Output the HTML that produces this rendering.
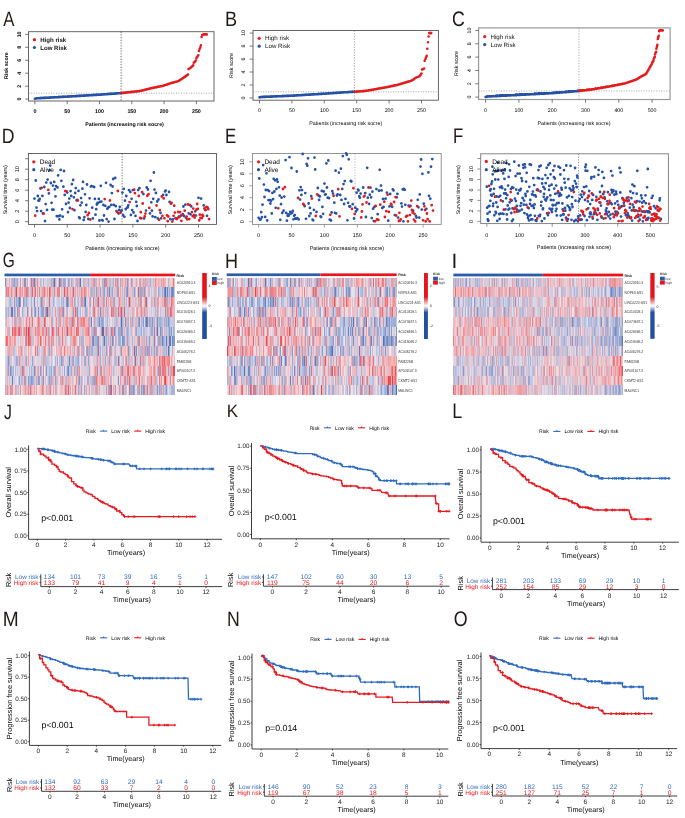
<!DOCTYPE html>
<html><head><meta charset="utf-8"><style>
html,body{margin:0;padding:0;background:#fff;}
svg{display:block;font-family:"Liberation Sans", sans-serif;position:absolute;left:0;top:0;}
#c{position:relative;width:685px;height:818px;overflow:hidden;filter:blur(0.3px);}
#c div{position:absolute;}
</style></head><body>
<div id="c"><svg width="685" height="818" viewBox="0 0 685 818" text-rendering="geometricPrecision">
<rect width="685" height="818" fill="#fff"/>
<g opacity="0.995">
<text transform="translate(3.17 25.50) scale(0.802 1)" font-size="20.88" fill="#201816">A</text>
<rect x="28.5" y="31.7" width="185.5" height="69.3" fill="none" stroke="#555" stroke-width="0.9"/>
<line x1="25.2" y1="99.1" x2="28.5" y2="99.1" stroke="#555" stroke-width="0.8"/>
<text x="21" y="99.1" font-size="5.3" text-anchor="middle" font-weight="bold" fill="#000" transform="rotate(-90 21 99.1)">0</text>
<line x1="25.2" y1="86.2" x2="28.5" y2="86.2" stroke="#555" stroke-width="0.8"/>
<text x="21" y="86.2" font-size="5.3" text-anchor="middle" font-weight="bold" fill="#000" transform="rotate(-90 21 86.2)">2</text>
<line x1="25.2" y1="73.2" x2="28.5" y2="73.2" stroke="#555" stroke-width="0.8"/>
<text x="21" y="73.2" font-size="5.3" text-anchor="middle" font-weight="bold" fill="#000" transform="rotate(-90 21 73.2)">4</text>
<line x1="25.2" y1="60.3" x2="28.5" y2="60.3" stroke="#555" stroke-width="0.8"/>
<text x="21" y="60.3" font-size="5.3" text-anchor="middle" font-weight="bold" fill="#000" transform="rotate(-90 21 60.3)">6</text>
<line x1="25.2" y1="47.3" x2="28.5" y2="47.3" stroke="#555" stroke-width="0.8"/>
<text x="21" y="47.3" font-size="5.3" text-anchor="middle" font-weight="bold" fill="#000" transform="rotate(-90 21 47.3)">8</text>
<line x1="25.2" y1="34.4" x2="28.5" y2="34.4" stroke="#555" stroke-width="0.8"/>
<text x="21" y="34.4" font-size="5.3" text-anchor="middle" font-weight="bold" fill="#000" transform="rotate(-90 21 34.4)">10</text>
<line x1="34.9" y1="101" x2="34.9" y2="104.2" stroke="#555" stroke-width="0.8"/>
<text x="34.9" y="113" font-size="5.3" text-anchor="middle" font-weight="bold" fill="#000">0</text>
<line x1="67.2" y1="101" x2="67.2" y2="104.2" stroke="#555" stroke-width="0.8"/>
<text x="67.2" y="113" font-size="5.3" text-anchor="middle" font-weight="bold" fill="#000">50</text>
<line x1="99.5" y1="101" x2="99.5" y2="104.2" stroke="#555" stroke-width="0.8"/>
<text x="99.5" y="113" font-size="5.3" text-anchor="middle" font-weight="bold" fill="#000">100</text>
<line x1="131.8" y1="101" x2="131.8" y2="104.2" stroke="#555" stroke-width="0.8"/>
<text x="131.8" y="113" font-size="5.3" text-anchor="middle" font-weight="bold" fill="#000">150</text>
<line x1="164.1" y1="101" x2="164.1" y2="104.2" stroke="#555" stroke-width="0.8"/>
<text x="164.1" y="113" font-size="5.3" text-anchor="middle" font-weight="bold" fill="#000">200</text>
<line x1="196.4" y1="101" x2="196.4" y2="104.2" stroke="#555" stroke-width="0.8"/>
<text x="196.4" y="113" font-size="5.3" text-anchor="middle" font-weight="bold" fill="#000">250</text>
<text x="124.6" y="125.5" font-size="5.3" text-anchor="middle" font-weight="bold" fill="#000">Patients (increasing risk socre)</text>
<text x="8.3" y="65.6" font-size="5.3" text-anchor="middle" font-weight="bold" fill="#000" transform="rotate(-90 8.3 65.6)">Risk score</text>
<line x1="28.5" y1="93.2" x2="214" y2="93.2" stroke="#888" stroke-width="0.7" stroke-dasharray="1.1 1.4"/>
<line x1="121.1" y1="31.7" x2="121.1" y2="101" stroke="#222" stroke-width="0.7" stroke-dasharray="1.2 1.5"/>
<path d="M34.9 98.8h0M35.5 98.6h0M36.2 98.5h0M36.8 98.3h0M37.5 98.3h0M38.1 98.3h0M38.8 98.2h0M39.4 98.2h0M40.1 98.1h0M40.7 98.1h0M41.4 98.1h0M42 98h0M42.7 98h0M43.3 98h0M43.9 97.9h0M44.6 97.9h0M45.2 97.9h0M45.9 97.8h0M46.5 97.8h0M47.2 97.8h0M47.8 97.7h0M48.5 97.7h0M49.1 97.6h0M49.8 97.6h0M50.4 97.6h0M51 97.5h0M51.7 97.5h0M52.3 97.5h0M53 97.4h0M53.6 97.4h0M54.3 97.4h0M54.9 97.3h0M55.6 97.3h0M56.2 97.2h0M56.9 97.2h0M57.5 97.2h0M58.2 97.1h0M58.8 97.1h0M59.4 97.1h0M60.1 97h0M60.7 97h0M61.4 97h0M62 96.9h0M62.7 96.9h0M63.3 96.9h0M64 96.8h0M64.6 96.8h0M65.3 96.7h0M65.9 96.7h0M66.6 96.7h0M67.2 96.6h0M67.8 96.6h0M68.5 96.6h0M69.1 96.5h0M69.8 96.5h0M70.4 96.4h0M71.1 96.4h0M71.7 96.4h0M72.4 96.3h0M73 96.3h0M73.7 96.3h0M74.3 96.2h0M75 96.2h0M75.6 96.1h0M76.2 96.1h0M76.9 96.1h0M77.5 96h0M78.2 96h0M78.8 95.9h0M79.5 95.9h0M80.1 95.9h0M80.8 95.8h0M81.4 95.8h0M82.1 95.7h0M82.7 95.7h0M83.3 95.7h0M84 95.6h0M84.6 95.6h0M85.3 95.6h0M85.9 95.5h0M86.6 95.5h0M87.2 95.4h0M87.9 95.4h0M88.5 95.4h0M89.2 95.3h0M89.8 95.3h0M90.5 95.2h0M91.1 95.2h0M91.7 95.2h0M92.4 95.1h0M93 95.1h0M93.7 95h0M94.3 95h0M95 95h0M95.6 94.9h0M96.3 94.9h0M96.9 94.9h0M97.6 94.8h0M98.2 94.8h0M98.9 94.7h0M99.5 94.7h0M100.1 94.7h0M100.8 94.6h0M101.4 94.6h0M102.1 94.5h0M102.7 94.5h0M103.4 94.4h0M104 94.4h0M104.7 94.3h0M105.3 94.3h0M106 94.2h0M106.6 94.2h0M107.3 94.1h0M107.9 94.1h0M108.5 94h0M109.2 94h0M109.8 93.9h0M110.5 93.9h0M111.1 93.9h0M111.8 93.8h0M112.4 93.8h0M113.1 93.7h0M113.7 93.7h0M114.4 93.6h0M115 93.6h0M115.7 93.5h0M116.3 93.5h0M116.9 93.4h0M117.6 93.4h0M118.2 93.3h0M118.9 93.3h0M119.5 93.2h0M120.2 93.2h0M120.8 93.1h0" stroke="#2451A6" stroke-width="2.64" stroke-linecap="round"/>
<path d="M121.5 93.1h0M122.1 93h0M122.8 92.9h0M123.4 92.9h0M124 92.8h0M124.7 92.7h0M125.3 92.6h0M126 92.6h0M126.6 92.5h0M127.3 92.4h0M127.9 92.4h0M128.6 92.3h0M129.2 92.2h0M129.9 92.2h0M130.5 92.1h0M131.2 92h0M131.8 91.9h0M132.4 91.9h0M133.1 91.8h0M133.7 91.7h0M134.4 91.7h0M135 91.6h0M135.7 91.5h0M136.3 91.4h0M137 91.4h0M137.6 91.3h0M138.3 91.2h0M138.9 91.2h0M139.6 91.1h0M140.2 91h0M140.8 90.8h0M141.5 90.7h0M142.1 90.5h0M142.8 90.4h0M143.4 90.2h0M144.1 90h0M144.7 89.9h0M145.4 89.7h0M146 89.5h0M146.7 89.4h0M147.3 89.2h0M147.9 89h0M148.6 88.9h0M149.2 88.7h0M149.9 88.6h0M150.5 88.4h0M151.2 88.2h0M151.8 88.1h0M152.5 88h0M153.1 87.8h0M153.8 87.7h0M154.4 87.6h0M155.1 87.5h0M155.7 87.3h0M156.3 87.2h0M157 87.1h0M157.6 86.9h0M158.3 86.8h0M158.9 86.7h0M159.6 86.5h0M160.2 86.4h0M160.9 86.3h0M161.5 86.2h0M162.2 86h0M162.8 85.8h0M163.5 85.6h0M164.1 85.4h0M164.7 85.2h0M165.4 85h0M166 84.8h0M166.7 84.6h0M167.3 84.4h0M168 84.1h0M168.6 83.9h0M169.3 83.7h0M169.9 83.5h0M170.6 83.3h0M171.2 83.1h0M171.9 82.9h0M172.5 82.8h0M173.1 82.6h0M173.8 82.4h0M174.4 82.2h0M175.1 82h0M175.7 81.8h0M176.4 81.7h0M177 81.5h0M177.7 81.3h0M178.3 81.1h0M179 80.7h0M179.6 80.3h0M180.2 79.9h0M180.9 79.5h0M181.5 79.1h0M182.2 78.6h0M182.8 78.2h0M183.5 77.8h0M184.1 77.3h0M184.8 76.9h0M185.4 76.4h0M186.1 75.9h0M186.7 75.5h0M187.4 75h0M188 74.5h0M188.6 69.1h0M189.3 68.6h0M189.9 68.2h0M190.6 67.7h0M191.2 67.2h0M191.9 66.6h0M192.5 66h0M193.2 65.4h0M193.8 62.7h0M194.5 62.1h0M195.1 61.5h0M195.8 60.8h0M196.4 58.2h0M197 57.2h0M197.7 56.2h0M198.3 55.2h0M199 51h0M199.6 49.1h0M200.3 47.2h0M200.9 45.2h0M201.6 37h0M202.2 35.1h0M202.9 34.8h0M203.5 34.4h0M204.2 34.4h0M204.8 34.4h0M205.4 34.4h0M206.1 34.4h0M206.7 34.4h0" stroke="#E41A1C" stroke-width="2.64" stroke-linecap="round"/>
<circle cx="34.4" cy="39.7" r="1.6" fill="#E41A1C"/>
<circle cx="34.4" cy="47.5" r="1.6" fill="#2451A6"/>
<text x="40.2" y="41.8" font-size="6.1" font-weight="bold" fill="#111">High risk</text>
<text x="40.2" y="49.6" font-size="6.1" font-weight="bold" fill="#111">Low Risk</text>
<text transform="translate(224.95 25.70) scale(0.875 1)" font-size="20.72" fill="#201816">B</text>
<rect x="253" y="30.5" width="185.4" height="69.7" fill="none" stroke="#555" stroke-width="0.9"/>
<line x1="249.7" y1="98" x2="253" y2="98" stroke="#555" stroke-width="0.8"/>
<text x="245.3" y="98" font-size="5.3" text-anchor="middle" fill="#000" transform="rotate(-90 245.3 98)">0</text>
<line x1="249.7" y1="85" x2="253" y2="85" stroke="#555" stroke-width="0.8"/>
<text x="245.3" y="85" font-size="5.3" text-anchor="middle" fill="#000" transform="rotate(-90 245.3 85)">2</text>
<line x1="249.7" y1="72" x2="253" y2="72" stroke="#555" stroke-width="0.8"/>
<text x="245.3" y="72" font-size="5.3" text-anchor="middle" fill="#000" transform="rotate(-90 245.3 72)">4</text>
<line x1="249.7" y1="59.1" x2="253" y2="59.1" stroke="#555" stroke-width="0.8"/>
<text x="245.3" y="59.1" font-size="5.3" text-anchor="middle" fill="#000" transform="rotate(-90 245.3 59.1)">6</text>
<line x1="249.7" y1="46.1" x2="253" y2="46.1" stroke="#555" stroke-width="0.8"/>
<text x="245.3" y="46.1" font-size="5.3" text-anchor="middle" fill="#000" transform="rotate(-90 245.3 46.1)">8</text>
<line x1="249.7" y1="33.1" x2="253" y2="33.1" stroke="#555" stroke-width="0.8"/>
<text x="245.3" y="33.1" font-size="5.3" text-anchor="middle" fill="#000" transform="rotate(-90 245.3 33.1)">10</text>
<line x1="259.5" y1="100.2" x2="259.5" y2="103.4" stroke="#555" stroke-width="0.8"/>
<text x="259.5" y="111.9" font-size="5.3" text-anchor="middle" fill="#000">0</text>
<line x1="291.9" y1="100.2" x2="291.9" y2="103.4" stroke="#555" stroke-width="0.8"/>
<text x="291.9" y="111.9" font-size="5.3" text-anchor="middle" fill="#000">50</text>
<line x1="324.3" y1="100.2" x2="324.3" y2="103.4" stroke="#555" stroke-width="0.8"/>
<text x="324.3" y="111.9" font-size="5.3" text-anchor="middle" fill="#000">100</text>
<line x1="356.7" y1="100.2" x2="356.7" y2="103.4" stroke="#555" stroke-width="0.8"/>
<text x="356.7" y="111.9" font-size="5.3" text-anchor="middle" fill="#000">150</text>
<line x1="389.1" y1="100.2" x2="389.1" y2="103.4" stroke="#555" stroke-width="0.8"/>
<text x="389.1" y="111.9" font-size="5.3" text-anchor="middle" fill="#000">200</text>
<line x1="421.5" y1="100.2" x2="421.5" y2="103.4" stroke="#555" stroke-width="0.8"/>
<text x="421.5" y="111.9" font-size="5.3" text-anchor="middle" fill="#000">250</text>
<text x="345.8" y="124.7" font-size="5.35" text-anchor="middle" fill="#000">Patients (increasing risk socre)</text>
<text x="232.7" y="65.5" font-size="5.35" text-anchor="middle" fill="#000" transform="rotate(-90 232.7 65.5)">Risk score</text>
<line x1="253" y1="91.8" x2="438.4" y2="91.8" stroke="#888" stroke-width="0.7" stroke-dasharray="1.1 1.4"/>
<line x1="354.4" y1="30.5" x2="354.4" y2="100.2" stroke="#777" stroke-width="0.7" stroke-dasharray="1.2 1.5"/>
<path d="M259.5 97.4h0M260.1 97.2h0M260.8 97.1h0M261.4 97h0M262.1 97h0M262.7 97h0M263.4 96.9h0M264 96.9h0M264.7 96.9h0M265.3 96.9h0M266 96.8h0M266.6 96.8h0M267.3 96.8h0M267.9 96.8h0M268.6 96.7h0M269.2 96.7h0M269.9 96.7h0M270.5 96.6h0M271.2 96.6h0M271.8 96.6h0M272.5 96.6h0M273.1 96.5h0M273.8 96.5h0M274.4 96.5h0M275.1 96.4h0M275.7 96.4h0M276.3 96.4h0M277 96.4h0M277.6 96.3h0M278.3 96.3h0M278.9 96.3h0M279.6 96.3h0M280.2 96.2h0M280.9 96.2h0M281.5 96.2h0M282.2 96.1h0M282.8 96.1h0M283.5 96.1h0M284.1 96.1h0M284.8 96h0M285.4 96h0M286.1 96h0M286.7 95.9h0M287.4 95.9h0M288 95.9h0M288.7 95.9h0M289.3 95.8h0M290 95.8h0M290.6 95.8h0M291.3 95.8h0M291.9 95.7h0M292.5 95.7h0M293.2 95.6h0M293.8 95.6h0M294.5 95.6h0M295.1 95.5h0M295.8 95.5h0M296.4 95.4h0M297.1 95.4h0M297.7 95.4h0M298.4 95.3h0M299 95.3h0M299.7 95.2h0M300.3 95.2h0M301 95.2h0M301.6 95.1h0M302.3 95.1h0M302.9 95h0M303.6 95h0M304.2 95h0M304.9 94.9h0M305.5 94.9h0M306.2 94.8h0M306.8 94.8h0M307.5 94.8h0M308.1 94.7h0M308.7 94.7h0M309.4 94.6h0M310 94.6h0M310.7 94.6h0M311.3 94.5h0M312 94.5h0M312.6 94.4h0M313.3 94.4h0M313.9 94.4h0M314.6 94.3h0M315.2 94.3h0M315.9 94.2h0M316.5 94.2h0M317.2 94.2h0M317.8 94.1h0M318.5 94.1h0M319.1 94h0M319.8 94h0M320.4 94h0M321.1 93.9h0M321.7 93.9h0M322.4 93.8h0M323 93.8h0M323.7 93.8h0M324.3 93.7h0M324.9 93.7h0M325.6 93.6h0M326.2 93.6h0M326.9 93.5h0M327.5 93.5h0M328.2 93.4h0M328.8 93.4h0M329.5 93.4h0M330.1 93.3h0M330.8 93.3h0M331.4 93.2h0M332.1 93.2h0M332.7 93.1h0M333.4 93.1h0M334 93h0M334.7 93h0M335.3 93h0M336 92.9h0M336.6 92.9h0M337.3 92.8h0M337.9 92.8h0M338.6 92.7h0M339.2 92.7h0M339.9 92.6h0M340.5 92.6h0M341.1 92.6h0M341.8 92.5h0M342.4 92.5h0M343.1 92.4h0M343.7 92.4h0M344.4 92.3h0M345 92.3h0M345.7 92.3h0M346.3 92.2h0M347 92.2h0M347.6 92.2h0M348.3 92.1h0M348.9 92.1h0M349.6 92h0M350.2 92h0M350.9 92h0M351.5 91.9h0M352.2 91.9h0M352.8 91.9h0M353.5 91.8h0M354.1 91.8h0" stroke="#2451A6" stroke-width="2.64" stroke-linecap="round"/>
<path d="M354.8 91.8h0M355.4 91.7h0M356.1 91.7h0M356.7 91.6h0M357.3 91.6h0M358 91.5h0M358.6 91.5h0M359.3 91.4h0M359.9 91.4h0M360.6 91.3h0M361.2 91.3h0M361.9 91.2h0M362.5 91.2h0M363.2 91.1h0M363.8 91.1h0M364.5 91h0M365.1 91h0M365.8 90.9h0M366.4 90.8h0M367.1 90.7h0M367.7 90.5h0M368.4 90.4h0M369 90.3h0M369.7 90.2h0M370.3 90.1h0M371 90h0M371.6 89.9h0M372.3 89.8h0M372.9 89.7h0M373.5 89.6h0M374.2 89.4h0M374.8 89.3h0M375.5 89.2h0M376.1 89.1h0M376.8 89h0M377.4 88.9h0M378.1 88.8h0M378.7 88.6h0M379.4 88.5h0M380 88.4h0M380.7 88.3h0M381.3 88.2h0M382 88h0M382.6 87.9h0M383.3 87.8h0M383.9 87.7h0M384.6 87.6h0M385.2 87.5h0M385.9 87.3h0M386.5 87.2h0M387.2 87.1h0M387.8 87h0M388.5 86.8h0M389.1 86.7h0M389.7 86.5h0M390.4 86.4h0M391 86.3h0M391.7 86.1h0M392.3 86h0M393 85.9h0M393.6 85.7h0M394.3 85.6h0M394.9 85.4h0M395.6 85.3h0M396.2 85.2h0M396.9 85h0M397.5 84.9h0M398.2 84.7h0M398.8 84.5h0M399.5 84.3h0M400.1 84.1h0M400.8 83.9h0M401.4 83.7h0M402.1 83.5h0M402.7 83.3h0M403.4 83.1h0M404 82.9h0M404.7 82.7h0M405.3 82.5h0M405.9 82.3h0M406.6 82.1h0M407.2 81.9h0M407.9 81.7h0M408.5 81.6h0M409.2 81.4h0M409.8 81.2h0M410.5 81h0M411.1 80.8h0M411.8 80.6h0M412.4 80.1h0M413.1 79.7h0M413.7 79.2h0M414.4 78.7h0M415 78.3h0M415.7 77.8h0M416.3 77.5h0M417 77.3h0M417.6 77h0M418.3 76.7h0M418.9 76.5h0M419.6 76.2h0M420.2 75.3h0M420.9 74.4h0M421.5 73.5h0M422.1 69.6h0M422.8 69.2h0M423.4 68.8h0M424.1 68.5h0M424.7 60.8h0M425.4 59.2h0M426 57.5h0M426.7 55.9h0M427.3 48.8h0M428 42.2h0M428.6 36.5h0M429.3 33.1h0M429.9 33.1h0M430.6 33.1h0M431.2 33.1h0" stroke="#E41A1C" stroke-width="2.64" stroke-linecap="round"/>
<circle cx="259.2" cy="38.3" r="1.6" fill="#E41A1C"/>
<circle cx="259.2" cy="46.2" r="1.6" fill="#2451A6"/>
<text x="265" y="40.4" font-size="6.2" fill="#111">High risk</text>
<text x="265" y="48.3" font-size="6.2" fill="#111">Low Risk</text>
<text transform="translate(452.11 25.99) scale(0.847 1)" font-size="20.99" fill="#201816">C</text>
<rect x="478.6" y="27.9" width="191.5" height="71.6" fill="none" stroke="#999" stroke-width="1.2"/>
<line x1="475.3" y1="97.1" x2="478.6" y2="97.1" stroke="#555" stroke-width="0.8"/>
<text x="470.9" y="97.1" font-size="5.3" text-anchor="middle" fill="#000" transform="rotate(-90 470.9 97.1)">0</text>
<line x1="475.3" y1="83.8" x2="478.6" y2="83.8" stroke="#555" stroke-width="0.8"/>
<text x="470.9" y="83.8" font-size="5.3" text-anchor="middle" fill="#000" transform="rotate(-90 470.9 83.8)">2</text>
<line x1="475.3" y1="70.5" x2="478.6" y2="70.5" stroke="#555" stroke-width="0.8"/>
<text x="470.9" y="70.5" font-size="5.3" text-anchor="middle" fill="#000" transform="rotate(-90 470.9 70.5)">4</text>
<line x1="475.3" y1="57.1" x2="478.6" y2="57.1" stroke="#555" stroke-width="0.8"/>
<text x="470.9" y="57.1" font-size="5.3" text-anchor="middle" fill="#000" transform="rotate(-90 470.9 57.1)">6</text>
<line x1="475.3" y1="43.8" x2="478.6" y2="43.8" stroke="#555" stroke-width="0.8"/>
<text x="470.9" y="43.8" font-size="5.3" text-anchor="middle" fill="#000" transform="rotate(-90 470.9 43.8)">8</text>
<line x1="475.3" y1="30.5" x2="478.6" y2="30.5" stroke="#555" stroke-width="0.8"/>
<text x="470.9" y="30.5" font-size="5.3" text-anchor="middle" fill="#000" transform="rotate(-90 470.9 30.5)">10</text>
<line x1="485.6" y1="99.5" x2="485.6" y2="102.7" stroke="#555" stroke-width="0.8"/>
<text x="485.6" y="111.9" font-size="5.3" text-anchor="middle" fill="#000">0</text>
<line x1="518.9" y1="99.5" x2="518.9" y2="102.7" stroke="#555" stroke-width="0.8"/>
<text x="518.9" y="111.9" font-size="5.3" text-anchor="middle" fill="#000">100</text>
<line x1="552.2" y1="99.5" x2="552.2" y2="102.7" stroke="#555" stroke-width="0.8"/>
<text x="552.2" y="111.9" font-size="5.3" text-anchor="middle" fill="#000">200</text>
<line x1="585.5" y1="99.5" x2="585.5" y2="102.7" stroke="#555" stroke-width="0.8"/>
<text x="585.5" y="111.9" font-size="5.3" text-anchor="middle" fill="#000">300</text>
<line x1="618.8" y1="99.5" x2="618.8" y2="102.7" stroke="#555" stroke-width="0.8"/>
<text x="618.8" y="111.9" font-size="5.3" text-anchor="middle" fill="#000">400</text>
<line x1="652.1" y1="99.5" x2="652.1" y2="102.7" stroke="#555" stroke-width="0.8"/>
<text x="652.1" y="111.9" font-size="5.3" text-anchor="middle" fill="#000">500</text>
<text x="574" y="124.7" font-size="5.35" text-anchor="middle" fill="#000">Patients (increasing risk socre)</text>
<text x="457.9" y="63.5" font-size="5.35" text-anchor="middle" fill="#000" transform="rotate(-90 457.9 63.5)">Risk score</text>
<line x1="478.6" y1="91" x2="670.1" y2="91" stroke="#888" stroke-width="0.7" stroke-dasharray="1.1 1.4"/>
<line x1="579" y1="27.9" x2="579" y2="99.5" stroke="#888" stroke-width="0.7" stroke-dasharray="1.2 1.5"/>
<path d="M485.6 97h0M485.9 96.9h0M486.3 96.8h0M486.6 96.7h0M486.9 96.6h0M487.3 96.6h0M487.6 96.6h0M487.9 96.5h0M488.3 96.5h0M488.6 96.5h0M488.9 96.5h0M489.3 96.5h0M489.6 96.4h0M489.9 96.4h0M490.3 96.4h0M490.6 96.4h0M490.9 96.4h0M491.3 96.4h0M491.6 96.3h0M491.9 96.3h0M492.3 96.3h0M492.6 96.3h0M492.9 96.3h0M493.3 96.3h0M493.6 96.2h0M493.9 96.2h0M494.3 96.2h0M494.6 96.2h0M494.9 96.2h0M495.3 96.2h0M495.6 96.1h0M495.9 96.1h0M496.3 96.1h0M496.6 96.1h0M496.9 96.1h0M497.3 96.1h0M497.6 96h0M497.9 96h0M498.3 96h0M498.6 96h0M498.9 96h0M499.3 95.9h0M499.6 95.9h0M499.9 95.9h0M500.3 95.9h0M500.6 95.9h0M500.9 95.9h0M501.3 95.8h0M501.6 95.8h0M501.9 95.8h0M502.2 95.8h0M502.6 95.8h0M502.9 95.8h0M503.2 95.7h0M503.6 95.7h0M503.9 95.7h0M504.2 95.7h0M504.6 95.7h0M504.9 95.7h0M505.2 95.6h0M505.6 95.6h0M505.9 95.6h0M506.2 95.6h0M506.6 95.6h0M506.9 95.6h0M507.2 95.5h0M507.6 95.5h0M507.9 95.5h0M508.2 95.5h0M508.6 95.5h0M508.9 95.5h0M509.2 95.4h0M509.6 95.4h0M509.9 95.4h0M510.2 95.4h0M510.6 95.4h0M510.9 95.3h0M511.2 95.3h0M511.6 95.3h0M511.9 95.3h0M512.2 95.3h0M512.6 95.3h0M512.9 95.2h0M513.2 95.2h0M513.6 95.2h0M513.9 95.2h0M514.2 95.2h0M514.6 95.2h0M514.9 95.1h0M515.2 95.1h0M515.6 95.1h0M515.9 95.1h0M516.2 95.1h0M516.6 95.1h0M516.9 95h0M517.2 95h0M517.6 95h0M517.9 95h0M518.2 95h0M518.6 95h0M518.9 94.9h0M519.2 94.9h0M519.6 94.9h0M519.9 94.9h0M520.2 94.9h0M520.6 94.8h0M520.9 94.8h0M521.2 94.8h0M521.6 94.8h0M521.9 94.8h0M522.2 94.8h0M522.6 94.7h0M522.9 94.7h0M523.2 94.7h0M523.6 94.7h0M523.9 94.7h0M524.2 94.7h0M524.6 94.6h0M524.9 94.6h0M525.2 94.6h0M525.6 94.6h0M525.9 94.6h0M526.2 94.5h0M526.6 94.5h0M526.9 94.5h0M527.2 94.5h0M527.6 94.5h0M527.9 94.5h0M528.2 94.4h0M528.6 94.4h0M528.9 94.4h0M529.2 94.4h0M529.6 94.4h0M529.9 94.4h0M530.2 94.3h0M530.6 94.3h0M530.9 94.3h0M531.2 94.3h0M531.6 94.3h0M531.9 94.2h0M532.2 94.2h0M532.6 94.2h0M532.9 94.2h0M533.2 94.2h0M533.6 94.2h0M533.9 94.1h0M534.2 94.1h0M534.6 94.1h0M534.9 94.1h0M535.2 94.1h0M535.6 94.1h0M535.9 94h0M536.2 94h0M536.5 94h0M536.9 94h0M537.2 94h0M537.5 93.9h0M537.9 93.9h0M538.2 93.9h0M538.5 93.9h0M538.9 93.9h0M539.2 93.9h0M539.5 93.8h0M539.9 93.8h0M540.2 93.8h0M540.5 93.8h0M540.9 93.8h0M541.2 93.8h0M541.5 93.7h0M541.9 93.7h0M542.2 93.7h0M542.5 93.7h0M542.9 93.7h0M543.2 93.6h0M543.5 93.6h0M543.9 93.6h0M544.2 93.6h0M544.5 93.6h0M544.9 93.6h0M545.2 93.5h0M545.5 93.5h0M545.9 93.5h0M546.2 93.5h0M546.5 93.5h0M546.9 93.5h0M547.2 93.4h0M547.5 93.4h0M547.9 93.4h0M548.2 93.4h0M548.5 93.4h0M548.9 93.3h0M549.2 93.3h0M549.5 93.3h0M549.9 93.3h0M550.2 93.3h0M550.5 93.3h0M550.9 93.2h0M551.2 93.2h0M551.5 93.2h0M551.9 93.2h0M552.2 93.2h0M552.5 93.1h0M552.9 93.1h0M553.2 93.1h0M553.5 93.1h0M553.9 93h0M554.2 93h0M554.5 93h0M554.9 93h0M555.2 92.9h0M555.5 92.9h0M555.9 92.9h0M556.2 92.9h0M556.5 92.8h0M556.9 92.8h0M557.2 92.8h0M557.5 92.7h0M557.9 92.7h0M558.2 92.7h0M558.5 92.7h0M558.9 92.6h0M559.2 92.6h0M559.5 92.6h0M559.9 92.6h0M560.2 92.5h0M560.5 92.5h0M560.9 92.5h0M561.2 92.5h0M561.5 92.4h0M561.9 92.4h0M562.2 92.4h0M562.5 92.4h0M562.9 92.3h0M563.2 92.3h0M563.5 92.3h0M563.9 92.2h0M564.2 92.2h0M564.5 92.2h0M564.9 92.2h0M565.2 92.1h0M565.5 92.1h0M565.9 92.1h0M566.2 92.1h0M566.5 92h0M566.9 92h0M567.2 92h0M567.5 92h0M567.9 91.9h0M568.2 91.9h0M568.5 91.9h0M568.9 91.9h0M569.2 91.8h0M569.5 91.8h0M569.8 91.8h0M570.2 91.7h0M570.5 91.7h0M570.8 91.7h0M571.2 91.7h0M571.5 91.6h0M571.8 91.6h0M572.2 91.6h0M572.5 91.5h0M572.8 91.5h0M573.2 91.5h0M573.5 91.4h0M573.8 91.4h0M574.2 91.4h0M574.5 91.4h0M574.8 91.3h0M575.2 91.3h0M575.5 91.3h0M575.8 91.2h0M576.2 91.2h0M576.5 91.2h0M576.8 91.2h0M577.2 91.1h0M577.5 91.1h0M577.8 91.1h0M578.2 91h0M578.5 91h0M578.8 91h0" stroke="#2451A6" stroke-width="2.64" stroke-linecap="round"/>
<path d="M579.2 90.9h0M579.5 90.9h0M579.8 90.9h0M580.2 90.8h0M580.5 90.8h0M580.8 90.8h0M581.2 90.7h0M581.5 90.7h0M581.8 90.6h0M582.2 90.6h0M582.5 90.6h0M582.8 90.5h0M583.2 90.5h0M583.5 90.5h0M583.8 90.4h0M584.2 90.4h0M584.5 90.4h0M584.8 90.3h0M585.2 90.3h0M585.5 90.2h0M585.8 90.2h0M586.2 90.2h0M586.5 90.1h0M586.8 90.1h0M587.2 90.1h0M587.5 90h0M587.8 90h0M588.2 90h0M588.5 89.9h0M588.8 89.9h0M589.2 89.8h0M589.5 89.8h0M589.8 89.8h0M590.2 89.7h0M590.5 89.7h0M590.8 89.6h0M591.2 89.6h0M591.5 89.5h0M591.8 89.4h0M592.2 89.4h0M592.5 89.3h0M592.8 89.3h0M593.2 89.2h0M593.5 89.2h0M593.8 89.1h0M594.2 89.1h0M594.5 89h0M594.8 88.9h0M595.2 88.9h0M595.5 88.8h0M595.8 88.8h0M596.2 88.7h0M596.5 88.7h0M596.8 88.6h0M597.2 88.6h0M597.5 88.5h0M597.8 88.4h0M598.2 88.4h0M598.5 88.3h0M598.8 88.3h0M599.2 88.2h0M599.5 88.2h0M599.8 88.1h0M600.2 88.1h0M600.5 88h0M600.8 87.9h0M601.2 87.9h0M601.5 87.8h0M601.8 87.8h0M602.2 87.7h0M602.5 87.7h0M602.8 87.6h0M603.1 87.5h0M603.5 87.5h0M603.8 87.4h0M604.1 87.4h0M604.5 87.3h0M604.8 87.2h0M605.1 87.2h0M605.5 87.1h0M605.8 87.1h0M606.1 87h0M606.5 87h0M606.8 86.9h0M607.1 86.8h0M607.5 86.8h0M607.8 86.7h0M608.1 86.7h0M608.5 86.6h0M608.8 86.5h0M609.1 86.5h0M609.5 86.4h0M609.8 86.4h0M610.1 86.3h0M610.5 86.2h0M610.8 86.2h0M611.1 86.1h0M611.5 86.1h0M611.8 86h0M612.1 85.9h0M612.5 85.9h0M612.8 85.8h0M613.1 85.8h0M613.5 85.7h0M613.8 85.6h0M614.1 85.6h0M614.5 85.5h0M614.8 85.4h0M615.1 85.4h0M615.5 85.3h0M615.8 85.2h0M616.1 85.2h0M616.5 85.1h0M616.8 85h0M617.1 85h0M617.5 84.9h0M617.8 84.8h0M618.1 84.8h0M618.5 84.7h0M618.8 84.6h0M619.1 84.6h0M619.5 84.5h0M619.8 84.4h0M620.1 84.4h0M620.5 84.3h0M620.8 84.2h0M621.1 84.2h0M621.5 84.1h0M621.8 84h0M622.1 84h0M622.5 83.9h0M622.8 83.8h0M623.1 83.8h0M623.5 83.7h0M623.8 83.6h0M624.1 83.6h0M624.5 83.5h0M624.8 83.4h0M625.1 83.4h0M625.5 83.3h0M625.8 83.1h0M626.1 83h0M626.5 82.9h0M626.8 82.8h0M627.1 82.7h0M627.5 82.6h0M627.8 82.4h0M628.1 82.3h0M628.5 82.2h0M628.8 82.1h0M629.1 82h0M629.5 81.9h0M629.8 81.7h0M630.1 81.6h0M630.5 81.5h0M630.8 81.4h0M631.1 81.3h0M631.5 81.2h0M631.8 81h0M632.1 80.9h0M632.5 80.8h0M632.8 80.7h0M633.1 80.6h0M633.5 80.5h0M633.8 80.4h0M634.1 80.2h0M634.5 80.1h0M634.8 80h0M635.1 79.9h0M635.5 79.8h0M635.8 79.7h0M636.1 79.5h0M636.4 79.4h0M636.8 79.3h0M637.1 79.1h0M637.4 78.9h0M637.8 78.7h0M638.1 78.5h0M638.4 78.3h0M638.8 78.1h0M639.1 77.9h0M639.4 77.6h0M639.8 77.4h0M640.1 77.2h0M640.4 77h0M640.8 76.8h0M641.1 76.6h0M641.4 76.4h0M641.8 76.2h0M642.1 76h0M642.4 75.9h0M642.8 75.7h0M643.1 75.5h0M643.4 75.4h0M643.8 75.2h0M644.1 75h0M644.4 74.8h0M644.8 74.7h0M645.1 74.5h0M645.4 74.3h0M645.8 74.2h0M646.1 74h0M646.4 73.4h0M646.8 72.8h0M647.1 72.3h0M647.4 71.7h0M647.8 71.1h0M648.1 70.5h0M648.4 70h0M648.8 69.4h0M649.1 68.8h0M649.4 68.2h0M649.8 67.6h0M650.1 67h0M650.4 66.5h0M650.8 65.9h0M651.1 65.3h0M651.4 64.7h0M651.8 64.1h0M652.1 63.3h0M652.4 62.4h0M652.8 61.9h0M653.1 61.4h0M653.4 60.9h0M653.8 58.9h0M654.1 58.2h0M654.4 57.6h0M654.8 56.9h0M655.1 54.2h0M655.4 53.4h0M655.8 52.7h0M656.1 51.9h0M656.4 48.7h0M656.8 47.3h0M657.1 46h0M657.4 44.7h0M657.8 39h0M658.1 38h0M658.4 36.9h0M658.8 35.8h0M659.1 31.3h0M659.4 30.5h0M659.8 30.5h0M660.1 30.5h0M660.4 30.5h0M660.8 30.5h0M661.1 30.5h0M661.4 30.5h0M661.8 30.5h0M662.1 30.5h0M662.4 30.5h0M662.8 30.5h0" stroke="#E41A1C" stroke-width="2.64" stroke-linecap="round"/>
<circle cx="484.7" cy="36.6" r="1.6" fill="#E41A1C"/>
<circle cx="484.7" cy="44.6" r="1.6" fill="#2451A6"/>
<text x="490.5" y="38.7" font-size="6.2" fill="#111">High risk</text>
<text x="490.5" y="46.7" font-size="6.2" fill="#111">Low Risk</text>
<text transform="translate(1.69 142.80) scale(0.852 1)" font-size="20.72" fill="#201816">D</text>
<rect x="28.4" y="153.5" width="188.1" height="70.9" fill="none" stroke="#555" stroke-width="0.9"/>
<line x1="25.1" y1="221.7" x2="28.4" y2="221.7" stroke="#555" stroke-width="0.8"/>
<text x="19.5" y="221.7" font-size="5.6" text-anchor="middle" fill="#000" transform="rotate(-90 19.5 221.7)">0</text>
<line x1="25.1" y1="211.2" x2="28.4" y2="211.2" stroke="#555" stroke-width="0.8"/>
<text x="19.5" y="211.2" font-size="5.6" text-anchor="middle" fill="#000" transform="rotate(-90 19.5 211.2)">2</text>
<line x1="25.1" y1="200.7" x2="28.4" y2="200.7" stroke="#555" stroke-width="0.8"/>
<text x="19.5" y="200.7" font-size="5.6" text-anchor="middle" fill="#000" transform="rotate(-90 19.5 200.7)">4</text>
<line x1="25.1" y1="190.2" x2="28.4" y2="190.2" stroke="#555" stroke-width="0.8"/>
<text x="19.5" y="190.2" font-size="5.6" text-anchor="middle" fill="#000" transform="rotate(-90 19.5 190.2)">6</text>
<line x1="25.1" y1="179.7" x2="28.4" y2="179.7" stroke="#555" stroke-width="0.8"/>
<text x="19.5" y="179.7" font-size="5.6" text-anchor="middle" fill="#000" transform="rotate(-90 19.5 179.7)">8</text>
<line x1="25.1" y1="169.2" x2="28.4" y2="169.2" stroke="#555" stroke-width="0.8"/>
<text x="19.5" y="169.2" font-size="5.6" text-anchor="middle" fill="#000" transform="rotate(-90 19.5 169.2)">10</text>
<line x1="25.1" y1="158.7" x2="28.4" y2="158.7" stroke="#555" stroke-width="0.8"/>
<line x1="34.5" y1="224.4" x2="34.5" y2="227.6" stroke="#555" stroke-width="0.8"/>
<text x="34.5" y="236.8" font-size="5.5" text-anchor="middle" fill="#000">0</text>
<line x1="67.3" y1="224.4" x2="67.3" y2="227.6" stroke="#555" stroke-width="0.8"/>
<text x="67.3" y="236.8" font-size="5.5" text-anchor="middle" fill="#000">50</text>
<line x1="100.1" y1="224.4" x2="100.1" y2="227.6" stroke="#555" stroke-width="0.8"/>
<text x="100.1" y="236.8" font-size="5.5" text-anchor="middle" fill="#000">100</text>
<line x1="132.9" y1="224.4" x2="132.9" y2="227.6" stroke="#555" stroke-width="0.8"/>
<text x="132.9" y="236.8" font-size="5.5" text-anchor="middle" fill="#000">150</text>
<line x1="165.7" y1="224.4" x2="165.7" y2="227.6" stroke="#555" stroke-width="0.8"/>
<text x="165.7" y="236.8" font-size="5.5" text-anchor="middle" fill="#000">200</text>
<line x1="198.5" y1="224.4" x2="198.5" y2="227.6" stroke="#555" stroke-width="0.8"/>
<text x="198.5" y="236.8" font-size="5.5" text-anchor="middle" fill="#000">250</text>
<text x="122.3" y="249.9" font-size="5.45" text-anchor="middle" fill="#000">Patients (increasing risk socre)</text>
<text x="7.2" y="189.8" font-size="5.4" text-anchor="middle" fill="#000" transform="rotate(-90 7.2 189.8)">Survival time (years)</text>
<line x1="122.1" y1="153.5" x2="122.1" y2="224.4" stroke="#333" stroke-width="0.7" stroke-dasharray="1.2 1.5"/>
<path d="M34.5 198.6h0M35.8 180.5h0M36.5 207.6h0M37.1 211.1h0M37.8 196h0M38.4 200.7h0M39.1 200.5h0M39.7 199h0M40.4 188.5h0M41.1 211.1h0M42.4 195.9h0M43 213.4h0M44.3 187h0M45 221.1h0M45.7 204.1h0M46.3 182.6h0M47 209.9h0M47.6 179.6h0M48.9 193.4h0M49.6 170.2h0M50.2 165.6h0M50.9 183h0M51.6 202.8h0M52.2 209.6h0M52.9 185.6h0M53.5 209.7h0M54.2 181.9h0M54.8 189.3h0M55.5 196.3h0M56.1 186.2h0M56.8 216.2h0M57.5 187.4h0M58.1 175.4h0M58.8 216.2h0M59.4 219.4h0M60.1 215.6h0M60.7 169.9h0M61.4 180.8h0M62.1 209.3h0M62.7 216.7h0M63.4 186.7h0M64 171h0M64.7 194.9h0M66 203.9h0M67.3 192.6h0M68 212.2h0M68.6 202.6h0M69.3 198.6h0M69.9 208h0M70.6 191.1h0M71.2 195.9h0M71.9 184.2h0M73.2 180h0M73.9 197.3h0M74.5 210.2h0M75.2 193h0M75.8 188.1h0M76.5 200.3h0M77.1 200h0M78.5 190.9h0M79.1 217.5h0M79.8 218.2h0M80.4 205.3h0M81.1 198.1h0M81.7 202.6h0M82.4 188.7h0M83 181.9h0M83.7 220h0M84.4 217.1h0M85 194.3h0M85.7 211.9h0M86.3 205h0M87 184.5h0M88.3 219h0M89.6 198.3h0M90.9 186.6h0M91.6 186.1h0M92.2 207.7h0M92.9 218.4h0M93.5 186.6h0M94.2 187.1h0M94.9 198.9h0M95.5 214.7h0M96.2 209.2h0M96.8 204.5h0M97.5 203h0M98.1 203h0M98.8 198.9h0M99.4 220.5h0M100.1 201.8h0M100.8 185.8h0M101.4 201.6h0M102.1 220.1h0M102.7 220.6h0M103.4 205h0M104 215.5h0M105.3 205.8h0M106 182.8h0M106.7 219.1h0M107.3 208.8h0M108 207.7h0M108.6 221.6h0M109.3 206.9h0M110.6 185h0M111.3 204.8h0M111.9 193.1h0M112.6 186.5h0M113.2 179h0M113.9 204.9h0M114.5 219h0M115.2 177.9h0M115.8 206.2h0M116.5 211.2h0M118.5 213.5h0M119.1 209.9h0M119.8 206.8h0M121.1 211.3h0M121.7 210.4h0M122.4 192.6h0M123.1 215.1h0M123.7 188.9h0M124.4 216.8h0M125 200.7h0M125.7 209.2h0M126.3 196h0M127 207.7h0M127.7 207.4h0M128.3 205.4h0M129 190.1h0M130.3 191.9h0M130.9 215h0M131.6 198.8h0M132.2 210.1h0M132.9 190.1h0M133.6 212.5h0M135.5 215.9h0M136.2 201.8h0M136.8 206h0M137.5 221h0M138.1 190.1h0M139.5 188.2h0M143.4 194.1h0M144.1 218.4h0M146 210.6h0M146.7 187.5h0M148 189.5h0M150 213.4h0M150.6 180.8h0M151.3 202.3h0M151.9 210.7h0M152.6 216.4h0M153.2 198.8h0M153.9 172.5h0M154.5 189.6h0M155.2 217.1h0M155.9 193h0M157.2 201.5h0M157.8 218.4h0M158.5 199.5h0M160.5 212.9h0M161.1 218.3h0M163.1 194.8h0M165 191.4h0M165.7 190.6h0M166.4 195h0M169 191.9h0M169.6 201.9h0M170.3 219.2h0M172.9 219.4h0M175.5 218.2h0M178.8 216.7h0M180.8 215.7h0M182.8 214.2h0M183.4 206.5h0M184.1 216h0M185.4 204.6h0M186 217.8h0M188.7 213.4h0M190.6 214.3h0M191.3 206.4h0M195.2 211.3h0M195.9 215.6h0M198.5 197.8h0M201.1 198.6h0M203.7 205.4h0M205.7 210.1h0M207 215.8h0" stroke="#2451A6" stroke-width="2.76" stroke-linecap="round"/>
<path d="M35.2 215.7h0M41.7 187.8h0M43.7 213.7h0M48.3 189.9h0M65.3 191.1h0M66.6 191.3h0M72.5 209.1h0M77.8 200.5h0M87.6 215.2h0M88.9 213h0M90.3 219.5h0M104.7 199.1h0M109.9 200.5h0M117.2 212h0M117.8 191h0M120.4 212.8h0M129.6 202.1h0M134.2 189.7h0M134.9 193.2h0M138.8 195.9h0M140.1 218h0M140.8 212.2h0M141.4 218.4h0M142.1 192.2h0M142.7 203.5h0M144.7 216.5h0M145.4 213.6h0M147.3 195.8h0M148.6 194.2h0M149.3 207.9h0M156.5 205.5h0M159.1 219.8h0M159.8 210.2h0M161.8 196.5h0M162.4 215.9h0M163.7 198.4h0M164.4 218.3h0M167 215.3h0M167.7 221.2h0M168.3 216.5h0M170.9 203.7h0M171.6 202.9h0M172.3 221.6h0M173.6 215.8h0M174.2 205.7h0M174.9 212.6h0M176.2 218.4h0M176.9 219h0M177.5 218.1h0M178.2 212h0M179.5 217.1h0M180.1 212.2h0M181.4 220.8h0M182.1 215.1h0M184.7 210.7h0M186.7 216.6h0M187.3 219.4h0M188 204.4h0M189.3 219.1h0M190 205.1h0M191.9 212.1h0M192.6 216.1h0M193.3 208.6h0M193.9 215h0M194.6 217.5h0M196.5 209.5h0M197.2 204h0M197.8 209h0M199.2 220.4h0M199.8 214.7h0M200.5 217.9h0M201.8 218.2h0M202.4 215h0M203.1 216h0M204.4 208.5h0M205.1 209.8h0M206.4 206.9h0M207.7 207.7h0M208.3 209.2h0M209 219.1h0" stroke="#E41A1C" stroke-width="2.76" stroke-linecap="round"/>
<circle cx="33.8" cy="161.8" r="1.6" fill="#E41A1C"/>
<circle cx="33.8" cy="169.7" r="1.6" fill="#2451A6"/>
<text x="39.7" y="164" font-size="6.5" fill="#000">Dead</text>
<text x="39.7" y="171.9" font-size="6.5" fill="#000">Alive</text>
<text transform="translate(225.05 142.80) scale(0.809 1)" font-size="20.87" fill="#201816">E</text>
<rect x="252.5" y="153.5" width="188.7" height="70.9" fill="none" stroke="#888" stroke-width="0.9"/>
<line x1="249.2" y1="221.7" x2="252.5" y2="221.7" stroke="#888" stroke-width="0.8"/>
<text x="244.5" y="221.7" font-size="5.6" text-anchor="middle" fill="#000" transform="rotate(-90 244.5 221.7)">0</text>
<line x1="249.2" y1="209.7" x2="252.5" y2="209.7" stroke="#888" stroke-width="0.8"/>
<text x="244.5" y="209.7" font-size="5.6" text-anchor="middle" fill="#000" transform="rotate(-90 244.5 209.7)">2</text>
<line x1="249.2" y1="197.7" x2="252.5" y2="197.7" stroke="#888" stroke-width="0.8"/>
<text x="244.5" y="197.7" font-size="5.6" text-anchor="middle" fill="#000" transform="rotate(-90 244.5 197.7)">4</text>
<line x1="249.2" y1="185.8" x2="252.5" y2="185.8" stroke="#888" stroke-width="0.8"/>
<text x="244.5" y="185.8" font-size="5.6" text-anchor="middle" fill="#000" transform="rotate(-90 244.5 185.8)">6</text>
<line x1="249.2" y1="173.8" x2="252.5" y2="173.8" stroke="#888" stroke-width="0.8"/>
<text x="244.5" y="173.8" font-size="5.6" text-anchor="middle" fill="#000" transform="rotate(-90 244.5 173.8)">8</text>
<line x1="249.2" y1="161.8" x2="252.5" y2="161.8" stroke="#888" stroke-width="0.8"/>
<text x="244.5" y="161.8" font-size="5.6" text-anchor="middle" fill="#000" transform="rotate(-90 244.5 161.8)">10</text>
<line x1="258.6" y1="224.4" x2="258.6" y2="227.6" stroke="#888" stroke-width="0.8"/>
<text x="258.6" y="236.8" font-size="5.5" text-anchor="middle" fill="#000">0</text>
<line x1="291.5" y1="224.4" x2="291.5" y2="227.6" stroke="#888" stroke-width="0.8"/>
<text x="291.5" y="236.8" font-size="5.5" text-anchor="middle" fill="#000">50</text>
<line x1="324.4" y1="224.4" x2="324.4" y2="227.6" stroke="#888" stroke-width="0.8"/>
<text x="324.4" y="236.8" font-size="5.5" text-anchor="middle" fill="#000">100</text>
<line x1="357.3" y1="224.4" x2="357.3" y2="227.6" stroke="#888" stroke-width="0.8"/>
<text x="357.3" y="236.8" font-size="5.5" text-anchor="middle" fill="#000">150</text>
<line x1="390.2" y1="224.4" x2="390.2" y2="227.6" stroke="#888" stroke-width="0.8"/>
<text x="390.2" y="236.8" font-size="5.5" text-anchor="middle" fill="#000">200</text>
<line x1="423.1" y1="224.4" x2="423.1" y2="227.6" stroke="#888" stroke-width="0.8"/>
<text x="423.1" y="236.8" font-size="5.5" text-anchor="middle" fill="#000">250</text>
<text x="346.9" y="249.8" font-size="5.45" text-anchor="middle" fill="#000">Patients (increasing risk socre)</text>
<text x="232.2" y="189.8" font-size="5.4" text-anchor="middle" fill="#000" transform="rotate(-90 232.2 189.8)">Survival time (years)</text>
<line x1="355" y1="153.5" x2="355" y2="224.4" stroke="#999" stroke-width="0.7" stroke-dasharray="1.2 1.5"/>
<path d="M258.6 217.8h0M259.3 178.5h0M259.9 219.5h0M260.6 219.5h0M261.2 212.2h0M261.9 217.2h0M262.5 204.7h0M263.2 165.1h0M263.9 184.6h0M264.5 197h0M265.2 216.9h0M265.8 190h0M266.5 173.3h0M267.2 220.5h0M267.8 190.1h0M268.5 200.2h0M269.1 191.1h0M269.8 200.2h0M270.4 203.5h0M271.1 200.7h0M271.8 213.5h0M272.4 192.9h0M273.1 199.1h0M273.7 178.8h0M274.4 191.5h0M275.1 180.3h0M275.7 207.8h0M276.4 188.9h0M277 179.4h0M277.7 181.8h0M279 187.3h0M279.7 195.6h0M280.3 219.8h0M281 204.2h0M281.6 197.7h0M282.3 213h0M283.6 210.7h0M284.3 196.6h0M285.6 160.1h0M286.2 212.9h0M286.9 220.7h0M287.6 215.8h0M288.2 214.3h0M288.9 215.6h0M289.5 157.2h0M290.2 211.9h0M290.8 213.5h0M291.5 168h0M292.2 212.8h0M292.8 210.8h0M293.5 219.3h0M294.1 215.8h0M294.8 215.1h0M295.4 218.5h0M296.1 218.8h0M296.8 171.5h0M297.4 218.2h0M298.7 219.4h0M299.4 190.3h0M300.1 199.6h0M300.7 187.1h0M301.4 194.9h0M302 190.1h0M302.7 154h0M304.7 206.2h0M305.3 193.1h0M306 218.8h0M306.6 163.9h0M307.3 165.7h0M308 158.3h0M308.6 203.5h0M309.3 216.1h0M309.9 207.9h0M310.6 213.4h0M311.2 196.2h0M312.6 219.7h0M313.2 220.3h0M313.9 209.8h0M314.5 157.6h0M315.2 169.5h0M316.5 211.9h0M317.8 188h0M318.5 195.5h0M319.1 199.9h0M319.8 196.4h0M320.5 216.4h0M321.1 217h0M321.8 190.9h0M322.4 206.9h0M323.1 213.8h0M323.7 191.5h0M324.4 183.6h0M325.1 194.7h0M325.7 194.3h0M326.4 163.4h0M327 187.5h0M327.7 197.7h0M328.3 160.5h0M329 198.2h0M329.7 219.6h0M331 220.5h0M331.6 212.5h0M332.3 191.2h0M333 193.6h0M334.3 202.7h0M334.9 212.8h0M335.6 170.7h0M336.2 213.4h0M336.9 195.5h0M337.6 194.5h0M338.9 172.6h0M340.2 195h0M340.9 168.7h0M341.5 199.9h0M342.2 188.9h0M342.8 156.1h0M343.5 184.1h0M344.1 204h0M344.8 181.1h0M345.5 198.9h0M346.1 153.3h0M346.8 154.8h0M347.4 220.3h0M348.1 202.8h0M348.7 159.3h0M349.4 206.5h0M350.1 206.5h0M350.7 181h0M351.4 181.5h0M352.7 204.2h0M354 218.5h0M355.3 207.7h0M356 211.4h0M356.6 192.7h0M357.3 209.5h0M358 189.6h0M358.6 190.4h0M359.3 196.4h0M359.9 197.8h0M360.6 193.6h0M363.2 187.5h0M365.2 193.1h0M365.9 217h0M367.2 167.8h0M367.8 197.7h0M369.1 203.9h0M369.8 194.7h0M370.5 187.7h0M371.1 197.3h0M371.8 218.1h0M372.4 191.7h0M373.1 208.7h0M373.8 221.1h0M374.4 206.8h0M376.4 189.1h0M377.7 214.2h0M379 190.7h0M379.7 169.8h0M381 185.6h0M381.6 190.4h0M382.3 208h0M383 198.9h0M383.6 206.9h0M385.6 198.7h0M386.9 192.7h0M388.2 220.7h0M389.5 206.4h0M390.2 194h0M392.2 206.8h0M392.8 189.3h0M393.5 190.4h0M394.8 215.1h0M396.8 197.3h0M397.4 193.9h0M398.1 217.6h0M401.4 203.4h0M402 206.6h0M402.7 189.4h0M403.4 221.3h0M404 188.8h0M404.7 189.8h0M405.3 204.8h0M407.3 215.8h0M408.6 205.7h0M410.6 206h0M413.2 210.7h0M415.9 216h0M416.5 217.5h0M417.8 199.8h0M418.5 207.3h0M419.2 217.6h0M419.8 194.4h0M420.5 166.6h0M421.1 159.5h0M421.8 209.6h0M422.4 173.8h0M423.8 203.7h0M426.4 208.8h0M428.4 172.4h0M429 195.9h0M430.3 198.7h0M431 166.7h0M432.3 159.1h0" stroke="#2451A6" stroke-width="2.76" stroke-linecap="round"/>
<path d="M278.3 208.3h0M282.9 189h0M284.9 187.2h0M298.1 198h0M303.3 203.9h0M304 204.9h0M311.9 198.6h0M315.8 216h0M317.2 194.4h0M330.3 214.8h0M333.6 195.8h0M338.2 189.2h0M339.5 216.4h0M352 208.9h0M353.4 188.2h0M354.7 213.9h0M361.2 217.4h0M361.9 211.5h0M362.6 204.3h0M363.9 196.6h0M364.5 195.8h0M366.5 202.5h0M368.5 187.5h0M375.1 221.3h0M375.7 206h0M377 219.5h0M378.4 219.9h0M380.3 204.7h0M384.3 201.7h0M384.9 217h0M386.3 211.2h0M387.6 194.7h0M388.9 211.9h0M390.9 203.8h0M391.5 204.7h0M394.1 202h0M395.5 197.1h0M396.1 215.5h0M398.8 221h0M399.4 212.8h0M400.1 220.6h0M400.7 219.5h0M406 216.7h0M406.7 216.1h0M408 221.3h0M409.3 206.5h0M409.9 215.1h0M411.3 200.6h0M411.9 209.9h0M412.6 212.5h0M413.9 219.6h0M414.5 213.8h0M415.2 221.4h0M417.2 206.2h0M423.1 220.3h0M424.4 206.3h0M425.1 210h0M425.7 221.4h0M427 213.5h0M427.7 219.2h0M429.7 221.4h0M431.7 205.2h0M433 210.6h0" stroke="#E41A1C" stroke-width="2.76" stroke-linecap="round"/>
<circle cx="258.5" cy="161.8" r="1.6" fill="#E41A1C"/>
<circle cx="258.5" cy="169.7" r="1.6" fill="#2451A6"/>
<text x="264.4" y="164" font-size="6.5" fill="#000">Dead</text>
<text x="264.4" y="171.9" font-size="6.5" fill="#000">Alive</text>
<text transform="translate(452.96 143.00) scale(0.791 1)" font-size="21.16" fill="#201816">F</text>
<rect x="480.7" y="153.8" width="187.7" height="69.8" fill="none" stroke="#777" stroke-width="0.9"/>
<line x1="477.4" y1="221.4" x2="480.7" y2="221.4" stroke="#777" stroke-width="0.8"/>
<text x="473" y="221.4" font-size="5.6" text-anchor="middle" fill="#000" transform="rotate(-90 473 221.4)">0</text>
<line x1="477.4" y1="210.9" x2="480.7" y2="210.9" stroke="#777" stroke-width="0.8"/>
<text x="473" y="210.9" font-size="5.6" text-anchor="middle" fill="#000" transform="rotate(-90 473 210.9)">2</text>
<line x1="477.4" y1="200.4" x2="480.7" y2="200.4" stroke="#777" stroke-width="0.8"/>
<text x="473" y="200.4" font-size="5.6" text-anchor="middle" fill="#000" transform="rotate(-90 473 200.4)">4</text>
<line x1="477.4" y1="190" x2="480.7" y2="190" stroke="#777" stroke-width="0.8"/>
<text x="473" y="190" font-size="5.6" text-anchor="middle" fill="#000" transform="rotate(-90 473 190)">6</text>
<line x1="477.4" y1="179.5" x2="480.7" y2="179.5" stroke="#777" stroke-width="0.8"/>
<text x="473" y="179.5" font-size="5.6" text-anchor="middle" fill="#000" transform="rotate(-90 473 179.5)">8</text>
<line x1="477.4" y1="169" x2="480.7" y2="169" stroke="#777" stroke-width="0.8"/>
<text x="473" y="169" font-size="5.6" text-anchor="middle" fill="#000" transform="rotate(-90 473 169)">10</text>
<line x1="477.4" y1="158.5" x2="480.7" y2="158.5" stroke="#777" stroke-width="0.8"/>
<line x1="486.8" y1="223.6" x2="486.8" y2="226.8" stroke="#777" stroke-width="0.8"/>
<text x="486.8" y="236.8" font-size="5.5" text-anchor="middle" fill="#000">0</text>
<line x1="519.5" y1="223.6" x2="519.5" y2="226.8" stroke="#777" stroke-width="0.8"/>
<text x="519.5" y="236.8" font-size="5.5" text-anchor="middle" fill="#000">100</text>
<line x1="552.2" y1="223.6" x2="552.2" y2="226.8" stroke="#777" stroke-width="0.8"/>
<text x="552.2" y="236.8" font-size="5.5" text-anchor="middle" fill="#000">200</text>
<line x1="585" y1="223.6" x2="585" y2="226.8" stroke="#777" stroke-width="0.8"/>
<text x="585" y="236.8" font-size="5.5" text-anchor="middle" fill="#000">300</text>
<line x1="617.7" y1="223.6" x2="617.7" y2="226.8" stroke="#777" stroke-width="0.8"/>
<text x="617.7" y="236.8" font-size="5.5" text-anchor="middle" fill="#000">400</text>
<line x1="650.4" y1="223.6" x2="650.4" y2="226.8" stroke="#777" stroke-width="0.8"/>
<text x="650.4" y="236.8" font-size="5.5" text-anchor="middle" fill="#000">500</text>
<text x="574" y="248.9" font-size="5.45" text-anchor="middle" fill="#000">Patients (increasing risk socre)</text>
<text x="459.8" y="189.8" font-size="5.4" text-anchor="middle" fill="#000" transform="rotate(-90 459.8 189.8)">Survival time (years)</text>
<line x1="578.6" y1="153.8" x2="578.6" y2="223.6" stroke="#555" stroke-width="0.7" stroke-dasharray="1.2 1.5"/>
<path d="M486.8 186.7h0M487.1 207.7h0M487.5 213.7h0M487.8 219.5h0M488.1 220.8h0M488.4 220.6h0M488.8 206.1h0M489.4 206h0M489.7 211.9h0M490.1 190.5h0M490.4 200.8h0M490.7 189.2h0M491.1 194.9h0M491.4 184h0M491.7 195.7h0M492 181.5h0M492.4 166.7h0M492.7 174.3h0M493 206.1h0M493.3 203.6h0M493.7 193.9h0M494 188.8h0M494.3 215.3h0M494.7 171.4h0M495.3 179.5h0M495.6 211.8h0M496 213.2h0M496.3 202.5h0M496.6 196.5h0M496.9 171h0M497.3 220.8h0M497.6 206.9h0M497.9 162.7h0M498.3 179.6h0M498.6 170.6h0M498.9 196.8h0M499.2 214.2h0M499.6 218.9h0M499.9 187.3h0M500.2 195.8h0M500.5 213.7h0M501.2 187.3h0M501.5 186.5h0M501.9 170.5h0M502.2 188h0M502.5 213.6h0M502.8 201.3h0M503.2 173.4h0M503.5 213.9h0M504.1 193.4h0M504.5 178.9h0M504.8 169.5h0M505.1 189.6h0M505.5 209.3h0M505.8 193.5h0M506.1 198.3h0M506.4 163.1h0M506.8 214.4h0M507.1 219.5h0M507.4 195.1h0M507.7 205.5h0M508.1 185.6h0M508.4 209.6h0M508.7 176.9h0M509 164.3h0M509.4 208.7h0M509.7 202.3h0M510 170.5h0M511 188.9h0M511.3 213h0M511.7 200.5h0M512 221.1h0M512.3 187.2h0M512.6 208.4h0M513 219.6h0M513.3 187.8h0M514.3 161.7h0M514.9 198.6h0M515.6 176.1h0M515.9 200.9h0M516.2 189.6h0M516.6 209.5h0M516.9 206h0M517.6 173.7h0M517.9 193.5h0M518.2 210.6h0M518.5 211h0M518.9 165.5h0M519.2 190.3h0M519.5 211h0M519.8 173.6h0M520.2 190.3h0M520.5 205.8h0M520.8 188.8h0M521.2 203.1h0M521.5 178.2h0M521.8 209.6h0M522.1 181h0M522.5 198.1h0M522.8 198.1h0M523.1 164.8h0M523.4 167.8h0M523.8 204.7h0M524.1 200.6h0M524.4 213.1h0M524.8 164.4h0M525.1 167.3h0M525.4 193.8h0M525.7 196h0M526.1 181.7h0M526.4 204.9h0M526.7 172.8h0M527 214.4h0M527.4 191.4h0M528 218h0M528.4 216.2h0M528.7 208.2h0M529 220.4h0M529.3 186.8h0M529.7 164.4h0M530 203.9h0M530.3 200h0M530.6 215.2h0M531 164.8h0M531.3 219.4h0M531.6 205.9h0M532 194.4h0M532.3 219.4h0M532.6 205.7h0M532.9 191.6h0M533.3 178.2h0M533.6 195.1h0M533.9 208h0M534.2 185.1h0M534.6 204.4h0M534.9 215.8h0M535.2 195.4h0M535.6 220.5h0M535.9 196.6h0M536.2 220.3h0M536.5 220.9h0M536.9 189.9h0M537.5 189.4h0M537.8 177.9h0M538.5 170.1h0M538.8 215.9h0M539.2 178.4h0M539.5 166.5h0M539.8 216.2h0M540.1 214.8h0M540.5 191.5h0M540.8 165.6h0M541.1 205.6h0M541.4 201.8h0M541.8 221.1h0M542.1 183.5h0M542.4 178.9h0M542.8 209.3h0M543.1 208.3h0M543.4 186.9h0M543.7 196.8h0M544.1 193.8h0M544.4 218.5h0M544.7 189h0M545 199.6h0M545.4 175.1h0M545.7 183.2h0M546 200.6h0M546.4 198.9h0M546.7 167.8h0M547 213.3h0M547.3 197.4h0M547.7 178.2h0M548 215.2h0M548.3 165h0M549 189.9h0M549.3 185.9h0M549.6 208.6h0M549.9 163.2h0M550.3 195.4h0M550.6 174.3h0M550.9 200h0M551.3 210.2h0M551.6 184.7h0M551.9 212h0M552.2 208.9h0M552.6 204.9h0M552.9 205.4h0M553.2 170.4h0M553.5 200.2h0M553.9 177.1h0M554.2 188.6h0M554.5 166h0M554.9 178.5h0M555.2 193.8h0M555.5 205h0M555.8 211.1h0M556.2 185.6h0M556.5 208.8h0M556.8 215.4h0M557.1 203.2h0M557.5 193.2h0M557.8 203.1h0M558.5 166.7h0M558.8 202.8h0M559.1 196h0M559.4 195.9h0M559.8 193.5h0M560.1 167.8h0M560.4 174.5h0M560.7 215.6h0M561.1 195h0M561.4 187.9h0M561.7 189.7h0M562.1 219.9h0M562.4 203.4h0M562.7 209.5h0M563 214.4h0M563.7 214.5h0M564 170.2h0M564.3 178.8h0M564.7 182.7h0M565 207.9h0M565.3 210.7h0M565.7 187.7h0M566 217.7h0M566.3 165.5h0M567 197.4h0M567.3 220.8h0M567.6 205.6h0M567.9 219.1h0M568.3 179.2h0M568.9 195.9h0M569.3 207.5h0M569.6 188.3h0M569.9 210.1h0M570.2 209.4h0M570.6 165.8h0M570.9 189.8h0M571.2 190.6h0M571.5 219.8h0M571.9 204.2h0M572.2 197.1h0M572.5 207h0M572.9 186.2h0M573.2 189.9h0M573.5 188.2h0M574.2 221.3h0M574.5 220.8h0M574.8 181.1h0M575.1 168h0M575.5 200.7h0M575.8 219.8h0M576.1 183.6h0M576.5 186.8h0M576.8 187.2h0M577.1 175.6h0M577.4 177.5h0M577.8 221.3h0M578.1 216.3h0M578.4 218.6h0M578.7 201.3h0M579.7 199.1h0M580.1 215.4h0M580.4 219.8h0M580.7 194.7h0M581 219.6h0M581.7 219.6h0M582 197.1h0M582.3 191.3h0M582.7 212.4h0M583.7 194.3h0M584 187.1h0M584.6 216h0M585 199.9h0M585.3 167.2h0M585.6 170.7h0M585.9 164.7h0M586.3 186.4h0M586.9 220.2h0M587.3 170.8h0M587.9 201.4h0M588.2 208.3h0M588.6 195.6h0M589.2 191h0M589.5 216.8h0M589.9 213.5h0M590.2 204.1h0M590.5 212.5h0M590.8 214.2h0M591.2 178.4h0M591.5 177.1h0M592.2 199.9h0M592.8 218.6h0M593.1 194.9h0M593.8 214.2h0M594.1 176.7h0M595.1 211.5h0M595.4 167.4h0M595.8 213.4h0M596.4 197h0M597.4 219.8h0M598 210h0M598.4 174.8h0M598.7 170.1h0M599.4 202.3h0M600 192h0M601 205.6h0M601.6 217.5h0M602 186h0M602.3 171.9h0M603 193.9h0M603.3 194.2h0M603.6 218.6h0M603.9 177.9h0M604.6 197.4h0M605.9 210.4h0M606.2 211.8h0M606.6 208.3h0M606.9 214.2h0M607.2 201.3h0M607.9 192.2h0M608.2 204.2h0M608.5 216.3h0M608.8 211.9h0M610.2 218.6h0M610.5 214.6h0M610.8 203h0M611.1 171.1h0M611.5 190h0M611.8 204.2h0M612.1 192.6h0M612.4 175.6h0M613.1 191.2h0M613.4 190.3h0M614.4 194.7h0M614.7 215.1h0M615.1 203.4h0M615.4 211.7h0M615.7 214.3h0M616 191.7h0M616.4 194h0M617 211.8h0M617.4 201.3h0M618.3 204.9h0M619.6 168h0M620 207.8h0M620.3 192.5h0M620.6 172.4h0M621 216.6h0M621.3 206.6h0M621.9 206.2h0M622.3 198.1h0M623.9 202.7h0M624.2 205.7h0M625.9 215.2h0M626.8 197.9h0M627.8 213.3h0M628.2 215.5h0M628.8 200.5h0M629.1 216.3h0M629.5 217.6h0M629.8 207.7h0M630.4 191.5h0M631.4 198.2h0M631.7 210.4h0M632.1 220.6h0M632.4 184.6h0M632.7 204.7h0M633.1 193.1h0M633.7 207.2h0M634 210.7h0M634.4 186.2h0M635.7 210.3h0M636.7 193.7h0M637 201.1h0M637.3 170.8h0M637.6 211.1h0M638.3 216.9h0M639.6 201.6h0M639.9 219.6h0M640.6 215.3h0M641.2 195.5h0M641.6 211.3h0M641.9 198.3h0M642.2 202.7h0M642.9 221.3h0M643.2 211.8h0M643.9 201.2h0M645.2 212.1h0M645.5 195.3h0M645.8 203.2h0M646.5 211.1h0M646.8 218.7h0M647.1 187.3h0M647.5 219.7h0M647.8 169h0M648.1 212.3h0M648.4 217.9h0M648.8 211.3h0M649.7 212.4h0M651.7 197.9h0M652.7 195.8h0M654 206.2h0M654.7 213.8h0M655.6 208.3h0M659.6 200.3h0M659.9 198.3h0M660.9 218.9h0" stroke="#2451A6" stroke-width="2.76" stroke-linecap="round"/>
<path d="M489.1 185.9h0M495 196.7h0M500.9 200.4h0M503.8 209.7h0M510.4 199.6h0M510.7 192.1h0M513.6 208.8h0M514 209.1h0M514.6 212.2h0M515.3 207.7h0M517.2 211.7h0M527.7 207.4h0M537.2 218.4h0M538.2 190.5h0M548.6 212.9h0M558.1 191.5h0M563.4 211h0M566.6 219.8h0M568.6 215.1h0M573.8 192.1h0M579.1 219.8h0M579.4 219.2h0M581.4 210.8h0M583 211.6h0M583.3 214.4h0M584.3 192.9h0M586.6 209.4h0M587.6 198.1h0M588.9 196.2h0M591.8 193.5h0M592.5 217h0M593.5 208.2h0M594.4 212.4h0M594.8 209.5h0M596.1 200.5h0M596.7 200h0M597.1 214.8h0M597.7 208.7h0M599 198.8h0M599.7 213.4h0M600.3 202.7h0M600.7 196.5h0M601.3 216.3h0M602.6 197.8h0M604.3 192h0M604.9 198.8h0M605.2 214.2h0M605.6 218.1h0M607.5 204.1h0M609.2 203.3h0M609.5 200.8h0M609.8 194.7h0M612.8 213.9h0M613.8 217.2h0M614.1 208.2h0M616.7 215.4h0M617.7 213h0M618 213.4h0M618.7 221.1h0M619 208.6h0M619.3 207.3h0M621.6 221.1h0M622.6 220.8h0M622.9 199.4h0M623.2 199h0M623.6 205.7h0M624.6 200.7h0M624.9 213.1h0M625.2 210.2h0M625.5 210.2h0M626.2 211.3h0M626.5 200.4h0M627.2 217.5h0M627.5 201.2h0M628.5 197.4h0M630.1 203.9h0M630.8 218.3h0M631.1 217.5h0M633.4 209.7h0M634.7 210.9h0M635 201.8h0M635.3 217.9h0M636 202.4h0M636.3 216.4h0M638 214.7h0M638.6 221.1h0M638.9 210.9h0M639.3 208.3h0M640.3 209.3h0M640.9 214.8h0M642.5 206.6h0M643.5 217.7h0M644.2 211.5h0M644.5 217h0M644.8 216.2h0M646.1 220.1h0M649.1 203.8h0M649.4 208.2h0M650.1 208.7h0M650.4 207.1h0M650.7 208.9h0M651.1 218.7h0M651.4 220.6h0M652 214.6h0M652.4 218.4h0M653 221.2h0M653.3 220.7h0M653.7 213.8h0M654.3 219.7h0M655 216h0M655.3 215h0M656 218.8h0M656.3 216.4h0M656.6 214.3h0M656.9 206.4h0M657.3 217.2h0M657.6 210.2h0M657.9 217.9h0M658.3 207.4h0M658.6 210.9h0M658.9 217.8h0M659.2 210.5h0M660.2 220.6h0M660.5 208.9h0" stroke="#E41A1C" stroke-width="2.76" stroke-linecap="round"/>
<circle cx="486.3" cy="161.4" r="1.6" fill="#E41A1C"/>
<circle cx="486.3" cy="169.7" r="1.6" fill="#2451A6"/>
<text x="492.2" y="163.6" font-size="6.5" fill="#000">Dead</text>
<text x="492.2" y="171.9" font-size="6.5" fill="#000">Alive</text>
<text transform="translate(2.73 267.49) scale(0.745 1)" font-size="20.70" fill="#201816">G</text>
<rect x="4.5" y="273.6" width="85.6" height="2.7" fill="#2A5CAA"/>
<rect x="90.1" y="273.6" width="85" height="2.7" fill="#E8141C"/>
<text transform="translate(176.70 284.05) scale(0.78 1)" font-size="4.3" fill="#333">AC020910.3</text>
<text transform="translate(176.70 293.86) scale(0.78 1)" font-size="4.3" fill="#333">NOP53-AS1</text>
<text transform="translate(176.70 303.67) scale(0.78 1)" font-size="4.3" fill="#333">LINC0224-AS1</text>
<text transform="translate(176.70 313.48) scale(0.78 1)" font-size="4.3" fill="#333">AC010326.1</text>
<text transform="translate(176.70 323.29) scale(0.78 1)" font-size="4.3" fill="#333">AC074637.1</text>
<text transform="translate(176.70 333.10) scale(0.78 1)" font-size="4.3" fill="#333">AC026469.1</text>
<text transform="translate(176.70 342.90) scale(0.78 1)" font-size="4.3" fill="#333">AC019069.2</text>
<text transform="translate(176.70 352.71) scale(0.78 1)" font-size="4.3" fill="#333">AC005276.2</text>
<text transform="translate(176.70 362.52) scale(0.78 1)" font-size="4.3" fill="#333">FAM225B</text>
<text transform="translate(176.70 372.33) scale(0.78 1)" font-size="4.3" fill="#333">AP001107.3</text>
<text transform="translate(176.70 382.14) scale(0.78 1)" font-size="4.3" fill="#333">CKMT2-AS1</text>
<text transform="translate(176.70 391.95) scale(0.78 1)" font-size="4.3" fill="#333">MALINC1</text>
<text x="176.6" y="276.6" font-size="3.6" font-weight="bold" fill="#222">Risk</text>
<defs><linearGradient id="gG" x1="0" y1="0" x2="0" y2="1"><stop offset="0" stop-color="#E3141B"/><stop offset="0.36" stop-color="#E3141B"/><stop offset="0.5" stop-color="#ffffff"/><stop offset="0.6" stop-color="#2150A0"/><stop offset="1" stop-color="#1F4E9E"/></linearGradient></defs>
<rect x="202.2" y="273" width="4.6" height="66" fill="url(#gG)"/>
<text x="208.6" y="286.9" font-size="3.6" fill="#222">4</text>
<text x="208.6" y="307.3" font-size="3.6" fill="#222">0</text>
<text x="208.6" y="327.2" font-size="3.6" fill="#222">-4</text>
<text x="212" y="275.3" font-size="3.3" font-weight="bold" fill="#333">Risk</text>
<rect x="212" y="277" width="4.8" height="3.9" fill="#2A5CAA"/>
<rect x="212" y="281" width="4.8" height="3.9" fill="#E8141C"/>
<text x="217.6" y="279.9" font-size="3.4" fill="#333">low</text>
<text x="217.6" y="284.3" font-size="3.4" fill="#333">high</text>
<text transform="translate(224.96 267.70) scale(0.870 1)" font-size="20.72" fill="#201816">H</text>
<rect x="226.7" y="273.4" width="93.9" height="2.7" fill="#2A5CAA"/>
<rect x="320.6" y="273.4" width="76.1" height="2.7" fill="#E8141C"/>
<text transform="translate(398.30 284.05) scale(0.78 1)" font-size="4.3" fill="#333">AC020910.3</text>
<text transform="translate(398.30 293.86) scale(0.78 1)" font-size="4.3" fill="#333">NOP53-AS1</text>
<text transform="translate(398.30 303.67) scale(0.78 1)" font-size="4.3" fill="#333">LINC0224-AS1</text>
<text transform="translate(398.30 313.48) scale(0.78 1)" font-size="4.3" fill="#333">AC010326.1</text>
<text transform="translate(398.30 323.29) scale(0.78 1)" font-size="4.3" fill="#333">AC074637.1</text>
<text transform="translate(398.30 333.10) scale(0.78 1)" font-size="4.3" fill="#333">AC026469.1</text>
<text transform="translate(398.30 342.90) scale(0.78 1)" font-size="4.3" fill="#333">AC019069.2</text>
<text transform="translate(398.30 352.71) scale(0.78 1)" font-size="4.3" fill="#333">AC005276.2</text>
<text transform="translate(398.30 362.52) scale(0.78 1)" font-size="4.3" fill="#333">FAM225B</text>
<text transform="translate(398.30 372.33) scale(0.78 1)" font-size="4.3" fill="#333">AP001107.3</text>
<text transform="translate(398.30 382.14) scale(0.78 1)" font-size="4.3" fill="#333">CKMT2-AS1</text>
<text transform="translate(398.30 391.95) scale(0.78 1)" font-size="4.3" fill="#333">MALINC1</text>
<text x="398.2" y="276.4" font-size="3.6" font-weight="bold" fill="#222">Risk</text>
<defs><linearGradient id="gH" x1="0" y1="0" x2="0" y2="1"><stop offset="0" stop-color="#E3141B"/><stop offset="0.36" stop-color="#E3141B"/><stop offset="0.5" stop-color="#ffffff"/><stop offset="0.6" stop-color="#2150A0"/><stop offset="1" stop-color="#1F4E9E"/></linearGradient></defs>
<rect x="424" y="273" width="3.9" height="66" fill="url(#gH)"/>
<text x="429.7" y="287.1" font-size="3.6" fill="#222">2</text>
<text x="429.7" y="307.2" font-size="3.6" fill="#222">0</text>
<text x="429.7" y="327" font-size="3.6" fill="#222">-2</text>
<text x="433.1" y="275" font-size="3.3" font-weight="bold" fill="#333">Risk</text>
<rect x="433.1" y="276.7" width="4.8" height="3.9" fill="#2A5CAA"/>
<rect x="433.1" y="280.7" width="4.8" height="3.9" fill="#E8141C"/>
<text x="438.7" y="279.6" font-size="3.4" fill="#333">low</text>
<text x="438.7" y="284" font-size="3.4" fill="#333">high</text>
<text transform="translate(451.42 267.80) scale(1.000 1)" font-size="20.87" fill="#201816">I</text>
<rect x="453.4" y="273.6" width="89.4" height="2.8" fill="#2A5CAA"/>
<rect x="542.8" y="273.6" width="80.2" height="2.8" fill="#E8141C"/>
<text transform="translate(624.60 284.05) scale(0.78 1)" font-size="4.3" fill="#333">AC020910.3</text>
<text transform="translate(624.60 293.86) scale(0.78 1)" font-size="4.3" fill="#333">NOP53-AS1</text>
<text transform="translate(624.60 303.67) scale(0.78 1)" font-size="4.3" fill="#333">LINC0224-AS1</text>
<text transform="translate(624.60 313.48) scale(0.78 1)" font-size="4.3" fill="#333">AC010326.1</text>
<text transform="translate(624.60 323.29) scale(0.78 1)" font-size="4.3" fill="#333">AC074637.1</text>
<text transform="translate(624.60 333.10) scale(0.78 1)" font-size="4.3" fill="#333">AC026469.1</text>
<text transform="translate(624.60 342.90) scale(0.78 1)" font-size="4.3" fill="#333">AC019069.2</text>
<text transform="translate(624.60 352.71) scale(0.78 1)" font-size="4.3" fill="#333">AC005276.2</text>
<text transform="translate(624.60 362.52) scale(0.78 1)" font-size="4.3" fill="#333">FAM225B</text>
<text transform="translate(624.60 372.33) scale(0.78 1)" font-size="4.3" fill="#333">AP001107.3</text>
<text transform="translate(624.60 382.14) scale(0.78 1)" font-size="4.3" fill="#333">CKMT2-AS1</text>
<text transform="translate(624.60 391.95) scale(0.78 1)" font-size="4.3" fill="#333">MALINC1</text>
<text x="624.5" y="276.7" font-size="3.6" font-weight="bold" fill="#222">Risk</text>
<defs><linearGradient id="gI" x1="0" y1="0" x2="0" y2="1"><stop offset="0" stop-color="#E3141B"/><stop offset="0.36" stop-color="#E3141B"/><stop offset="0.5" stop-color="#ffffff"/><stop offset="0.6" stop-color="#2150A0"/><stop offset="1" stop-color="#1F4E9E"/></linearGradient></defs>
<rect x="650.3" y="273" width="4.3" height="65.8" fill="url(#gI)"/>
<text x="656.4" y="287.6" font-size="3.6" fill="#222">5</text>
<text x="656.4" y="307.5" font-size="3.6" fill="#222">0</text>
<text x="656.4" y="327.1" font-size="3.6" fill="#222">-5</text>
<text x="660" y="275" font-size="3.3" font-weight="bold" fill="#333">Risk</text>
<rect x="660" y="276.7" width="4.8" height="3.9" fill="#2A5CAA"/>
<rect x="660" y="280.7" width="4.8" height="3.9" fill="#E8141C"/>
<text x="665.6" y="279.6" font-size="3.4" fill="#333">low</text>
<text x="665.6" y="284" font-size="3.4" fill="#333">high</text>
<text transform="translate(4.06 419.09) scale(0.765 1)" font-size="20.71" fill="#201816">J</text>
<path d="M28.6 445.3V539.3H222.1" fill="none" stroke="#333" stroke-width="0.95"/>
<line x1="27.3" y1="449.3" x2="28.6" y2="449.3" stroke="#1a1a1a" stroke-width="0.8"/>
<text x="26.7" y="451.5" font-size="6.3" text-anchor="end" fill="#1a1a1a">1.00</text>
<line x1="27.3" y1="470.9" x2="28.6" y2="470.9" stroke="#1a1a1a" stroke-width="0.8"/>
<text x="26.7" y="473.1" font-size="6.3" text-anchor="end" fill="#1a1a1a">0.75</text>
<line x1="27.3" y1="492.5" x2="28.6" y2="492.5" stroke="#1a1a1a" stroke-width="0.8"/>
<text x="26.7" y="494.7" font-size="6.3" text-anchor="end" fill="#1a1a1a">0.50</text>
<line x1="27.3" y1="514.2" x2="28.6" y2="514.2" stroke="#1a1a1a" stroke-width="0.8"/>
<text x="26.7" y="516.4" font-size="6.3" text-anchor="end" fill="#1a1a1a">0.25</text>
<line x1="27.3" y1="535.8" x2="28.6" y2="535.8" stroke="#1a1a1a" stroke-width="0.8"/>
<text x="26.7" y="538" font-size="6.3" text-anchor="end" fill="#1a1a1a">0.00</text>
<line x1="37.3" y1="539.3" x2="37.3" y2="540.6" stroke="#1a1a1a" stroke-width="0.8"/>
<text x="37.3" y="547.2" font-size="6.4" text-anchor="middle" fill="#1a1a1a">0</text>
<line x1="65.6" y1="539.3" x2="65.6" y2="540.6" stroke="#1a1a1a" stroke-width="0.8"/>
<text x="65.6" y="547.2" font-size="6.4" text-anchor="middle" fill="#1a1a1a">2</text>
<line x1="93.9" y1="539.3" x2="93.9" y2="540.6" stroke="#1a1a1a" stroke-width="0.8"/>
<text x="93.9" y="547.2" font-size="6.4" text-anchor="middle" fill="#1a1a1a">4</text>
<line x1="122.2" y1="539.3" x2="122.2" y2="540.6" stroke="#1a1a1a" stroke-width="0.8"/>
<text x="122.2" y="547.2" font-size="6.4" text-anchor="middle" fill="#1a1a1a">6</text>
<line x1="150.5" y1="539.3" x2="150.5" y2="540.6" stroke="#1a1a1a" stroke-width="0.8"/>
<text x="150.5" y="547.2" font-size="6.4" text-anchor="middle" fill="#1a1a1a">8</text>
<line x1="178.8" y1="539.3" x2="178.8" y2="540.6" stroke="#1a1a1a" stroke-width="0.8"/>
<text x="178.8" y="547.2" font-size="6.4" text-anchor="middle" fill="#1a1a1a">10</text>
<line x1="207.1" y1="539.3" x2="207.1" y2="540.6" stroke="#1a1a1a" stroke-width="0.8"/>
<text x="207.1" y="547.2" font-size="6.4" text-anchor="middle" fill="#1a1a1a">12</text>
<text x="126" y="555.3" font-size="7.2" text-anchor="middle" fill="#000">Time(years)</text>
<text x="11" y="492.3" font-size="7.4" text-anchor="middle" fill="#000" transform="rotate(-90 11 492.3)">Overall survival</text>
<text x="41.2" y="521.4" font-size="8.8" fill="#000">p&lt;0.001</text>
<text x="85.8" y="432.9" font-size="5.1" fill="#000">Risk</text>
<line x1="100.1" y1="431.1" x2="107.2" y2="431.1" stroke="#2F6BBE" stroke-width="1.1"/>
<line x1="103.6" y1="429.7" x2="103.6" y2="431.2" stroke="#2F6BBE" stroke-width="0.9"/>
<text x="111.2" y="432.9" font-size="5.1" fill="#000">Low risk</text>
<line x1="134.2" y1="431.1" x2="141.3" y2="431.1" stroke="#E7191F" stroke-width="1.1"/>
<line x1="137.8" y1="429.7" x2="137.8" y2="431.2" stroke="#E7191F" stroke-width="0.9"/>
<text x="145.3" y="432.9" font-size="5.1" fill="#000">High risk</text>
<path d="M37.3 448.3 38.8 448.3 38.8 448.6 41.2 448.6 41.2 448.7 42 448.7 42 449 44.4 449 44.4 449.2 45.6 449.2 45.6 449.4 46.9 449.4 46.9 449.8 49 449.8 49 450 50.4 450 50.4 450.2 51.3 450.2 51.3 450.6 52.7 450.6 52.7 450.9 53.7 450.9 53.7 451.1 54.8 451.1 54.8 451.8 56.9 451.8 56.9 452.2 58 452.2 58 452.4 59.6 452.4 59.6 452.9 62.1 452.9 62.1 453.5 64.5 453.5 64.5 453.9 66.5 453.9 66.5 454.6 67.2 454.6 67.2 454.8 69 454.8 69 455 70.6 455 70.6 455.3 71.4 455.3 71.4 455.5 73.3 455.5 73.3 455.8 75.7 455.8 75.7 456.1 77.6 456.1 77.6 456.4 78.7 456.4 78.7 456.5 81.1 456.5 81.1 456.8 82.2 456.8 82.2 457.1 83 457.1 83 457.4 85.4 457.4 85.4 457.6 87.8 457.6 87.8 457.7 90.2 457.7 90.2 458 91.8 458 91.8 458.3 93 458.3 93 458.7 93.7 458.7 93.7 458.8 95.7 458.8 95.7 459 97.9 459 97.9 459.3 99.2 459.3 99.2 459.5 100.8 459.5 100.8 459.8 101.4 459.8 101.4 460 103.2 460 103.2 460.3 105.4 460.3 105.4 460.4 107.5 460.4 107.5 460.8 109.6 460.8 109.6 460.9 110.5 460.9 110.5 461.9 111.4 461.9 111.4 462.3 113.2 462.3 113.2 463 114 463 114 464 128.9 464 129.8 465.8 131.1 465.8 131.1 465.9 133.8 465.9 133.8 466 135.9 466 135.9 466.1 136.8 468.9 213 468.9" fill="none" stroke="#2F6BBE" stroke-width="1.3"/>
<path d="M42.2 447.7v2.6M41 449h2.4M43.5 447.7v2.6M42.3 449h2.4M44.2 447.7v2.6M43 449h2.4M47.8 448.5v2.6M46.6 449.8h2.4M48.2 448.5v2.6M47 449.8h2.4M52.4 449.3v2.6M51.2 450.6h2.4M54.1 449.8v2.6M52.9 451.1h2.4M54.4 449.8v2.6M53.2 451.1h2.4M54.9 450.5v2.6M53.7 451.8h2.4M57.8 450.9v2.6M56.6 452.2h2.4M65.2 452.6v2.6M64 453.9h2.4M68 453.5v2.6M66.8 454.8h2.4M75.3 454.5v2.6M74.1 455.8h2.4M76.2 454.8v2.6M75 456.1h2.4M77.2 454.8v2.6M76 456.1h2.4M78.7 455.1v2.6M77.5 456.4h2.4M81.8 455.5v2.6M80.6 456.8h2.4M82.8 455.8v2.6M81.6 457.1h2.4M92 457v2.6M90.8 458.3h2.4M92 457v2.6M90.8 458.3h2.4M92.5 457v2.6M91.3 458.3h2.4M98.3 458v2.6M97.1 459.3h2.4M100.4 458.2v2.6M99.2 459.5h2.4M101.2 458.5v2.6M100 459.8h2.4M103.6 459v2.6M102.4 460.3h2.4M108.7 459.5v2.6M107.5 460.8h2.4M110 459.6v2.6M108.8 460.9h2.4M112 461v2.6M110.8 462.3h2.4M115 462.7v2.6M113.8 464h2.4M123.2 462.7v2.6M122 464h2.4M124.2 462.7v2.6M123 464h2.4M130.4 464.5v2.6M129.2 465.8h2.4M132.4 464.6v2.6M131.2 465.9h2.4M135.4 464.7v2.6M134.2 466h2.4M136.5 464.8v2.6M135.3 466.1h2.4M139.7 467.6v2.6M138.5 468.9h2.4M144 467.6v2.6M142.8 468.9h2.4M150.6 467.6v2.6M149.4 468.9h2.4M161.7 467.6v2.6M160.5 468.9h2.4M166.3 467.6v2.6M165.1 468.9h2.4M166.8 467.6v2.6M165.6 468.9h2.4M169.1 467.6v2.6M167.9 468.9h2.4M169.5 467.6v2.6M168.3 468.9h2.4M175.6 467.6v2.6M174.4 468.9h2.4M176.5 467.6v2.6M175.3 468.9h2.4M179.1 467.6v2.6M177.9 468.9h2.4M181.3 467.6v2.6M180.1 468.9h2.4M187.6 467.6v2.6M186.4 468.9h2.4M194.6 467.6v2.6M193.4 468.9h2.4M197.1 467.6v2.6M195.9 468.9h2.4M202.9 467.6v2.6M201.7 468.9h2.4M203.1 467.6v2.6M201.9 468.9h2.4M209.9 467.6v2.6M208.7 468.9h2.4M211.5 467.6v2.6M210.3 468.9h2.4M212.9 467.6v2.6M211.7 468.9h2.4M213 467.6v2.6M211.8 468.9h2.4" stroke="#2F6BBE" stroke-width="0.9" fill="none"/>
<path d="M37.3 448.8 38.9 448.8 38.9 451.2 40.5 451.2 40.5 454.1 43.5 454.1 43.5 455.3 44.6 455.3 44.6 456.1 46.1 456.1 46.1 457.8 48.5 457.8 48.5 460.2 50.7 460.2 50.7 461.9 51.9 461.9 51.9 464.1 54.6 464.1 54.6 465.3 56.6 465.3 56.6 466.9 58.1 466.9 58.1 469.3 59.2 469.3 59.2 471.4 60.6 471.4 60.6 472 63.4 472 63.4 473.4 65.2 473.4 65.2 474.6 67.5 474.6 67.5 476 68.4 476 68.4 477.2 69.4 477.2 69.4 478 71.5 478 71.5 481.6 73.8 481.6 73.8 483.8 75.9 483.8 75.9 485.6 77.6 485.6 77.6 486.6 79.6 486.6 79.6 487.4 81 487.4 81 488 82.8 488 82.8 490.2 84 490.2 84 491.8 85.9 491.8 85.9 492.9 87.8 492.9 87.8 493.6 88.9 493.6 88.9 494.2 91 494.2 91 494.9 92.5 494.9 92.5 496.3 94.2 496.3 94.2 496.9 95 496.9 95 498.3 97.5 498.3 97.5 499.4 98.5 499.4 98.5 500.4 100.2 500.4 100.2 501.4 102 501.4 102 502.3 104.1 502.3 104.1 503.7 105.9 503.7 105.9 504.2 108.1 504.2 108.1 505.7 109.9 505.7 109.9 506 110.7 506 110.7 506.7 112 506.7 112 507.1 114.7 507.1 114.7 508.6 115.8 508.6 115.8 509.3 116.7 509.3 116.7 511 119.9 511 119.9 512.6 121.8 512.6 121.8 514.6 123.4 514.6 123.4 515.2 124.2 516.6 195 516.6" fill="none" stroke="#E7191F" stroke-width="1.3"/>
<path d="M39.3 449.9v2.6M38.1 451.2h2.4M40.8 452.8v2.6M39.6 454.1h2.4M48.4 456.5v2.6M47.2 457.8h2.4M49.7 458.9v2.6M48.5 460.2h2.4M50.6 458.9v2.6M49.4 460.2h2.4M56.7 465.6v2.6M55.5 466.9h2.4M67.7 474.7v2.6M66.5 476h2.4M76.5 484.3v2.6M75.3 485.6h2.4M77.7 485.3v2.6M76.5 486.6h2.4M82.2 486.7v2.6M81 488h2.4M100.7 500.1v2.6M99.5 501.4h2.4M102.4 501v2.6M101.2 502.3h2.4M102.9 501v2.6M101.7 502.3h2.4M112.5 505.8v2.6M111.3 507.1h2.4M115 507.3v2.6M113.8 508.6h2.4M116.4 508v2.6M115.2 509.3h2.4M119.7 509.7v2.6M118.5 511h2.4M123.7 513.9v2.6M122.5 515.2h2.4M124.5 515.3v2.6M123.3 516.6h2.4M128.3 515.3v2.6M127.1 516.6h2.4M133.2 515.3v2.6M132 516.6h2.4M134.8 515.3v2.6M133.6 516.6h2.4M158.2 515.3v2.6M157 516.6h2.4M159.5 515.3v2.6M158.3 516.6h2.4M160 515.3v2.6M158.8 516.6h2.4M173.5 515.3v2.6M172.3 516.6h2.4M178.7 515.3v2.6M177.5 516.6h2.4M186.6 515.3v2.6M185.4 516.6h2.4M190 515.3v2.6M188.8 516.6h2.4M192.3 515.3v2.6M191.1 516.6h2.4M195 515.3v2.6M193.8 516.6h2.4" stroke="#E7191F" stroke-width="0.9" fill="none"/>
<path d="M40.8 574.3V586.6H222.1" fill="none" stroke="#333" stroke-width="0.95"/>
<line x1="39.5" y1="577" x2="40.8" y2="577" stroke="#1a1a1a" stroke-width="0.8"/>
<line x1="39.5" y1="582.5" x2="40.8" y2="582.5" stroke="#1a1a1a" stroke-width="0.8"/>
<text x="38.5" y="579.2" font-size="6.4" text-anchor="end" fill="#2F6BBE">Low risk</text>
<text x="38.5" y="584.8" font-size="6.4" text-anchor="end" fill="#E7191F">High risk</text>
<text x="10.6" y="579.8" font-size="7.3" text-anchor="middle" fill="#000" transform="rotate(-90 10.6 579.8)">Risk</text>
<text x="49.4" y="579.4" font-size="6.7" text-anchor="middle" fill="#2F6BBE">134</text>
<text x="49.4" y="584.9" font-size="6.7" text-anchor="middle" fill="#E7191F">133</text>
<line x1="49.4" y1="586.6" x2="49.4" y2="587.9" stroke="#1a1a1a" stroke-width="0.8"/>
<text x="49.4" y="594" font-size="6.5" text-anchor="middle" fill="#1a1a1a">0</text>
<text x="75.5" y="579.4" font-size="6.7" text-anchor="middle" fill="#2F6BBE">101</text>
<text x="75.5" y="584.9" font-size="6.7" text-anchor="middle" fill="#E7191F">79</text>
<line x1="75.5" y1="586.6" x2="75.5" y2="587.9" stroke="#1a1a1a" stroke-width="0.8"/>
<text x="75.5" y="594" font-size="6.5" text-anchor="middle" fill="#1a1a1a">2</text>
<text x="101.6" y="579.4" font-size="6.7" text-anchor="middle" fill="#2F6BBE">73</text>
<text x="101.6" y="584.9" font-size="6.7" text-anchor="middle" fill="#E7191F">41</text>
<line x1="101.6" y1="586.6" x2="101.6" y2="587.9" stroke="#1a1a1a" stroke-width="0.8"/>
<text x="101.6" y="594" font-size="6.5" text-anchor="middle" fill="#1a1a1a">4</text>
<text x="127.7" y="579.4" font-size="6.7" text-anchor="middle" fill="#2F6BBE">39</text>
<text x="127.7" y="584.9" font-size="6.7" text-anchor="middle" fill="#E7191F">9</text>
<line x1="127.7" y1="586.6" x2="127.7" y2="587.9" stroke="#1a1a1a" stroke-width="0.8"/>
<text x="127.7" y="594" font-size="6.5" text-anchor="middle" fill="#1a1a1a">6</text>
<text x="153.8" y="579.4" font-size="6.7" text-anchor="middle" fill="#2F6BBE">16</text>
<text x="153.8" y="584.9" font-size="6.7" text-anchor="middle" fill="#E7191F">4</text>
<line x1="153.8" y1="586.6" x2="153.8" y2="587.9" stroke="#1a1a1a" stroke-width="0.8"/>
<text x="153.8" y="594" font-size="6.5" text-anchor="middle" fill="#1a1a1a">8</text>
<text x="179.9" y="579.4" font-size="6.7" text-anchor="middle" fill="#2F6BBE">5</text>
<text x="179.9" y="584.9" font-size="6.7" text-anchor="middle" fill="#E7191F">1</text>
<line x1="179.9" y1="586.6" x2="179.9" y2="587.9" stroke="#1a1a1a" stroke-width="0.8"/>
<text x="179.9" y="594" font-size="6.5" text-anchor="middle" fill="#1a1a1a">10</text>
<text x="206" y="579.4" font-size="6.7" text-anchor="middle" fill="#2F6BBE">1</text>
<text x="206" y="584.9" font-size="6.7" text-anchor="middle" fill="#E7191F">0</text>
<line x1="206" y1="586.6" x2="206" y2="587.9" stroke="#1a1a1a" stroke-width="0.8"/>
<text x="206" y="594" font-size="6.5" text-anchor="middle" fill="#1a1a1a">12</text>
<text x="131.9" y="602.2" font-size="7.2" text-anchor="middle" fill="#000">Time(years)</text>
<text transform="translate(226.65 416.70) scale(0.946 1)" font-size="17.83" fill="#201816">K</text>
<path d="M251.5 443V538.8H449.5" fill="none" stroke="#333" stroke-width="0.95"/>
<line x1="250.2" y1="446.2" x2="251.5" y2="446.2" stroke="#1a1a1a" stroke-width="0.8"/>
<text x="249.6" y="448.4" font-size="6.3" text-anchor="end" fill="#1a1a1a">1.00</text>
<line x1="250.2" y1="468.2" x2="251.5" y2="468.2" stroke="#1a1a1a" stroke-width="0.8"/>
<text x="249.6" y="470.4" font-size="6.3" text-anchor="end" fill="#1a1a1a">0.75</text>
<line x1="250.2" y1="490.3" x2="251.5" y2="490.3" stroke="#1a1a1a" stroke-width="0.8"/>
<text x="249.6" y="492.5" font-size="6.3" text-anchor="end" fill="#1a1a1a">0.50</text>
<line x1="250.2" y1="512.4" x2="251.5" y2="512.4" stroke="#1a1a1a" stroke-width="0.8"/>
<text x="249.6" y="514.6" font-size="6.3" text-anchor="end" fill="#1a1a1a">0.25</text>
<line x1="250.2" y1="534.4" x2="251.5" y2="534.4" stroke="#1a1a1a" stroke-width="0.8"/>
<text x="249.6" y="536.6" font-size="6.3" text-anchor="end" fill="#1a1a1a">0.00</text>
<line x1="260.3" y1="538.8" x2="260.3" y2="540.1" stroke="#1a1a1a" stroke-width="0.8"/>
<text x="260.3" y="546.7" font-size="6.4" text-anchor="middle" fill="#1a1a1a">0</text>
<line x1="296.3" y1="538.8" x2="296.3" y2="540.1" stroke="#1a1a1a" stroke-width="0.8"/>
<text x="296.3" y="546.7" font-size="6.4" text-anchor="middle" fill="#1a1a1a">2</text>
<line x1="332.3" y1="538.8" x2="332.3" y2="540.1" stroke="#1a1a1a" stroke-width="0.8"/>
<text x="332.3" y="546.7" font-size="6.4" text-anchor="middle" fill="#1a1a1a">4</text>
<line x1="368.3" y1="538.8" x2="368.3" y2="540.1" stroke="#1a1a1a" stroke-width="0.8"/>
<text x="368.3" y="546.7" font-size="6.4" text-anchor="middle" fill="#1a1a1a">6</text>
<line x1="404.3" y1="538.8" x2="404.3" y2="540.1" stroke="#1a1a1a" stroke-width="0.8"/>
<text x="404.3" y="546.7" font-size="6.4" text-anchor="middle" fill="#1a1a1a">8</text>
<line x1="440.3" y1="538.8" x2="440.3" y2="540.1" stroke="#1a1a1a" stroke-width="0.8"/>
<text x="440.3" y="546.7" font-size="6.4" text-anchor="middle" fill="#1a1a1a">10</text>
<text x="350.7" y="554.9" font-size="7.2" text-anchor="middle" fill="#000">Time(years)</text>
<text x="234" y="490.9" font-size="7.4" text-anchor="middle" fill="#000" transform="rotate(-90 234 490.9)">Overall survival</text>
<text x="264.7" y="520.2" font-size="8.8" fill="#000">p&lt;0.001</text>
<text x="309.7" y="429.6" font-size="5.1" fill="#000">Risk</text>
<line x1="324" y1="427.8" x2="331.1" y2="427.8" stroke="#2F6BBE" stroke-width="1.1"/>
<line x1="327.6" y1="426.4" x2="327.6" y2="427.9" stroke="#2F6BBE" stroke-width="0.9"/>
<text x="335.1" y="429.6" font-size="5.1" fill="#000">Low risk</text>
<line x1="358.1" y1="427.8" x2="365.2" y2="427.8" stroke="#E7191F" stroke-width="1.1"/>
<line x1="361.6" y1="426.4" x2="361.6" y2="427.9" stroke="#E7191F" stroke-width="0.9"/>
<text x="369.2" y="429.6" font-size="5.1" fill="#000">High risk</text>
<path d="M260.3 445.8 261.3 445.8 261.3 446.1 262.7 446.1 262.7 446.8 265.5 446.8 265.5 447.1 267.7 447.1 267.7 447.6 268.8 447.6 268.8 448.2 270.6 448.2 270.6 448.7 272.6 448.7 272.6 449.3 274.6 449.3 274.6 449.6 277 449.6 277 449.9 278.2 449.9 278.2 450 280.1 450 280.1 450.3 282 450.3 282 450.7 283.2 450.7 283.2 450.9 283.8 450.9 283.8 451.2 286.3 451.2 286.3 451.4 287.5 451.4 287.5 451.8 288.7 451.8 288.7 452.1 291 452.1 291 452.3 292.7 452.3 292.7 452.7 294.2 452.7 294.2 453 296.3 453 296.3 453.3 297 453.3 297 453.7 311.1 453.7 312.6 453.7 312.6 454.5 314.7 454.5 314.7 454.8 317 454.8 317 455.8 317.9 455.8 317.9 456.4 320.2 456.4 320.2 457.6 321.6 457.6 321.6 458.1 323.7 458.1 323.7 458.7 325.4 458.7 325.4 459.4 327.6 459.4 327.6 459.9 328.8 459.9 328.8 460.6 330 460.6 330 460.9 332 460.9 332 461.8 332.9 461.8 332.9 462.7 335.1 462.7 335.1 462.9 336.7 462.9 336.7 463.5 338.3 463.5 338.3 463.7 340.5 463.7 340.5 464.1 341.1 464.1 341.1 465.1 342.3 465.1 342.3 466.7 352.8 466.7 354.2 466.7 354.2 467.7 356.3 467.7 356.3 468.4 357.5 468.4 357.5 468.6 359.5 468.6 359.5 468.9 361.9 468.9 361.9 469.2 362.7 469.2 362.7 469.5 365 469.5 365 469.7 367.3 469.7 367.3 470 368.7 470 368.7 470.4 370.8 470.4 370.8 470.8 372 470.8 372 471.1 372.5 471.1 372.5 471.9 373.8 471.9 373.8 473.7 375.6 473.7 375.6 476 377.3 476 377.3 477.2 378.7 477.2 378.7 479.6 380 479.6 380 480.7 396.2 480.7 396.6 483.9 449.2 483.9" fill="none" stroke="#2F6BBE" stroke-width="1.3"/>
<path d="M263.4 445.5v2.6M262.2 446.8h2.4M265.1 445.5v2.6M263.9 446.8h2.4M269.6 446.9v2.6M268.4 448.2h2.4M274.9 448.3v2.6M273.7 449.6h2.4M276.4 448.3v2.6M275.2 449.6h2.4M276.5 448.3v2.6M275.3 449.6h2.4M278.1 448.6v2.6M276.9 449.9h2.4M281 449v2.6M279.8 450.3h2.4M281.6 449v2.6M280.4 450.3h2.4M295.5 451.7v2.6M294.3 453h2.4M314.3 453.2v2.6M313.1 454.5h2.4M316.1 453.5v2.6M314.9 454.8h2.4M317.9 455.1v2.6M316.7 456.4h2.4M323.5 456.8v2.6M322.3 458.1h2.4M327.4 458.1v2.6M326.2 459.4h2.4M331.6 459.6v2.6M330.4 460.9h2.4M334.2 461.4v2.6M333 462.7h2.4M340.2 462.4v2.6M339 463.7h2.4M342 463.8v2.6M340.8 465.1h2.4M349 465.4v2.6M347.8 466.7h2.4M350.5 465.4v2.6M349.3 466.7h2.4M353 465.4v2.6M351.8 466.7h2.4M355.9 466.4v2.6M354.7 467.7h2.4M357.5 467.1v2.6M356.3 468.4h2.4M357.7 467.3v2.6M356.5 468.6h2.4M360.1 467.6v2.6M358.9 468.9h2.4M374 472.4v2.6M372.8 473.7h2.4M375.5 472.4v2.6M374.3 473.7h2.4M375.9 474.7v2.6M374.7 476h2.4M379.1 478.3v2.6M377.9 479.6h2.4M379.6 478.3v2.6M378.4 479.6h2.4M384.3 479.4v2.6M383.1 480.7h2.4M386.5 479.4v2.6M385.3 480.7h2.4M387.1 479.4v2.6M385.9 480.7h2.4M390.7 479.4v2.6M389.5 480.7h2.4M391.2 479.4v2.6M390 480.7h2.4M393.6 479.4v2.6M392.4 480.7h2.4M393.7 479.4v2.6M392.5 480.7h2.4M396.4 479.4v2.6M395.2 480.7h2.4M399.8 482.6v2.6M398.6 483.9h2.4M400.6 482.6v2.6M399.4 483.9h2.4M405.8 482.6v2.6M404.6 483.9h2.4M408 482.6v2.6M406.8 483.9h2.4M408.3 482.6v2.6M407.1 483.9h2.4M412.3 482.6v2.6M411.1 483.9h2.4M412.7 482.6v2.6M411.5 483.9h2.4M413 482.6v2.6M411.8 483.9h2.4M415.2 482.6v2.6M414 483.9h2.4M416.3 482.6v2.6M415.1 483.9h2.4M428.4 482.6v2.6M427.2 483.9h2.4M428.5 482.6v2.6M427.3 483.9h2.4M429.8 482.6v2.6M428.6 483.9h2.4M430.1 482.6v2.6M428.9 483.9h2.4M432.9 482.6v2.6M431.7 483.9h2.4M436.6 482.6v2.6M435.4 483.9h2.4M445.5 482.6v2.6M444.3 483.9h2.4M446 482.6v2.6M444.8 483.9h2.4M447.6 482.6v2.6M446.4 483.9h2.4M448.7 482.6v2.6M447.5 483.9h2.4M448.9 482.6v2.6M447.7 483.9h2.4M449.2 482.6v2.6M448 483.9h2.4" stroke="#2F6BBE" stroke-width="0.9" fill="none"/>
<path d="M260.3 445.8 262.6 445.8 262.6 447.8 264.2 447.8 264.2 449.3 266.5 449.3 266.5 451.8 267.3 451.8 267.3 452.8 269.3 452.8 269.3 453.5 270.8 453.5 270.8 454.8 272.9 454.8 272.9 456.1 274.2 456.1 274.2 456.5 275.5 456.5 275.5 457.5 277.4 457.5 277.4 458.5 279.6 458.5 279.6 459.8 281.7 459.8 281.7 460.5 282.7 460.5 282.7 461.5 284.5 461.5 284.5 462.2 286.3 462.2 286.3 462.7 288.1 462.7 288.1 463.6 290.8 463.6 290.8 464.3 292.3 464.3 292.3 465 293.5 465 293.5 465.6 295.3 465.6 295.3 466 297.7 466 297.7 467.4 300.3 467.4 300.3 468.7 301.6 468.7 301.6 469.4 303.5 469.4 303.5 470.5 305.1 470.5 305.1 470.8 306.3 470.8 306.3 472.1 307.6 472.1 307.6 473 309.9 473 309.9 473.2 311.1 473.2 311.1 473.6 312.6 473.6 312.6 474 313.9 474 313.9 474.2 316.6 474.2 316.6 474.4 318.1 474.4 318.1 474.7 319.1 474.7 319.1 475.3 320.8 475.3 320.8 475.8 323.5 475.8 323.5 476.1 326.4 476.1 326.4 476.6 327.7 476.6 327.7 476.7 328.6 476.7 328.6 477.3 330.5 477.3 330.5 478 332.7 478 332.7 478.7 333.6 478.7 333.6 479.4 335.7 479.4 335.7 479.6 337.3 479.6 337.3 480 339.1 480 339.1 480.2 340.5 480.2 340.5 480.7 341.7 480.7 341.7 483.7 342.3 483.7 342.3 486 356.3 486 357.1 486 357.1 487 358 487 358 487.7 359 487.7 359 487.8 360.1 487.8 360.1 487.8 362.5 487.8 362.5 487.9 364.1 487.9 364.1 487.9 366.6 487.9 366.6 488 368.6 488 368.6 488.1 370.3 488.1 370.3 488.2 371.2 488.2 371.2 488.8 372 488.8 372 490.3 380.8 490.3 381.7 492.4 383.5 492.4 383.5 492.6 386.3 492.6 386.3 492.9 387.8 492.9 387.8 493 388.7 496 435.1 496 436 503.5 437.4 503.5 437.4 503.9 438.6 503.9 438.6 504.4 438.6 511.3 449.2 511.3" fill="none" stroke="#E7191F" stroke-width="1.3"/>
<path d="M266 448v2.6M264.8 449.3h2.4M267.1 450.5v2.6M265.9 451.8h2.4M268.9 451.5v2.6M267.7 452.8h2.4M271.8 453.5v2.6M270.6 454.8h2.4M276.3 456.2v2.6M275.1 457.5h2.4M277.5 457.2v2.6M276.3 458.5h2.4M278.2 457.2v2.6M277 458.5h2.4M281.3 458.5v2.6M280.1 459.8h2.4M282.2 459.2v2.6M281 460.5h2.4M285.5 460.9v2.6M284.3 462.2h2.4M288.3 462.3v2.6M287.1 463.6h2.4M292.9 463.7v2.6M291.7 465h2.4M293.9 464.3v2.6M292.7 465.6h2.4M300.8 467.4v2.6M299.6 468.7h2.4M303.1 468.1v2.6M301.9 469.4h2.4M303.6 469.2v2.6M302.4 470.5h2.4M312.6 472.7v2.6M311.4 474h2.4M315.7 472.9v2.6M314.5 474.2h2.4M333.8 478.1v2.6M332.6 479.4h2.4M344.3 484.7v2.6M343.1 486h2.4M346.8 484.7v2.6M345.6 486h2.4M350.5 484.7v2.6M349.3 486h2.4M358.7 486.4v2.6M357.5 487.7h2.4M363.7 486.6v2.6M362.5 487.9h2.4M369.8 486.8v2.6M368.6 488.1h2.4M377.8 489v2.6M376.6 490.3h2.4M379.8 489v2.6M378.6 490.3h2.4M385.9 491.3v2.6M384.7 492.6h2.4M386.8 491.6v2.6M385.6 492.9h2.4M389.4 494.7v2.6M388.2 496h2.4M395 494.7v2.6M393.8 496h2.4M405.8 494.7v2.6M404.6 496h2.4M416 494.7v2.6M414.8 496h2.4M416.6 494.7v2.6M415.4 496h2.4M435.4 494.7v2.6M434.2 496h2.4M436.3 502.2v2.6M435.1 503.5h2.4M438.7 510v2.6M437.5 511.3h2.4M440.1 510v2.6M438.9 511.3h2.4M440.5 510v2.6M439.3 511.3h2.4M446.7 510v2.6M445.5 511.3h2.4M449.2 510v2.6M448 511.3h2.4" stroke="#E7191F" stroke-width="0.9" fill="none"/>
<path d="M263.4 574.3V586.2H449.5" fill="none" stroke="#333" stroke-width="0.95"/>
<line x1="262.1" y1="577" x2="263.4" y2="577" stroke="#1a1a1a" stroke-width="0.8"/>
<line x1="262.1" y1="582.5" x2="263.4" y2="582.5" stroke="#1a1a1a" stroke-width="0.8"/>
<text x="261.1" y="579.2" font-size="6.4" text-anchor="end" fill="#2F6BBE">Low risk</text>
<text x="261.1" y="584.8" font-size="6.4" text-anchor="end" fill="#E7191F">High risk</text>
<text x="232.9" y="579.8" font-size="7.3" text-anchor="middle" fill="#000" transform="rotate(-90 232.9 579.8)">Risk</text>
<text x="272.4" y="579.4" font-size="6.7" text-anchor="middle" fill="#2F6BBE">147</text>
<text x="272.4" y="584.9" font-size="6.7" text-anchor="middle" fill="#E7191F">119</text>
<line x1="272.4" y1="586.2" x2="272.4" y2="587.5" stroke="#1a1a1a" stroke-width="0.8"/>
<text x="272.4" y="593.8" font-size="6.5" text-anchor="middle" fill="#1a1a1a">0</text>
<text x="306.1" y="579.4" font-size="6.7" text-anchor="middle" fill="#2F6BBE">102</text>
<text x="306.1" y="584.9" font-size="6.7" text-anchor="middle" fill="#E7191F">75</text>
<line x1="306.1" y1="586.2" x2="306.1" y2="587.5" stroke="#1a1a1a" stroke-width="0.8"/>
<text x="306.1" y="593.8" font-size="6.5" text-anchor="middle" fill="#1a1a1a">2</text>
<text x="339.9" y="579.4" font-size="6.7" text-anchor="middle" fill="#2F6BBE">60</text>
<text x="339.9" y="584.9" font-size="6.7" text-anchor="middle" fill="#E7191F">44</text>
<line x1="339.9" y1="586.2" x2="339.9" y2="587.5" stroke="#1a1a1a" stroke-width="0.8"/>
<text x="339.9" y="593.8" font-size="6.5" text-anchor="middle" fill="#1a1a1a">4</text>
<text x="373.6" y="579.4" font-size="6.7" text-anchor="middle" fill="#2F6BBE">30</text>
<text x="373.6" y="584.9" font-size="6.7" text-anchor="middle" fill="#E7191F">20</text>
<line x1="373.6" y1="586.2" x2="373.6" y2="587.5" stroke="#1a1a1a" stroke-width="0.8"/>
<text x="373.6" y="593.8" font-size="6.5" text-anchor="middle" fill="#1a1a1a">6</text>
<text x="407.4" y="579.4" font-size="6.7" text-anchor="middle" fill="#2F6BBE">13</text>
<text x="407.4" y="584.9" font-size="6.7" text-anchor="middle" fill="#E7191F">6</text>
<line x1="407.4" y1="586.2" x2="407.4" y2="587.5" stroke="#1a1a1a" stroke-width="0.8"/>
<text x="407.4" y="593.8" font-size="6.5" text-anchor="middle" fill="#1a1a1a">8</text>
<text x="441.1" y="579.4" font-size="6.7" text-anchor="middle" fill="#2F6BBE">5</text>
<text x="441.1" y="584.9" font-size="6.7" text-anchor="middle" fill="#E7191F">2</text>
<line x1="441.1" y1="586.2" x2="441.1" y2="587.5" stroke="#1a1a1a" stroke-width="0.8"/>
<text x="441.1" y="593.8" font-size="6.5" text-anchor="middle" fill="#1a1a1a">10</text>
<text x="356.6" y="602.2" font-size="7.2" text-anchor="middle" fill="#000">Time(years)</text>
<text transform="translate(452.16 418.00) scale(0.850 1)" font-size="21.16" fill="#201816">L</text>
<path d="M481 446V542.2H678.9" fill="none" stroke="#333" stroke-width="0.95"/>
<line x1="479.7" y1="450" x2="481" y2="450" stroke="#1a1a1a" stroke-width="0.8"/>
<text x="479.1" y="452.2" font-size="6.3" text-anchor="end" fill="#1a1a1a">1.00</text>
<line x1="479.7" y1="472" x2="481" y2="472" stroke="#1a1a1a" stroke-width="0.8"/>
<text x="479.1" y="474.2" font-size="6.3" text-anchor="end" fill="#1a1a1a">0.75</text>
<line x1="479.7" y1="494" x2="481" y2="494" stroke="#1a1a1a" stroke-width="0.8"/>
<text x="479.1" y="496.2" font-size="6.3" text-anchor="end" fill="#1a1a1a">0.50</text>
<line x1="479.7" y1="516" x2="481" y2="516" stroke="#1a1a1a" stroke-width="0.8"/>
<text x="479.1" y="518.2" font-size="6.3" text-anchor="end" fill="#1a1a1a">0.25</text>
<line x1="479.7" y1="538" x2="481" y2="538" stroke="#1a1a1a" stroke-width="0.8"/>
<text x="479.1" y="540.2" font-size="6.3" text-anchor="end" fill="#1a1a1a">0.00</text>
<line x1="489.8" y1="542.2" x2="489.8" y2="543.5" stroke="#1a1a1a" stroke-width="0.8"/>
<text x="489.8" y="549.9" font-size="6.4" text-anchor="middle" fill="#1a1a1a">0</text>
<line x1="518.6" y1="542.2" x2="518.6" y2="543.5" stroke="#1a1a1a" stroke-width="0.8"/>
<text x="518.6" y="549.9" font-size="6.4" text-anchor="middle" fill="#1a1a1a">2</text>
<line x1="547.4" y1="542.2" x2="547.4" y2="543.5" stroke="#1a1a1a" stroke-width="0.8"/>
<text x="547.4" y="549.9" font-size="6.4" text-anchor="middle" fill="#1a1a1a">4</text>
<line x1="576.2" y1="542.2" x2="576.2" y2="543.5" stroke="#1a1a1a" stroke-width="0.8"/>
<text x="576.2" y="549.9" font-size="6.4" text-anchor="middle" fill="#1a1a1a">6</text>
<line x1="605" y1="542.2" x2="605" y2="543.5" stroke="#1a1a1a" stroke-width="0.8"/>
<text x="605" y="549.9" font-size="6.4" text-anchor="middle" fill="#1a1a1a">8</text>
<line x1="633.8" y1="542.2" x2="633.8" y2="543.5" stroke="#1a1a1a" stroke-width="0.8"/>
<text x="633.8" y="549.9" font-size="6.4" text-anchor="middle" fill="#1a1a1a">10</text>
<line x1="662.6" y1="542.2" x2="662.6" y2="543.5" stroke="#1a1a1a" stroke-width="0.8"/>
<text x="662.6" y="549.9" font-size="6.4" text-anchor="middle" fill="#1a1a1a">12</text>
<text x="580" y="558.3" font-size="7.2" text-anchor="middle" fill="#000">Time(years)</text>
<text x="462.8" y="494.1" font-size="7.4" text-anchor="middle" fill="#000" transform="rotate(-90 462.8 494.1)">Overall survival</text>
<text x="492.9" y="523.9" font-size="8.8" fill="#000">p&lt;0.001</text>
<text x="539" y="433.2" font-size="5.1" fill="#000">Risk</text>
<line x1="553.3" y1="431.4" x2="560.4" y2="431.4" stroke="#2F6BBE" stroke-width="1.1"/>
<line x1="556.8" y1="430" x2="556.8" y2="431.5" stroke="#2F6BBE" stroke-width="0.9"/>
<text x="564.4" y="433.2" font-size="5.1" fill="#000">Low risk</text>
<line x1="587.4" y1="431.4" x2="594.5" y2="431.4" stroke="#E7191F" stroke-width="1.1"/>
<line x1="590.9" y1="430" x2="590.9" y2="431.5" stroke="#E7191F" stroke-width="0.9"/>
<text x="598.5" y="433.2" font-size="5.1" fill="#000">High risk</text>
<path d="M490 449 492.6 449 492.6 449.1 495.1 449.1 495.1 449.3 497 449.3 497 449.9 498.4 449.9 498.4 450.3 499.3 450.3 499.3 450.5 500.9 450.5 500.9 450.8 502.6 450.8 502.6 451.4 505.1 451.4 505.1 452 507.5 452 507.5 452.7 509 452.7 509 453 510.7 453 510.7 453.8 512.8 453.8 512.8 454.5 513.6 454.5 513.6 454.6 515.4 454.6 515.4 455.2 516.7 455.2 516.7 455.4 519.2 455.4 519.2 455.9 520 455.9 520 456.3 530.6 456.3 531.9 456.3 531.9 456.8 533.4 456.8 533.4 457.6 536 457.6 536 458 537.6 458 537.6 458.4 538.7 458.4 538.7 459.2 541.1 459.2 541.1 459.8 542.9 459.8 542.9 460.3 544.1 460.3 544.1 461.3 544.8 461.3 544.8 461.9 547.5 461.9 547.5 462.3 548.4 462.3 548.4 463.1 550.9 463.1 550.9 463.8 552.4 463.8 552.4 464.5 555.1 464.5 555.1 465.1 556.3 465.1 556.3 465.5 558.3 465.5 558.3 465.6 559.3 465.6 559.3 465.8 561.4 465.8 561.4 466.2 563.5 466.2 563.5 466.4 565 466.4 565 466.7 566.6 466.7 566.6 467.2 568.8 467.2 568.8 467.5 571 467.5 571 467.9 572.8 467.9 572.8 468.2 574.7 468.2 574.7 468.8 575.5 468.8 575.5 469 577.3 469 577.3 469.3 578.1 469.3 578.1 470.4 580.1 470.4 580.1 471.5 582.5 471.5 582.5 472 585 472 585 473.9 586 473.9 586 474.6 587.7 474.6 587.7 475.3 588.6 475.3 588.6 475.5 591.3 475.5 591.3 476 592.8 476 592.8 476.1 594.9 476.1 594.9 476.2 597.2 476.2 597.2 476.3 598.3 476.3 598.3 476.3 599.2 478.4 669.2 478.4" fill="none" stroke="#2F6BBE" stroke-width="1.3"/>
<path d="M492.6 447.8v2.6M491.4 449.1h2.4M493.8 447.8v2.6M492.6 449.1h2.4M495.3 448v2.6M494.1 449.3h2.4M498.5 449v2.6M497.3 450.3h2.4M499.5 449.2v2.6M498.3 450.5h2.4M501.2 449.5v2.6M500 450.8h2.4M502 449.5v2.6M500.8 450.8h2.4M503.1 450.1v2.6M501.9 451.4h2.4M505.1 450.1v2.6M503.9 451.4h2.4M505.6 450.7v2.6M504.4 452h2.4M510.6 451.7v2.6M509.4 453h2.4M515.5 453.9v2.6M514.3 455.2h2.4M521.3 455v2.6M520.1 456.3h2.4M522.5 455v2.6M521.3 456.3h2.4M523 455v2.6M521.8 456.3h2.4M524 455v2.6M522.8 456.3h2.4M525.6 455v2.6M524.4 456.3h2.4M529.9 455v2.6M528.7 456.3h2.4M532 455.5v2.6M530.8 456.8h2.4M539.4 457.9v2.6M538.2 459.2h2.4M541.6 458.5v2.6M540.4 459.8h2.4M542.5 458.5v2.6M541.3 459.8h2.4M545.1 460.6v2.6M543.9 461.9h2.4M545.7 460.6v2.6M544.5 461.9h2.4M546.4 460.6v2.6M545.2 461.9h2.4M546.9 460.6v2.6M545.7 461.9h2.4M548.8 461.8v2.6M547.6 463.1h2.4M550.6 461.8v2.6M549.4 463.1h2.4M551.3 462.5v2.6M550.1 463.8h2.4M551.6 462.5v2.6M550.4 463.8h2.4M551.8 462.5v2.6M550.6 463.8h2.4M552.3 462.5v2.6M551.1 463.8h2.4M555 463.2v2.6M553.8 464.5h2.4M556.7 464.2v2.6M555.5 465.5h2.4M557 464.2v2.6M555.8 465.5h2.4M558.6 464.3v2.6M557.4 465.6h2.4M560.7 464.5v2.6M559.5 465.8h2.4M566.1 465.4v2.6M564.9 466.7h2.4M567.9 465.9v2.6M566.7 467.2h2.4M573.6 466.9v2.6M572.4 468.2h2.4M577.3 468v2.6M576.1 469.3h2.4M577.6 468v2.6M576.4 469.3h2.4M578.5 469.1v2.6M577.3 470.4h2.4M578.8 469.1v2.6M577.6 470.4h2.4M578.8 469.1v2.6M577.6 470.4h2.4M579.8 469.1v2.6M578.6 470.4h2.4M581.5 470.2v2.6M580.3 471.5h2.4M583.6 470.7v2.6M582.4 472h2.4M584.2 470.7v2.6M583 472h2.4M585.5 472.6v2.6M584.3 473.9h2.4M590.6 474.2v2.6M589.4 475.5h2.4M590.6 474.2v2.6M589.4 475.5h2.4M591.7 474.7v2.6M590.5 476h2.4M594.8 474.8v2.6M593.6 476.1h2.4M595.8 474.9v2.6M594.6 476.2h2.4M595.9 474.9v2.6M594.7 476.2h2.4M596.9 474.9v2.6M595.7 476.2h2.4M597.4 475v2.6M596.2 476.3h2.4M598 475v2.6M596.8 476.3h2.4M598.3 475v2.6M597.1 476.3h2.4M599.2 477.1v2.6M598 478.4h2.4M600.8 477.1v2.6M599.6 478.4h2.4M601.6 477.1v2.6M600.4 478.4h2.4M601.9 477.1v2.6M600.7 478.4h2.4M602.3 477.1v2.6M601.1 478.4h2.4M602.9 477.1v2.6M601.7 478.4h2.4M608.7 477.1v2.6M607.5 478.4h2.4M612.6 477.1v2.6M611.4 478.4h2.4M614.5 477.1v2.6M613.3 478.4h2.4M615.9 477.1v2.6M614.7 478.4h2.4M616.5 477.1v2.6M615.3 478.4h2.4M618.5 477.1v2.6M617.3 478.4h2.4M620 477.1v2.6M618.8 478.4h2.4M621.7 477.1v2.6M620.5 478.4h2.4M621.8 477.1v2.6M620.6 478.4h2.4M622.4 477.1v2.6M621.2 478.4h2.4M622.9 477.1v2.6M621.7 478.4h2.4M623.1 477.1v2.6M621.9 478.4h2.4M623.5 477.1v2.6M622.3 478.4h2.4M623.6 477.1v2.6M622.4 478.4h2.4M625.2 477.1v2.6M624 478.4h2.4M628.3 477.1v2.6M627.1 478.4h2.4M629.1 477.1v2.6M627.9 478.4h2.4M637 477.1v2.6M635.8 478.4h2.4M637.2 477.1v2.6M636 478.4h2.4M639.3 477.1v2.6M638.1 478.4h2.4M639.9 477.1v2.6M638.7 478.4h2.4M640.7 477.1v2.6M639.5 478.4h2.4M644.2 477.1v2.6M643 478.4h2.4M646.1 477.1v2.6M644.9 478.4h2.4M648 477.1v2.6M646.8 478.4h2.4M648.5 477.1v2.6M647.3 478.4h2.4M650 477.1v2.6M648.8 478.4h2.4M659.8 477.1v2.6M658.6 478.4h2.4M661.7 477.1v2.6M660.5 478.4h2.4M661.9 477.1v2.6M660.7 478.4h2.4M664.1 477.1v2.6M662.9 478.4h2.4M665.3 477.1v2.6M664.1 478.4h2.4M665.8 477.1v2.6M664.6 478.4h2.4M668.6 477.1v2.6M667.4 478.4h2.4M669.2 477.1v2.6M668 478.4h2.4" stroke="#2F6BBE" stroke-width="0.9" fill="none"/>
<path d="M490 449.3 491.8 449.3 491.8 450.7 493.1 450.7 493.1 452.9 494.5 452.9 494.5 453.8 496 453.8 496 454.4 498.6 454.4 498.6 457.1 500.6 457.1 500.6 457.7 502.6 457.7 502.6 460.7 505.2 460.7 505.2 462.5 507.6 462.5 507.6 463.8 508.4 463.8 508.4 464.4 509.6 464.4 509.6 466.4 512.2 466.4 512.2 467 513.9 467 513.9 468.2 516 468.2 516 469.7 517 469.7 517 470.6 518.2 470.6 518.2 471.8 520 471.8 520 473.8 521.4 473.8 521.4 475.2 523 475.2 523 476.5 525.4 476.5 525.4 479.2 526.5 479.2 526.5 479.9 528.8 479.9 528.8 482.6 531.4 482.6 531.4 483.5 534.1 483.5 534.1 484.5 534.9 484.5 534.9 485.7 536.2 485.7 536.2 486.1 538.7 486.1 538.7 486.5 540.4 486.5 540.4 487.6 541.1 487.6 541.1 487.9 542.3 487.9 542.3 488.8 543.9 488.8 543.9 489.6 545.4 489.6 545.4 490 547.2 490 547.2 490.7 549.6 490.7 549.6 492 551.6 492 551.6 493.1 553.5 493.1 553.5 494.4 554.9 494.4 554.9 495.9 557 495.9 557 496.8 558.6 496.8 558.6 498.4 560 498.4 560 498.7 562.5 498.7 562.5 499 565 499 565 499.1 566.8 499.1 566.8 499.9 568.6 499.9 568.6 500.8 570.6 500.8 570.6 501.2 572 501.2 572 502.6 574.2 502.6 574.2 503.3 575.2 503.3 575.2 503.7 577.3 503.7 577.3 505.2 578.5 505.2 578.5 506.4 579 506.4 579 507 580.4 507 580.4 507.2 582.1 507.2 582.1 507.3 583.2 507.3 583.2 507.4 586.2 507.4 586.2 507.6 587.8 507.6 587.8 507.8 589 507.8 589 508.5 592 508.5 592 508.9 593 508.9 593 510 629 510 629.9 514.5 630.6 514.5 630.6 517.2 631.6 517.2 631.6 519.2 650.8 519.2" fill="none" stroke="#E7191F" stroke-width="1.3"/>
<path d="M493.7 451.6v2.6M492.5 452.9h2.4M495.9 452.5v2.6M494.7 453.8h2.4M501.1 456.4v2.6M499.9 457.7h2.4M505.9 461.2v2.6M504.7 462.5h2.4M522 473.9v2.6M520.8 475.2h2.4M522.8 473.9v2.6M521.6 475.2h2.4M523.2 475.2v2.6M522 476.5h2.4M526.8 478.6v2.6M525.6 479.9h2.4M528.7 478.6v2.6M527.5 479.9h2.4M532.7 482.2v2.6M531.5 483.5h2.4M536.7 484.8v2.6M535.5 486.1h2.4M543.5 487.5v2.6M542.3 488.8h2.4M545 488.3v2.6M543.8 489.6h2.4M547 488.7v2.6M545.8 490h2.4M547.2 488.7v2.6M546 490h2.4M548.4 489.4v2.6M547.2 490.7h2.4M552.5 491.8v2.6M551.3 493.1h2.4M554.6 493.1v2.6M553.4 494.4h2.4M555.5 494.6v2.6M554.3 495.9h2.4M555.5 494.6v2.6M554.3 495.9h2.4M556 494.6v2.6M554.8 495.9h2.4M563.9 497.7v2.6M562.7 499h2.4M565.4 497.8v2.6M564.2 499.1h2.4M569 499.5v2.6M567.8 500.8h2.4M572 499.9v2.6M570.8 501.2h2.4M572.3 501.3v2.6M571.1 502.6h2.4M574.6 502v2.6M573.4 503.3h2.4M578 503.9v2.6M576.8 505.2h2.4M578 503.9v2.6M576.8 505.2h2.4M579.4 505.7v2.6M578.2 507h2.4M580.2 505.7v2.6M579 507h2.4M582.8 506v2.6M581.6 507.3h2.4M585.1 506.1v2.6M583.9 507.4h2.4M585.8 506.1v2.6M584.6 507.4h2.4M587.2 506.3v2.6M586 507.6h2.4M587.9 506.5v2.6M586.7 507.8h2.4M588.2 506.5v2.6M587 507.8h2.4M589.4 507.2v2.6M588.2 508.5h2.4M590.7 507.2v2.6M589.5 508.5h2.4M591.2 507.2v2.6M590 508.5h2.4M597.9 508.7v2.6M596.7 510h2.4M605.5 508.7v2.6M604.3 510h2.4M605.7 508.7v2.6M604.5 510h2.4M606.3 508.7v2.6M605.1 510h2.4M606.8 508.7v2.6M605.6 510h2.4M607 508.7v2.6M605.8 510h2.4M612.2 508.7v2.6M611 510h2.4M612.5 508.7v2.6M611.3 510h2.4M614.8 508.7v2.6M613.6 510h2.4M619.8 508.7v2.6M618.6 510h2.4M622.2 508.7v2.6M621 510h2.4M624.1 508.7v2.6M622.9 510h2.4M624.3 508.7v2.6M623.1 510h2.4M626.9 508.7v2.6M625.7 510h2.4M631.2 515.9v2.6M630 517.2h2.4M634 517.9v2.6M632.8 519.2h2.4M635.8 517.9v2.6M634.6 519.2h2.4M646.3 517.9v2.6M645.1 519.2h2.4M647.7 517.9v2.6M646.5 519.2h2.4M648.1 517.9v2.6M646.9 519.2h2.4M650.8 517.9v2.6M649.6 519.2h2.4" stroke="#E7191F" stroke-width="0.9" fill="none"/>
<path d="M492.4 577.5V589.6H678.9" fill="none" stroke="#333" stroke-width="0.95"/>
<line x1="491.1" y1="580.4" x2="492.4" y2="580.4" stroke="#1a1a1a" stroke-width="0.8"/>
<line x1="491.1" y1="586.2" x2="492.4" y2="586.2" stroke="#1a1a1a" stroke-width="0.8"/>
<text x="490.1" y="582.6" font-size="6.4" text-anchor="end" fill="#2F6BBE">Low risk</text>
<text x="490.1" y="588.5" font-size="6.4" text-anchor="end" fill="#E7191F">High risk</text>
<text x="462.7" y="583.3" font-size="7.3" text-anchor="middle" fill="#000" transform="rotate(-90 462.7 583.3)">Risk</text>
<text x="501.3" y="582.8" font-size="6.7" text-anchor="middle" fill="#2F6BBE">281</text>
<text x="501.3" y="588.6" font-size="6.7" text-anchor="middle" fill="#E7191F">252</text>
<line x1="501.3" y1="589.6" x2="501.3" y2="590.9" stroke="#1a1a1a" stroke-width="0.8"/>
<text x="501.3" y="597.5" font-size="6.5" text-anchor="middle" fill="#1a1a1a">0</text>
<text x="528.3" y="582.8" font-size="6.7" text-anchor="middle" fill="#2F6BBE">203</text>
<text x="528.3" y="588.6" font-size="6.7" text-anchor="middle" fill="#E7191F">154</text>
<line x1="528.3" y1="589.6" x2="528.3" y2="590.9" stroke="#1a1a1a" stroke-width="0.8"/>
<text x="528.3" y="597.5" font-size="6.5" text-anchor="middle" fill="#1a1a1a">2</text>
<text x="555.4" y="582.8" font-size="6.7" text-anchor="middle" fill="#2F6BBE">133</text>
<text x="555.4" y="588.6" font-size="6.7" text-anchor="middle" fill="#E7191F">85</text>
<line x1="555.4" y1="589.6" x2="555.4" y2="590.9" stroke="#1a1a1a" stroke-width="0.8"/>
<text x="555.4" y="597.5" font-size="6.5" text-anchor="middle" fill="#1a1a1a">4</text>
<text x="582.4" y="582.8" font-size="6.7" text-anchor="middle" fill="#2F6BBE">69</text>
<text x="582.4" y="588.6" font-size="6.7" text-anchor="middle" fill="#E7191F">29</text>
<line x1="582.4" y1="589.6" x2="582.4" y2="590.9" stroke="#1a1a1a" stroke-width="0.8"/>
<text x="582.4" y="597.5" font-size="6.5" text-anchor="middle" fill="#1a1a1a">6</text>
<text x="609.5" y="582.8" font-size="6.7" text-anchor="middle" fill="#2F6BBE">29</text>
<text x="609.5" y="588.6" font-size="6.7" text-anchor="middle" fill="#E7191F">12</text>
<line x1="609.5" y1="589.6" x2="609.5" y2="590.9" stroke="#1a1a1a" stroke-width="0.8"/>
<text x="609.5" y="597.5" font-size="6.5" text-anchor="middle" fill="#1a1a1a">8</text>
<text x="636.5" y="582.8" font-size="6.7" text-anchor="middle" fill="#2F6BBE">10</text>
<text x="636.5" y="588.6" font-size="6.7" text-anchor="middle" fill="#E7191F">3</text>
<line x1="636.5" y1="589.6" x2="636.5" y2="590.9" stroke="#1a1a1a" stroke-width="0.8"/>
<text x="636.5" y="597.5" font-size="6.5" text-anchor="middle" fill="#1a1a1a">10</text>
<text x="663.5" y="582.8" font-size="6.7" text-anchor="middle" fill="#2F6BBE">1</text>
<text x="663.5" y="588.6" font-size="6.7" text-anchor="middle" fill="#E7191F">0</text>
<line x1="663.5" y1="589.6" x2="663.5" y2="590.9" stroke="#1a1a1a" stroke-width="0.8"/>
<text x="663.5" y="597.5" font-size="6.5" text-anchor="middle" fill="#1a1a1a">12</text>
<text x="586" y="605.7" font-size="7.2" text-anchor="middle" fill="#000">Time(years)</text>
<text transform="translate(2.77 625.70) scale(0.922 1)" font-size="20.72" fill="#201816">M</text>
<path d="M29.4 651.5V745.4H221.2" fill="none" stroke="#333" stroke-width="0.95"/>
<line x1="28.1" y1="655.7" x2="29.4" y2="655.7" stroke="#1a1a1a" stroke-width="0.8"/>
<text x="27.5" y="657.9" font-size="6.3" text-anchor="end" fill="#1a1a1a">1.00</text>
<line x1="28.1" y1="677.2" x2="29.4" y2="677.2" stroke="#1a1a1a" stroke-width="0.8"/>
<text x="27.5" y="679.4" font-size="6.3" text-anchor="end" fill="#1a1a1a">0.75</text>
<line x1="28.1" y1="698.7" x2="29.4" y2="698.7" stroke="#1a1a1a" stroke-width="0.8"/>
<text x="27.5" y="700.9" font-size="6.3" text-anchor="end" fill="#1a1a1a">0.50</text>
<line x1="28.1" y1="720.2" x2="29.4" y2="720.2" stroke="#1a1a1a" stroke-width="0.8"/>
<text x="27.5" y="722.4" font-size="6.3" text-anchor="end" fill="#1a1a1a">0.25</text>
<line x1="28.1" y1="741.7" x2="29.4" y2="741.7" stroke="#1a1a1a" stroke-width="0.8"/>
<text x="27.5" y="743.9" font-size="6.3" text-anchor="end" fill="#1a1a1a">0.00</text>
<line x1="38.2" y1="745.4" x2="38.2" y2="746.7" stroke="#1a1a1a" stroke-width="0.8"/>
<text x="38.2" y="752.9" font-size="6.4" text-anchor="middle" fill="#1a1a1a">0</text>
<line x1="67.3" y1="745.4" x2="67.3" y2="746.7" stroke="#1a1a1a" stroke-width="0.8"/>
<text x="67.3" y="752.9" font-size="6.4" text-anchor="middle" fill="#1a1a1a">2</text>
<line x1="96.4" y1="745.4" x2="96.4" y2="746.7" stroke="#1a1a1a" stroke-width="0.8"/>
<text x="96.4" y="752.9" font-size="6.4" text-anchor="middle" fill="#1a1a1a">4</text>
<line x1="125.5" y1="745.4" x2="125.5" y2="746.7" stroke="#1a1a1a" stroke-width="0.8"/>
<text x="125.5" y="752.9" font-size="6.4" text-anchor="middle" fill="#1a1a1a">6</text>
<line x1="154.6" y1="745.4" x2="154.6" y2="746.7" stroke="#1a1a1a" stroke-width="0.8"/>
<text x="154.6" y="752.9" font-size="6.4" text-anchor="middle" fill="#1a1a1a">8</text>
<line x1="183.7" y1="745.4" x2="183.7" y2="746.7" stroke="#1a1a1a" stroke-width="0.8"/>
<text x="183.7" y="752.9" font-size="6.4" text-anchor="middle" fill="#1a1a1a">10</text>
<line x1="212.8" y1="745.4" x2="212.8" y2="746.7" stroke="#1a1a1a" stroke-width="0.8"/>
<text x="212.8" y="752.9" font-size="6.4" text-anchor="middle" fill="#1a1a1a">12</text>
<text x="125.7" y="760.5" font-size="7.2" text-anchor="middle" fill="#000">Time(years)</text>
<text x="11.7" y="698.5" font-size="7.4" text-anchor="middle" fill="#000" transform="rotate(-90 11.7 698.5)">Progression free survival</text>
<text x="41.5" y="727.5" font-size="8.8" fill="#000">p&lt;0.001</text>
<text x="85.8" y="639.6" font-size="5.1" fill="#000">Risk</text>
<line x1="100.1" y1="637.8" x2="107.2" y2="637.8" stroke="#2F6BBE" stroke-width="1.1"/>
<line x1="103.6" y1="636.4" x2="103.6" y2="637.9" stroke="#2F6BBE" stroke-width="0.9"/>
<text x="111.2" y="639.6" font-size="5.1" fill="#000">Low risk</text>
<line x1="134.2" y1="637.8" x2="141.3" y2="637.8" stroke="#E7191F" stroke-width="1.1"/>
<line x1="137.8" y1="636.4" x2="137.8" y2="637.9" stroke="#E7191F" stroke-width="0.9"/>
<text x="145.3" y="639.6" font-size="5.1" fill="#000">High risk</text>
<path d="M38.2 654.7 40.1 654.7 40.1 655.6 42.6 655.6 42.6 656.3 44.8 656.3 44.8 656.7 45.9 656.7 45.9 657.2 47.2 657.2 47.2 657.6 49.6 657.6 49.6 658.2 50.3 658.2 50.3 658.9 52.6 658.9 52.6 659.6 55.4 659.6 55.4 660.3 57.8 660.3 57.8 661.4 59.8 661.4 59.8 662.3 62.6 662.3 62.6 663 63.7 663 63.7 663.8 64.8 663.8 64.8 664.2 66.7 664.2 66.7 664.4 67.5 664.4 67.5 664.9 68.3 664.9 68.3 665.8 70.1 665.8 70.1 666.2 71.5 666.2 71.5 666.4 72.2 666.4 72.2 666.7 74.6 666.7 74.6 667.1 75.6 667.1 75.6 667.6 76.8 667.6 76.8 667.9 79.3 667.9 79.3 668.3 81 668.3 81 668.5 83.4 668.5 83.4 668.8 85.4 668.8 85.4 669 87.6 669 87.6 669.2 89.9 669.2 89.9 669.4 91.3 669.4 91.3 669.4 93.9 669.4 93.9 669.7 95.7 669.7 95.7 669.8 97.6 669.8 97.6 670 99.5 670 99.5 670.2 101.5 670.2 101.5 670.4 102.4 670.4 102.4 670.7 104 670.7 104 670.7 105.1 670.7 105.1 671 106.9 671 106.9 671.4 108.7 671.4 108.7 671.8 110 671.8 110 673.1 117 673.1 118.1 673.1 118.1 674.6 118.8 674.6 118.8 675.7 132.8 675.7 133.7 678.2 188 678.2 188.5 699.2 201.1 699.2" fill="none" stroke="#2F6BBE" stroke-width="1.3"/>
<path d="M42.6 655v2.6M41.4 656.3h2.4M50.5 657.6v2.6M49.3 658.9h2.4M50.7 657.6v2.6M49.5 658.9h2.4M63.5 661.7v2.6M62.3 663h2.4M64.2 662.5v2.6M63 663.8h2.4M64.5 662.5v2.6M63.3 663.8h2.4M65.8 662.9v2.6M64.6 664.2h2.4M69.6 664.5v2.6M68.4 665.8h2.4M71.2 664.9v2.6M70 666.2h2.4M72.2 665.1v2.6M71 666.4h2.4M72.8 665.4v2.6M71.6 666.7h2.4M77.5 666.6v2.6M76.3 667.9h2.4M79.9 667v2.6M78.7 668.3h2.4M86.3 667.7v2.6M85.1 669h2.4M87.9 667.9v2.6M86.7 669.2h2.4M93.8 668.1v2.6M92.6 669.4h2.4M93.8 668.1v2.6M92.6 669.4h2.4M94.3 668.4v2.6M93.1 669.7h2.4M95.3 668.4v2.6M94.1 669.7h2.4M103 669.4v2.6M101.8 670.7h2.4M108.7 670.1v2.6M107.5 671.4h2.4M115 671.8v2.6M113.8 673.1h2.4M117.3 671.8v2.6M116.1 673.1h2.4M119 674.4v2.6M117.8 675.7h2.4M119.1 674.4v2.6M117.9 675.7h2.4M124.5 674.4v2.6M123.3 675.7h2.4M128.2 674.4v2.6M127 675.7h2.4M128.9 674.4v2.6M127.7 675.7h2.4M134.3 676.9v2.6M133.1 678.2h2.4M134.5 676.9v2.6M133.3 678.2h2.4M135.6 676.9v2.6M134.4 678.2h2.4M137.8 676.9v2.6M136.6 678.2h2.4M139.5 676.9v2.6M138.3 678.2h2.4M139.7 676.9v2.6M138.5 678.2h2.4M143.6 676.9v2.6M142.4 678.2h2.4M143.6 676.9v2.6M142.4 678.2h2.4M145.9 676.9v2.6M144.7 678.2h2.4M148 676.9v2.6M146.8 678.2h2.4M149.7 676.9v2.6M148.5 678.2h2.4M150 676.9v2.6M148.8 678.2h2.4M152.3 676.9v2.6M151.1 678.2h2.4M156.8 676.9v2.6M155.6 678.2h2.4M160.8 676.9v2.6M159.6 678.2h2.4M162.7 676.9v2.6M161.5 678.2h2.4M164 676.9v2.6M162.8 678.2h2.4M168.2 676.9v2.6M167 678.2h2.4M175.4 676.9v2.6M174.2 678.2h2.4M178.1 676.9v2.6M176.9 678.2h2.4M183.8 676.9v2.6M182.6 678.2h2.4M184.9 676.9v2.6M183.7 678.2h2.4M190.9 697.9v2.6M189.7 699.2h2.4M192.8 697.9v2.6M191.6 699.2h2.4M194.5 697.9v2.6M193.3 699.2h2.4M194.8 697.9v2.6M193.6 699.2h2.4M197.4 697.9v2.6M196.2 699.2h2.4M201.1 697.9v2.6M199.9 699.2h2.4" stroke="#2F6BBE" stroke-width="0.9" fill="none"/>
<path d="M38.2 654.7 39.6 654.7 39.6 658.5 42.4 658.5 42.4 662.5 43.8 662.5 43.8 664.8 45.9 664.8 45.9 667.8 47.8 667.8 47.8 669.8 49 669.8 49 671.8 50.8 671.8 50.8 675.6 52.6 675.6 52.6 678 53.7 678 53.7 678.8 55.4 678.8 55.4 680 57.2 680 57.2 681 59 681 59 681.5 61.3 681.5 61.3 682.3 62.9 682.3 62.9 685 64.5 685 64.5 686.4 66.6 686.4 66.6 687.5 68.3 687.5 68.3 689.3 69.3 689.3 69.3 689.7 70.9 689.7 70.9 690.1 72.7 690.1 72.7 690.5 75.1 690.5 75.1 690.6 77.9 690.6 77.9 690.8 78.8 690.8 78.8 691.1 81.2 691.1 81.2 691.5 82.7 691.5 82.7 691.9 84.4 691.9 84.4 692.4 85.8 692.4 85.8 692.9 86.5 692.9 86.5 693.6 87.6 693.6 87.6 695.5 89.9 695.5 89.9 696 91.2 696 91.2 696.1 92.9 696.1 92.9 696.7 94 696.7 94 697.1 96 697.1 96 697.4 98.1 697.4 98.1 698.1 100.1 698.1 100.1 699.2 102.1 699.2 102.1 700.5 103.9 700.5 103.9 702.2 105.1 702.2 105.1 703.4 106.3 703.4 106.3 704.2 108.3 704.2 108.3 705.1 110 705.1 110 706.7 112 706.7 112 707.8 113.5 707.8 113.5 709.3 114.2 709.3 114.2 710.9 115.3 710.9 115.3 711.5 126.6 711.5 126.6 717.2 148.9 717.2 148.9 725.1 174.8 725.1" fill="none" stroke="#E7191F" stroke-width="1.3"/>
<path d="M40.4 657.2v2.6M39.2 658.5h2.4M51.6 674.3v2.6M50.4 675.6h2.4M58 679.7v2.6M56.8 681h2.4M58.3 679.7v2.6M57.1 681h2.4M61.1 680.2v2.6M59.9 681.5h2.4M67.2 686.2v2.6M66 687.5h2.4M67.5 686.2v2.6M66.3 687.5h2.4M72.2 688.8v2.6M71 690.1h2.4M74.6 689.2v2.6M73.4 690.5h2.4M75.8 689.3v2.6M74.6 690.6h2.4M80.6 689.8v2.6M79.4 691.1h2.4M81.1 689.8v2.6M79.9 691.1h2.4M96.4 696.1v2.6M95.2 697.4h2.4M100.2 697.9v2.6M99 699.2h2.4M110.6 705.4v2.6M109.4 706.7h2.4M110.6 705.4v2.6M109.4 706.7h2.4M111.7 705.4v2.6M110.5 706.7h2.4M115.1 709.6v2.6M113.9 710.9h2.4M131.8 715.9v2.6M130.6 717.2h2.4M153.9 723.8v2.6M152.7 725.1h2.4M158.5 723.8v2.6M157.3 725.1h2.4M159.2 723.8v2.6M158 725.1h2.4M164.6 723.8v2.6M163.4 725.1h2.4M167 723.8v2.6M165.8 725.1h2.4M168.1 723.8v2.6M166.9 725.1h2.4M174.8 723.8v2.6M173.6 725.1h2.4" stroke="#E7191F" stroke-width="0.9" fill="none"/>
<path d="M41.5 779V791.3H221.2" fill="none" stroke="#333" stroke-width="0.95"/>
<line x1="40.2" y1="782" x2="41.5" y2="782" stroke="#1a1a1a" stroke-width="0.8"/>
<line x1="40.2" y1="787.8" x2="41.5" y2="787.8" stroke="#1a1a1a" stroke-width="0.8"/>
<text x="39.2" y="784.2" font-size="6.4" text-anchor="end" fill="#2F6BBE">Low risk</text>
<text x="39.2" y="790" font-size="6.4" text-anchor="end" fill="#E7191F">High risk</text>
<text x="11.8" y="784.9" font-size="7.3" text-anchor="middle" fill="#000" transform="rotate(-90 11.8 784.9)">Risk</text>
<text x="49.9" y="784.4" font-size="6.7" text-anchor="middle" fill="#2F6BBE">134</text>
<text x="49.9" y="790.1" font-size="6.7" text-anchor="middle" fill="#E7191F">132</text>
<line x1="49.9" y1="791.3" x2="49.9" y2="792.6" stroke="#1a1a1a" stroke-width="0.8"/>
<text x="49.9" y="799.1" font-size="6.5" text-anchor="middle" fill="#1a1a1a">0</text>
<text x="77.1" y="784.4" font-size="6.7" text-anchor="middle" fill="#2F6BBE">92</text>
<text x="77.1" y="790.1" font-size="6.7" text-anchor="middle" fill="#E7191F">60</text>
<line x1="77.1" y1="791.3" x2="77.1" y2="792.6" stroke="#1a1a1a" stroke-width="0.8"/>
<text x="77.1" y="799.1" font-size="6.5" text-anchor="middle" fill="#1a1a1a">2</text>
<text x="104.4" y="784.4" font-size="6.7" text-anchor="middle" fill="#2F6BBE">63</text>
<text x="104.4" y="790.1" font-size="6.7" text-anchor="middle" fill="#E7191F">33</text>
<line x1="104.4" y1="791.3" x2="104.4" y2="792.6" stroke="#1a1a1a" stroke-width="0.8"/>
<text x="104.4" y="799.1" font-size="6.5" text-anchor="middle" fill="#1a1a1a">4</text>
<text x="131.6" y="784.4" font-size="6.7" text-anchor="middle" fill="#2F6BBE">29</text>
<text x="131.6" y="790.1" font-size="6.7" text-anchor="middle" fill="#E7191F">7</text>
<line x1="131.6" y1="791.3" x2="131.6" y2="792.6" stroke="#1a1a1a" stroke-width="0.8"/>
<text x="131.6" y="799.1" font-size="6.5" text-anchor="middle" fill="#1a1a1a">6</text>
<text x="158.9" y="784.4" font-size="6.7" text-anchor="middle" fill="#2F6BBE">14</text>
<text x="158.9" y="790.1" font-size="6.7" text-anchor="middle" fill="#E7191F">2</text>
<line x1="158.9" y1="791.3" x2="158.9" y2="792.6" stroke="#1a1a1a" stroke-width="0.8"/>
<text x="158.9" y="799.1" font-size="6.5" text-anchor="middle" fill="#1a1a1a">8</text>
<text x="186.1" y="784.4" font-size="6.7" text-anchor="middle" fill="#2F6BBE">4</text>
<text x="186.1" y="790.1" font-size="6.7" text-anchor="middle" fill="#E7191F">0</text>
<line x1="186.1" y1="791.3" x2="186.1" y2="792.6" stroke="#1a1a1a" stroke-width="0.8"/>
<text x="186.1" y="799.1" font-size="6.5" text-anchor="middle" fill="#1a1a1a">10</text>
<text x="213.3" y="784.4" font-size="6.7" text-anchor="middle" fill="#2F6BBE">0</text>
<text x="213.3" y="790.1" font-size="6.7" text-anchor="middle" fill="#E7191F">0</text>
<line x1="213.3" y1="791.3" x2="213.3" y2="792.6" stroke="#1a1a1a" stroke-width="0.8"/>
<text x="213.3" y="799.1" font-size="6.5" text-anchor="middle" fill="#1a1a1a">12</text>
<text x="131.9" y="807" font-size="7.2" text-anchor="middle" fill="#000">Time(years)</text>
<text transform="translate(226.89 625.70) scale(0.853 1)" font-size="20.72" fill="#201816">N</text>
<path d="M252 653.5V749H448.3" fill="none" stroke="#333" stroke-width="0.95"/>
<line x1="250.7" y1="657.3" x2="252" y2="657.3" stroke="#1a1a1a" stroke-width="0.8"/>
<text x="250.1" y="659.5" font-size="6.3" text-anchor="end" fill="#1a1a1a">1.00</text>
<line x1="250.7" y1="679.2" x2="252" y2="679.2" stroke="#1a1a1a" stroke-width="0.8"/>
<text x="250.1" y="681.4" font-size="6.3" text-anchor="end" fill="#1a1a1a">0.75</text>
<line x1="250.7" y1="701.1" x2="252" y2="701.1" stroke="#1a1a1a" stroke-width="0.8"/>
<text x="250.1" y="703.3" font-size="6.3" text-anchor="end" fill="#1a1a1a">0.50</text>
<line x1="250.7" y1="723" x2="252" y2="723" stroke="#1a1a1a" stroke-width="0.8"/>
<text x="250.1" y="725.2" font-size="6.3" text-anchor="end" fill="#1a1a1a">0.25</text>
<line x1="250.7" y1="744.9" x2="252" y2="744.9" stroke="#1a1a1a" stroke-width="0.8"/>
<text x="250.1" y="747.1" font-size="6.3" text-anchor="end" fill="#1a1a1a">0.00</text>
<line x1="261.2" y1="749" x2="261.2" y2="750.3" stroke="#1a1a1a" stroke-width="0.8"/>
<text x="261.2" y="756.7" font-size="6.4" text-anchor="middle" fill="#1a1a1a">0</text>
<line x1="296.9" y1="749" x2="296.9" y2="750.3" stroke="#1a1a1a" stroke-width="0.8"/>
<text x="296.9" y="756.7" font-size="6.4" text-anchor="middle" fill="#1a1a1a">2</text>
<line x1="332.5" y1="749" x2="332.5" y2="750.3" stroke="#1a1a1a" stroke-width="0.8"/>
<text x="332.5" y="756.7" font-size="6.4" text-anchor="middle" fill="#1a1a1a">4</text>
<line x1="368.2" y1="749" x2="368.2" y2="750.3" stroke="#1a1a1a" stroke-width="0.8"/>
<text x="368.2" y="756.7" font-size="6.4" text-anchor="middle" fill="#1a1a1a">6</text>
<line x1="403.8" y1="749" x2="403.8" y2="750.3" stroke="#1a1a1a" stroke-width="0.8"/>
<text x="403.8" y="756.7" font-size="6.4" text-anchor="middle" fill="#1a1a1a">8</text>
<line x1="439.5" y1="749" x2="439.5" y2="750.3" stroke="#1a1a1a" stroke-width="0.8"/>
<text x="439.5" y="756.7" font-size="6.4" text-anchor="middle" fill="#1a1a1a">10</text>
<text x="350.7" y="764.9" font-size="7.2" text-anchor="middle" fill="#000">Time(years)</text>
<text x="234" y="701.2" font-size="7.4" text-anchor="middle" fill="#000" transform="rotate(-90 234 701.2)">Progression free survival</text>
<text x="265.2" y="731" font-size="8.8" fill="#000">p=0.014</text>
<text x="310.2" y="641.2" font-size="5.1" fill="#000">Risk</text>
<line x1="324.5" y1="639.4" x2="331.6" y2="639.4" stroke="#2F6BBE" stroke-width="1.1"/>
<line x1="328.1" y1="638" x2="328.1" y2="639.5" stroke="#2F6BBE" stroke-width="0.9"/>
<text x="335.6" y="641.2" font-size="5.1" fill="#000">Low risk</text>
<line x1="358.6" y1="639.4" x2="365.7" y2="639.4" stroke="#E7191F" stroke-width="1.1"/>
<line x1="362.1" y1="638" x2="362.1" y2="639.5" stroke="#E7191F" stroke-width="0.9"/>
<text x="369.7" y="641.2" font-size="5.1" fill="#000">High risk</text>
<path d="M261.2 656 263.6 656 263.6 657.4 264.9 657.4 264.9 659 266.8 659 266.8 660.6 269 660.6 269 662.2 270 662.2 270 663.1 272.1 663.1 272.1 663.9 274.4 663.9 274.4 664.3 275.5 664.3 275.5 665.1 276.4 665.1 276.4 665.5 279.6 665.5 279.6 666.2 280.5 666.2 280.5 666.8 282.3 666.8 282.3 667.3 284.3 667.3 284.3 668.1 286.3 668.1 286.3 668.3 288.2 668.3 288.2 668.7 290.1 668.7 290.1 669.2 292.2 669.2 292.2 670 295.2 670 295.2 670.2 296.6 670.2 296.6 670.5 297.6 670.5 297.6 670.9 298.8 670.9 298.8 671.5 314.6 671.5 315.9 671.5 315.9 672.6 316.4 672.6 316.4 673.6 330 673.6 331 673.6 331 674.9 331.8 674.9 331.8 676.1 358 676.1 359 676.1 359 677.9 359.8 677.9 359.8 679.6 360.7 682.2 394.8 682.2 394.8 686.9 419.3 686.9 419.7 701.5 448.3 701.5" fill="none" stroke="#2F6BBE" stroke-width="1.3"/>
<path d="M262.9 654.7v2.6M261.7 656h2.4M263.3 654.7v2.6M262.1 656h2.4M266 657.7v2.6M264.8 659h2.4M273.3 662.6v2.6M272.1 663.9h2.4M273.8 662.6v2.6M272.6 663.9h2.4M280.2 664.9v2.6M279 666.2h2.4M281.4 665.5v2.6M280.2 666.8h2.4M281.5 665.5v2.6M280.3 666.8h2.4M282.6 666v2.6M281.4 667.3h2.4M282.6 666v2.6M281.4 667.3h2.4M284 666v2.6M282.8 667.3h2.4M285 666.8v2.6M283.8 668.1h2.4M290.7 667.9v2.6M289.5 669.2h2.4M292 667.9v2.6M290.8 669.2h2.4M296.9 669.2v2.6M295.7 670.5h2.4M297.3 669.2v2.6M296.1 670.5h2.4M297.8 669.6v2.6M296.6 670.9h2.4M303.2 670.2v2.6M302 671.5h2.4M305.7 670.2v2.6M304.5 671.5h2.4M306.3 670.2v2.6M305.1 671.5h2.4M306.4 670.2v2.6M305.2 671.5h2.4M307.4 670.2v2.6M306.2 671.5h2.4M315.4 670.2v2.6M314.2 671.5h2.4M317.1 672.3v2.6M315.9 673.6h2.4M318.7 672.3v2.6M317.5 673.6h2.4M323.1 672.3v2.6M321.9 673.6h2.4M326.7 672.3v2.6M325.5 673.6h2.4M327.5 672.3v2.6M326.3 673.6h2.4M330.1 672.3v2.6M328.9 673.6h2.4M332.4 674.8v2.6M331.2 676.1h2.4M338.3 674.8v2.6M337.1 676.1h2.4M340.4 674.8v2.6M339.2 676.1h2.4M341.5 674.8v2.6M340.3 676.1h2.4M343.2 674.8v2.6M342 676.1h2.4M349.9 674.8v2.6M348.7 676.1h2.4M356.4 674.8v2.6M355.2 676.1h2.4M359.1 676.6v2.6M357.9 677.9h2.4M360.3 678.3v2.6M359.1 679.6h2.4M364.9 680.9v2.6M363.7 682.2h2.4M371.6 680.9v2.6M370.4 682.2h2.4M377.7 680.9v2.6M376.5 682.2h2.4M379.8 680.9v2.6M378.6 682.2h2.4M381.7 680.9v2.6M380.5 682.2h2.4M384.3 680.9v2.6M383.1 682.2h2.4M393.7 680.9v2.6M392.5 682.2h2.4M396.5 685.6v2.6M395.3 686.9h2.4M401.1 685.6v2.6M399.9 686.9h2.4M403.8 685.6v2.6M402.6 686.9h2.4M408 685.6v2.6M406.8 686.9h2.4M408.1 685.6v2.6M406.9 686.9h2.4M411.8 685.6v2.6M410.6 686.9h2.4M415.9 685.6v2.6M414.7 686.9h2.4M428.3 700.2v2.6M427.1 701.5h2.4M431.9 700.2v2.6M430.7 701.5h2.4M436.1 700.2v2.6M434.9 701.5h2.4M438.2 700.2v2.6M437 701.5h2.4M440.1 700.2v2.6M438.9 701.5h2.4M443 700.2v2.6M441.8 701.5h2.4M443.2 700.2v2.6M442 701.5h2.4M446.5 700.2v2.6M445.3 701.5h2.4M448.3 700.2v2.6M447.1 701.5h2.4" stroke="#2F6BBE" stroke-width="0.9" fill="none"/>
<path d="M261.2 656 264.2 656 264.2 660.6 265.5 660.6 265.5 662.2 267.4 662.2 267.4 663.8 268.5 663.8 268.5 664.8 270.8 664.8 270.8 666.6 273 666.6 273 668.9 274.3 668.9 274.3 671.8 275.2 671.8 275.2 672.5 276.1 672.5 276.1 674.5 277.1 674.5 277.1 674.8 279.6 674.8 279.6 675.3 280.7 675.3 280.7 675.7 283.1 675.7 283.1 676.3 284.4 676.3 284.4 676.5 287 676.5 287 676.8 288.8 676.8 288.8 677.5 290.1 677.5 290.1 678 292.1 678 292.1 678.3 293.6 678.3 293.6 678.7 295.2 678.7 295.2 679.2 297.1 679.2 297.1 679.7 298.8 679.7 298.8 681.1 300.1 681.1 300.1 682.1 302.1 682.1 302.1 683.5 304.1 683.5 304.1 684.1 305 684.1 305 684.7 306.9 684.7 306.9 685.2 309.1 685.2 309.1 685.8 310.9 685.8 310.9 686.3 312.9 686.3 312.9 686.7 314 686.7 314 686.9 316.3 686.9 316.3 687.3 317 687.3 317 687.6 319.2 687.6 319.2 687.8 321.5 687.8 321.5 688 322.9 688 322.9 688.2 325.1 688.2 325.1 688.5 326 688.5 326 689.1 326.9 689.1 326.9 689.7 328.9 689.7 328.9 689.8 330.5 689.8 330.5 690 331.8 690 331.8 690.1 333.3 690.1 333.3 690.2 335.7 690.2 335.7 690.5 336.7 690.5 336.7 690.7 339 690.7 339 690.8 340.5 690.8 340.5 691 341.4 691.8 357.2 691.8 358 693.9 375.9 693.9 375.9 697.1 392.2 697.1 392.7 702.3 448.3 702.3" fill="none" stroke="#E7191F" stroke-width="1.3"/>
<path d="M262.4 654.7v2.6M261.2 656h2.4M266 660.9v2.6M264.8 662.2h2.4M267.3 660.9v2.6M266.1 662.2h2.4M269.4 663.5v2.6M268.2 664.8h2.4M272.4 665.3v2.6M271.2 666.6h2.4M274.8 670.5v2.6M273.6 671.8h2.4M276.1 671.2v2.6M274.9 672.5h2.4M276.4 673.2v2.6M275.2 674.5h2.4M282.9 674.4v2.6M281.7 675.7h2.4M297.9 678.4v2.6M296.7 679.7h2.4M299.6 679.8v2.6M298.4 681.1h2.4M300.6 680.8v2.6M299.4 682.1h2.4M301.2 680.8v2.6M300 682.1h2.4M316.8 686v2.6M315.6 687.3h2.4M321.7 686.7v2.6M320.5 688h2.4M322.5 686.7v2.6M321.3 688h2.4M335.4 688.9v2.6M334.2 690.2h2.4M342.5 690.5v2.6M341.3 691.8h2.4M350.1 690.5v2.6M348.9 691.8h2.4M354 690.5v2.6M352.8 691.8h2.4M355.4 690.5v2.6M354.2 691.8h2.4M355.4 690.5v2.6M354.2 691.8h2.4M359.7 692.6v2.6M358.5 693.9h2.4M363.9 692.6v2.6M362.7 693.9h2.4M364.7 692.6v2.6M363.5 693.9h2.4M367.9 692.6v2.6M366.7 693.9h2.4M368.7 692.6v2.6M367.5 693.9h2.4M369.1 692.6v2.6M367.9 693.9h2.4M374.5 692.6v2.6M373.3 693.9h2.4M387.2 695.8v2.6M386 697.1h2.4M388.6 695.8v2.6M387.4 697.1h2.4M407.3 701v2.6M406.1 702.3h2.4M422.9 701v2.6M421.7 702.3h2.4M432.1 701v2.6M430.9 702.3h2.4M440.6 701v2.6M439.4 702.3h2.4M442.4 701v2.6M441.2 702.3h2.4M445.2 701v2.6M444 702.3h2.4M446.5 701v2.6M445.3 702.3h2.4M446.7 701v2.6M445.5 702.3h2.4M448.2 701v2.6M447 702.3h2.4M448.3 701v2.6M447.1 702.3h2.4" stroke="#E7191F" stroke-width="0.9" fill="none"/>
<path d="M264.3 784V796.2H448.3" fill="none" stroke="#333" stroke-width="0.95"/>
<line x1="263" y1="786.6" x2="264.3" y2="786.6" stroke="#1a1a1a" stroke-width="0.8"/>
<line x1="263" y1="792.2" x2="264.3" y2="792.2" stroke="#1a1a1a" stroke-width="0.8"/>
<text x="262" y="788.9" font-size="6.4" text-anchor="end" fill="#2F6BBE">Low risk</text>
<text x="262" y="794.5" font-size="6.4" text-anchor="end" fill="#E7191F">High risk</text>
<text x="234.1" y="789.4" font-size="7.3" text-anchor="middle" fill="#000" transform="rotate(-90 234.1 789.4)">Risk</text>
<text x="273.1" y="789" font-size="6.7" text-anchor="middle" fill="#2F6BBE">146</text>
<text x="273.1" y="794.6" font-size="6.7" text-anchor="middle" fill="#E7191F">119</text>
<line x1="273.1" y1="796.2" x2="273.1" y2="797.5" stroke="#1a1a1a" stroke-width="0.8"/>
<text x="273.1" y="803.8" font-size="6.5" text-anchor="middle" fill="#1a1a1a">0</text>
<text x="306.4" y="789" font-size="6.7" text-anchor="middle" fill="#2F6BBE">90</text>
<text x="306.4" y="794.6" font-size="6.7" text-anchor="middle" fill="#E7191F">67</text>
<line x1="306.4" y1="796.2" x2="306.4" y2="797.5" stroke="#1a1a1a" stroke-width="0.8"/>
<text x="306.4" y="803.8" font-size="6.5" text-anchor="middle" fill="#1a1a1a">2</text>
<text x="339.8" y="789" font-size="6.7" text-anchor="middle" fill="#2F6BBE">52</text>
<text x="339.8" y="794.6" font-size="6.7" text-anchor="middle" fill="#E7191F">38</text>
<line x1="339.8" y1="796.2" x2="339.8" y2="797.5" stroke="#1a1a1a" stroke-width="0.8"/>
<text x="339.8" y="803.8" font-size="6.5" text-anchor="middle" fill="#1a1a1a">4</text>
<text x="373.1" y="789" font-size="6.7" text-anchor="middle" fill="#2F6BBE">23</text>
<text x="373.1" y="794.6" font-size="6.7" text-anchor="middle" fill="#E7191F">18</text>
<line x1="373.1" y1="796.2" x2="373.1" y2="797.5" stroke="#1a1a1a" stroke-width="0.8"/>
<text x="373.1" y="803.8" font-size="6.5" text-anchor="middle" fill="#1a1a1a">6</text>
<text x="406.5" y="789" font-size="6.7" text-anchor="middle" fill="#2F6BBE">8</text>
<text x="406.5" y="794.6" font-size="6.7" text-anchor="middle" fill="#E7191F">5</text>
<line x1="406.5" y1="796.2" x2="406.5" y2="797.5" stroke="#1a1a1a" stroke-width="0.8"/>
<text x="406.5" y="803.8" font-size="6.5" text-anchor="middle" fill="#1a1a1a">8</text>
<text x="439.8" y="789" font-size="6.7" text-anchor="middle" fill="#2F6BBE">3</text>
<text x="439.8" y="794.6" font-size="6.7" text-anchor="middle" fill="#E7191F">1</text>
<line x1="439.8" y1="796.2" x2="439.8" y2="797.5" stroke="#1a1a1a" stroke-width="0.8"/>
<text x="439.8" y="803.8" font-size="6.5" text-anchor="middle" fill="#1a1a1a">10</text>
<text x="356.6" y="812.2" font-size="7.2" text-anchor="middle" fill="#000">Time(years)</text>
<text transform="translate(453.70 625.99) scale(0.843 1)" font-size="21.13" fill="#201816">O</text>
<path d="M481 652.5V748.6H677.1" fill="none" stroke="#333" stroke-width="0.95"/>
<line x1="479.7" y1="656.4" x2="481" y2="656.4" stroke="#1a1a1a" stroke-width="0.8"/>
<text x="479.1" y="658.6" font-size="6.3" text-anchor="end" fill="#1a1a1a">1.00</text>
<line x1="479.7" y1="678.4" x2="481" y2="678.4" stroke="#1a1a1a" stroke-width="0.8"/>
<text x="479.1" y="680.6" font-size="6.3" text-anchor="end" fill="#1a1a1a">0.75</text>
<line x1="479.7" y1="700.5" x2="481" y2="700.5" stroke="#1a1a1a" stroke-width="0.8"/>
<text x="479.1" y="702.7" font-size="6.3" text-anchor="end" fill="#1a1a1a">0.50</text>
<line x1="479.7" y1="722.5" x2="481" y2="722.5" stroke="#1a1a1a" stroke-width="0.8"/>
<text x="479.1" y="724.7" font-size="6.3" text-anchor="end" fill="#1a1a1a">0.25</text>
<line x1="479.7" y1="744.5" x2="481" y2="744.5" stroke="#1a1a1a" stroke-width="0.8"/>
<text x="479.1" y="746.7" font-size="6.3" text-anchor="end" fill="#1a1a1a">0.00</text>
<line x1="489.4" y1="748.6" x2="489.4" y2="749.9" stroke="#1a1a1a" stroke-width="0.8"/>
<text x="489.4" y="756.4" font-size="6.4" text-anchor="middle" fill="#1a1a1a">0</text>
<line x1="519.3" y1="748.6" x2="519.3" y2="749.9" stroke="#1a1a1a" stroke-width="0.8"/>
<text x="519.3" y="756.4" font-size="6.4" text-anchor="middle" fill="#1a1a1a">2</text>
<line x1="549.2" y1="748.6" x2="549.2" y2="749.9" stroke="#1a1a1a" stroke-width="0.8"/>
<text x="549.2" y="756.4" font-size="6.4" text-anchor="middle" fill="#1a1a1a">4</text>
<line x1="579" y1="748.6" x2="579" y2="749.9" stroke="#1a1a1a" stroke-width="0.8"/>
<text x="579" y="756.4" font-size="6.4" text-anchor="middle" fill="#1a1a1a">6</text>
<line x1="608.9" y1="748.6" x2="608.9" y2="749.9" stroke="#1a1a1a" stroke-width="0.8"/>
<text x="608.9" y="756.4" font-size="6.4" text-anchor="middle" fill="#1a1a1a">8</text>
<line x1="638.8" y1="748.6" x2="638.8" y2="749.9" stroke="#1a1a1a" stroke-width="0.8"/>
<text x="638.8" y="756.4" font-size="6.4" text-anchor="middle" fill="#1a1a1a">10</text>
<line x1="668.7" y1="748.6" x2="668.7" y2="749.9" stroke="#1a1a1a" stroke-width="0.8"/>
<text x="668.7" y="756.4" font-size="6.4" text-anchor="middle" fill="#1a1a1a">12</text>
<text x="579.3" y="764.9" font-size="7.2" text-anchor="middle" fill="#000">Time(years)</text>
<text x="462.2" y="700.5" font-size="7.4" text-anchor="middle" fill="#000" transform="rotate(-90 462.2 700.5)">Progression free survival</text>
<text x="492.9" y="730.5" font-size="8.8" fill="#000">p&lt;0.001</text>
<text x="539" y="640" font-size="5.1" fill="#000">Risk</text>
<line x1="553.3" y1="638.2" x2="560.4" y2="638.2" stroke="#2F6BBE" stroke-width="1.1"/>
<line x1="556.8" y1="636.8" x2="556.8" y2="638.3" stroke="#2F6BBE" stroke-width="0.9"/>
<text x="564.4" y="640" font-size="5.1" fill="#000">Low risk</text>
<line x1="587.4" y1="638.2" x2="594.5" y2="638.2" stroke="#E7191F" stroke-width="1.1"/>
<line x1="590.9" y1="636.8" x2="590.9" y2="638.3" stroke="#E7191F" stroke-width="0.9"/>
<text x="598.5" y="640" font-size="5.1" fill="#000">High risk</text>
<path d="M489.4 655.7 490.6 655.7 490.6 656.8 492.7 656.8 492.7 657.6 495.1 657.6 495.1 658.1 496 658.1 496 658.8 497.2 658.8 497.2 659.6 500.4 659.6 500.4 660 501.4 660 501.4 660.4 502.6 660.4 502.6 661.3 504.5 661.3 504.5 661.7 506.2 661.7 506.2 662.7 508.4 662.7 508.4 663.7 510.1 663.7 510.1 664 512.6 664 512.6 664.7 513.6 664.7 513.6 665.1 515.3 665.1 515.3 665.4 516.9 665.4 516.9 666.5 518.2 666.5 518.2 667.1 520 667.1 520 667.4 522 667.4 522 667.5 523.1 667.5 523.1 667.7 525.6 667.7 525.6 668.4 526.8 668.4 526.8 668.7 527.5 668.7 527.5 669.2 528.6 669.2 528.6 669.3 530 669.3 530 669.5 531.6 669.5 531.6 670 534.1 670 534.1 670.4 536.2 670.4 536.2 670.7 537.6 670.7 537.6 671 538.7 671 538.7 671.1 540 671.1 540 671.4 541 671.4 541 671.8 544.1 671.8 544.1 671.9 546.2 671.9 546.2 672.3 547.4 672.3 547.4 672.5 550.2 672.5 550.2 672.6 551.6 672.6 551.6 672.7 552.8 672.7 552.8 673.2 554.9 673.2 554.9 673.4 556.6 673.4 556.6 673.6 558.9 673.6 558.9 673.9 560 673.9 560 674.2 561.3 674.2 561.3 674.3 562.4 674.3 562.4 674.5 565 674.5 565 674.7 566.2 674.7 566.2 674.8 568.8 674.8 568.8 675 571.1 675 571.1 675.2 572 678.7 574.1 678.7 574.1 678.8 576.5 678.8 576.5 678.8 577.4 678.8 577.4 678.9 579.2 678.9 579.2 678.9 580.1 678.9 580.1 679.1 581.6 679.1 581.6 679.1 583.7 679.1 583.7 679.1 586 679.1 586 679.2 586.4 679.2 586.4 680.7 587.8 680.7 587.8 681.3 600.9 681.3 601.8 683.1 621.9 683.1 622.8 686.9 643 686.9 643.5 698.5 657 698.5" fill="none" stroke="#2F6BBE" stroke-width="1.3"/>
<path d="M490.7 655.5v2.6M489.5 656.8h2.4M492.6 655.5v2.6M491.4 656.8h2.4M493.6 656.3v2.6M492.4 657.6h2.4M493.7 656.3v2.6M492.5 657.6h2.4M494.1 656.3v2.6M492.9 657.6h2.4M494.3 656.3v2.6M493.1 657.6h2.4M495.6 656.8v2.6M494.4 658.1h2.4M502.6 659.1v2.6M501.4 660.4h2.4M503.4 660v2.6M502.2 661.3h2.4M503.9 660v2.6M502.7 661.3h2.4M504.3 660v2.6M503.1 661.3h2.4M508.6 662.4v2.6M507.4 663.7h2.4M509 662.4v2.6M507.8 663.7h2.4M510 662.4v2.6M508.8 663.7h2.4M512 662.7v2.6M510.8 664h2.4M516.6 664.1v2.6M515.4 665.4h2.4M521.3 666.1v2.6M520.1 667.4h2.4M522.4 666.2v2.6M521.2 667.5h2.4M522.6 666.2v2.6M521.4 667.5h2.4M528.6 667.9v2.6M527.4 669.2h2.4M530.2 668.2v2.6M529 669.5h2.4M531 668.2v2.6M529.8 669.5h2.4M531.9 668.7v2.6M530.7 670h2.4M534.3 669.1v2.6M533.1 670.4h2.4M535.8 669.1v2.6M534.6 670.4h2.4M535.9 669.1v2.6M534.7 670.4h2.4M536.4 669.4v2.6M535.2 670.7h2.4M536.4 669.4v2.6M535.2 670.7h2.4M537.3 669.4v2.6M536.1 670.7h2.4M537.6 669.7v2.6M536.4 671h2.4M538.1 669.7v2.6M536.9 671h2.4M538.5 669.7v2.6M537.3 671h2.4M544.2 670.6v2.6M543 671.9h2.4M551.5 671.3v2.6M550.3 672.6h2.4M552.8 671.4v2.6M551.6 672.7h2.4M554 671.9v2.6M552.8 673.2h2.4M555.9 672.1v2.6M554.7 673.4h2.4M557.8 672.3v2.6M556.6 673.6h2.4M558.7 672.3v2.6M557.5 673.6h2.4M562.7 673.2v2.6M561.5 674.5h2.4M567.9 673.5v2.6M566.7 674.8h2.4M568.9 673.7v2.6M567.7 675h2.4M570.1 673.7v2.6M568.9 675h2.4M574.5 677.5v2.6M573.3 678.8h2.4M575 677.5v2.6M573.8 678.8h2.4M579.1 677.6v2.6M577.9 678.9h2.4M584.5 677.8v2.6M583.3 679.1h2.4M585.9 677.8v2.6M584.7 679.1h2.4M588.5 680v2.6M587.3 681.3h2.4M591.1 680v2.6M589.9 681.3h2.4M591.8 680v2.6M590.6 681.3h2.4M592 680v2.6M590.8 681.3h2.4M594.7 680v2.6M593.5 681.3h2.4M595.6 680v2.6M594.4 681.3h2.4M598.2 680v2.6M597 681.3h2.4M599.6 680v2.6M598.4 681.3h2.4M601.7 680v2.6M600.5 681.3h2.4M602.2 681.8v2.6M601 683.1h2.4M604.6 681.8v2.6M603.4 683.1h2.4M605.4 681.8v2.6M604.2 683.1h2.4M606.2 681.8v2.6M605 683.1h2.4M607.1 681.8v2.6M605.9 683.1h2.4M607.1 681.8v2.6M605.9 683.1h2.4M607.5 681.8v2.6M606.3 683.1h2.4M608.5 681.8v2.6M607.3 683.1h2.4M609.1 681.8v2.6M607.9 683.1h2.4M609.6 681.8v2.6M608.4 683.1h2.4M610.6 681.8v2.6M609.4 683.1h2.4M614 681.8v2.6M612.8 683.1h2.4M615.1 681.8v2.6M613.9 683.1h2.4M618.1 681.8v2.6M616.9 683.1h2.4M619 681.8v2.6M617.8 683.1h2.4M619.1 681.8v2.6M617.9 683.1h2.4M620.7 681.8v2.6M619.5 683.1h2.4M622.3 681.8v2.6M621.1 683.1h2.4M624.1 685.6v2.6M622.9 686.9h2.4M624.2 685.6v2.6M623 686.9h2.4M625.9 685.6v2.6M624.7 686.9h2.4M630.2 685.6v2.6M629 686.9h2.4M630.8 685.6v2.6M629.6 686.9h2.4M631.5 685.6v2.6M630.3 686.9h2.4M631.9 685.6v2.6M630.7 686.9h2.4M633.5 685.6v2.6M632.3 686.9h2.4M638.8 685.6v2.6M637.6 686.9h2.4M639.6 685.6v2.6M638.4 686.9h2.4M641.6 685.6v2.6M640.4 686.9h2.4M642.9 685.6v2.6M641.7 686.9h2.4M644.9 697.2v2.6M643.7 698.5h2.4M646.3 697.2v2.6M645.1 698.5h2.4M646.4 697.2v2.6M645.2 698.5h2.4M646.6 697.2v2.6M645.4 698.5h2.4M648.3 697.2v2.6M647.1 698.5h2.4M648.5 697.2v2.6M647.3 698.5h2.4M651.3 697.2v2.6M650.1 698.5h2.4M652 697.2v2.6M650.8 698.5h2.4M652.9 697.2v2.6M651.7 698.5h2.4M653 697.2v2.6M651.8 698.5h2.4M655.1 697.2v2.6M653.9 698.5h2.4M656.5 697.2v2.6M655.3 698.5h2.4M656.7 697.2v2.6M655.5 698.5h2.4M657 697.2v2.6M655.8 698.5h2.4" stroke="#2F6BBE" stroke-width="0.9" fill="none"/>
<path d="M489.4 655.7 490.9 655.7 490.9 658.3 494.2 658.3 494.2 661.9 495.5 661.9 495.5 664.8 497.3 664.8 497.3 666.1 498.2 666.1 498.2 670.6 500.4 670.6 500.4 672.5 502.6 672.5 502.6 675.3 504.2 675.3 504.2 675.8 505.8 675.8 505.8 676.8 507.5 676.8 507.5 678.1 510.1 678.1 510.1 679.4 511.3 679.4 511.3 680.6 512.1 680.6 512.1 681.2 514.5 681.2 514.5 682.6 516.3 682.6 516.3 683.8 518.6 683.8 518.6 685.2 520 685.2 520 685.8 521.1 685.8 521.1 686.5 523.8 686.5 523.8 687 524.6 687 524.6 687.4 527.7 687.4 527.7 687.7 528.8 687.7 528.8 688.5 530.9 688.5 530.9 688.8 532.7 688.8 532.7 689.3 534.3 689.3 534.3 689.5 536.1 689.5 536.1 689.7 537.6 689.7 537.6 690.2 539.8 690.2 539.8 691 541.3 691 541.3 691.5 543.2 691.5 543.2 692 545.1 692 545.1 692.6 547.4 692.6 547.4 693.2 548.1 693.2 548.1 693.7 549.4 693.7 549.4 694.1 551.9 694.1 551.9 694.8 554.2 694.8 554.2 695.6 555.1 695.6 555.1 696.4 556.3 696.4 556.3 697.3 559 697.3 559 698.2 561.2 698.2 561.2 698.8 562.1 698.8 562.1 700.7 564.1 700.7 564.1 701.3 567.2 701.3 567.2 701.8 568.5 701.8 568.5 702.3 569.5 702.3 569.5 702.7 570.3 702.7 570.3 703.7 579 703.7 579.6 703.7 579.6 704.8 580.8 704.8 580.8 705.8 582.8 705.8 582.8 706.5 585.1 706.5 585.1 707.6 598.3 707.6 599.2 710.2 601.2 710.2 601.2 710.8 602.7 710.8 602.7 711.1 603.5 713.7 651.7 713.7" fill="none" stroke="#E7191F" stroke-width="1.3"/>
<path d="M493.8 657v2.6M492.6 658.3h2.4M494.5 660.6v2.6M493.3 661.9h2.4M502.6 671.2v2.6M501.4 672.5h2.4M504.8 674.5v2.6M503.6 675.8h2.4M507.5 676.8v2.6M506.3 678.1h2.4M508.4 676.8v2.6M507.2 678.1h2.4M509.5 676.8v2.6M508.3 678.1h2.4M511.1 678.1v2.6M509.9 679.4h2.4M515.5 681.3v2.6M514.3 682.6h2.4M516.1 681.3v2.6M514.9 682.6h2.4M517.4 682.5v2.6M516.2 683.8h2.4M521.2 685.2v2.6M520 686.5h2.4M525.1 686.1v2.6M523.9 687.4h2.4M528.4 686.4v2.6M527.2 687.7h2.4M534.3 688v2.6M533.1 689.3h2.4M536.8 688.4v2.6M535.6 689.7h2.4M540.1 689.7v2.6M538.9 691h2.4M542.4 690.2v2.6M541.2 691.5h2.4M542.6 690.2v2.6M541.4 691.5h2.4M542.6 690.2v2.6M541.4 691.5h2.4M543.2 690.2v2.6M542 691.5h2.4M550.3 692.8v2.6M549.1 694.1h2.4M556.1 695.1v2.6M554.9 696.4h2.4M560.2 696.9v2.6M559 698.2h2.4M561 696.9v2.6M559.8 698.2h2.4M561.2 696.9v2.6M560 698.2h2.4M561.2 697.5v2.6M560 698.8h2.4M565.4 700v2.6M564.2 701.3h2.4M573.2 702.4v2.6M572 703.7h2.4M576.5 702.4v2.6M575.3 703.7h2.4M578.6 702.4v2.6M577.4 703.7h2.4M581.3 704.5v2.6M580.1 705.8h2.4M588.7 706.3v2.6M587.5 707.6h2.4M589.1 706.3v2.6M587.9 707.6h2.4M589.1 706.3v2.6M587.9 707.6h2.4M589.8 706.3v2.6M588.6 707.6h2.4M590.9 706.3v2.6M589.7 707.6h2.4M592.4 706.3v2.6M591.2 707.6h2.4M593.3 706.3v2.6M592.1 707.6h2.4M602.2 709.5v2.6M601 710.8h2.4M602.4 709.5v2.6M601.2 710.8h2.4M604.8 712.4v2.6M603.6 713.7h2.4M611 712.4v2.6M609.8 713.7h2.4M611.2 712.4v2.6M610 713.7h2.4M616.2 712.4v2.6M615 713.7h2.4M616.3 712.4v2.6M615.1 713.7h2.4M619.4 712.4v2.6M618.2 713.7h2.4M621.8 712.4v2.6M620.6 713.7h2.4M622.1 712.4v2.6M620.9 713.7h2.4M623.8 712.4v2.6M622.6 713.7h2.4M623.8 712.4v2.6M622.6 713.7h2.4M624.6 712.4v2.6M623.4 713.7h2.4M627.6 712.4v2.6M626.4 713.7h2.4M631.4 712.4v2.6M630.2 713.7h2.4M635.6 712.4v2.6M634.4 713.7h2.4M636.1 712.4v2.6M634.9 713.7h2.4M638.5 712.4v2.6M637.3 713.7h2.4M638.6 712.4v2.6M637.4 713.7h2.4M639.8 712.4v2.6M638.6 713.7h2.4M644.6 712.4v2.6M643.4 713.7h2.4M651.7 712.4v2.6M650.5 713.7h2.4" stroke="#E7191F" stroke-width="0.9" fill="none"/>
<path d="M492.4 783.8V796H677.1" fill="none" stroke="#333" stroke-width="0.95"/>
<line x1="491.1" y1="786.6" x2="492.4" y2="786.6" stroke="#1a1a1a" stroke-width="0.8"/>
<line x1="491.1" y1="792.2" x2="492.4" y2="792.2" stroke="#1a1a1a" stroke-width="0.8"/>
<text x="490.1" y="788.9" font-size="6.4" text-anchor="end" fill="#2F6BBE">Low risk</text>
<text x="490.1" y="794.5" font-size="6.4" text-anchor="end" fill="#E7191F">High risk</text>
<text x="462.7" y="789.4" font-size="7.3" text-anchor="middle" fill="#000" transform="rotate(-90 462.7 789.4)">Risk</text>
<text x="501.2" y="789" font-size="6.7" text-anchor="middle" fill="#2F6BBE">280</text>
<text x="501.2" y="794.6" font-size="6.7" text-anchor="middle" fill="#E7191F">251</text>
<line x1="501.2" y1="796" x2="501.2" y2="797.3" stroke="#1a1a1a" stroke-width="0.8"/>
<text x="501.2" y="803.8" font-size="6.5" text-anchor="middle" fill="#1a1a1a">0</text>
<text x="529.3" y="789" font-size="6.7" text-anchor="middle" fill="#2F6BBE">182</text>
<text x="529.3" y="794.6" font-size="6.7" text-anchor="middle" fill="#E7191F">127</text>
<line x1="529.3" y1="796" x2="529.3" y2="797.3" stroke="#1a1a1a" stroke-width="0.8"/>
<text x="529.3" y="803.8" font-size="6.5" text-anchor="middle" fill="#1a1a1a">2</text>
<text x="557.3" y="789" font-size="6.7" text-anchor="middle" fill="#2F6BBE">115</text>
<text x="557.3" y="794.6" font-size="6.7" text-anchor="middle" fill="#E7191F">71</text>
<line x1="557.3" y1="796" x2="557.3" y2="797.3" stroke="#1a1a1a" stroke-width="0.8"/>
<text x="557.3" y="803.8" font-size="6.5" text-anchor="middle" fill="#1a1a1a">4</text>
<text x="585.4" y="789" font-size="6.7" text-anchor="middle" fill="#2F6BBE">52</text>
<text x="585.4" y="794.6" font-size="6.7" text-anchor="middle" fill="#E7191F">25</text>
<line x1="585.4" y1="796" x2="585.4" y2="797.3" stroke="#1a1a1a" stroke-width="0.8"/>
<text x="585.4" y="803.8" font-size="6.5" text-anchor="middle" fill="#1a1a1a">6</text>
<text x="613.4" y="789" font-size="6.7" text-anchor="middle" fill="#2F6BBE">22</text>
<text x="613.4" y="794.6" font-size="6.7" text-anchor="middle" fill="#E7191F">7</text>
<line x1="613.4" y1="796" x2="613.4" y2="797.3" stroke="#1a1a1a" stroke-width="0.8"/>
<text x="613.4" y="803.8" font-size="6.5" text-anchor="middle" fill="#1a1a1a">8</text>
<text x="641.5" y="789" font-size="6.7" text-anchor="middle" fill="#2F6BBE">7</text>
<text x="641.5" y="794.6" font-size="6.7" text-anchor="middle" fill="#E7191F">1</text>
<line x1="641.5" y1="796" x2="641.5" y2="797.3" stroke="#1a1a1a" stroke-width="0.8"/>
<text x="641.5" y="803.8" font-size="6.5" text-anchor="middle" fill="#1a1a1a">10</text>
<text x="669.6" y="789" font-size="6.7" text-anchor="middle" fill="#2F6BBE">0</text>
<text x="669.6" y="794.6" font-size="6.7" text-anchor="middle" fill="#E7191F">0</text>
<line x1="669.6" y1="796" x2="669.6" y2="797.3" stroke="#1a1a1a" stroke-width="0.8"/>
<text x="669.6" y="803.8" font-size="6.5" text-anchor="middle" fill="#1a1a1a">12</text>
<text x="585.7" y="812.2" font-size="7.2" text-anchor="middle" fill="#000">Time(years)</text>
</g>
</svg>
<div style="left:4.5px;top:277.60px;width:170.6px;height:9.81px;background:linear-gradient(90deg,#7e95cb 0.5px,#cabcd2 1.5px,#ddcddb 2.5px,#dfd5e1 3.5px,#f4a7aa 4.5px,#f9d2d3 5.5px,#bebbd6 6.5px,#c4acc4 7.5px,#a0b0d8 8.5px,#91a4d2 9.5px,#b7b6d4 10.5px,#d6adbd 11.5px,#9aacd6 12.5px,#e5cdd8 13.5px,#dbdeed 14.5px,#97a9d4 15.5px,#fbe1e2 16.5px,#f5b4b7 17.5px,#f6b6b9 18.5px,#8292c6 19.5px,#8197cc 20.5px,#cad3e9 21.5px,#d5abbb 22.5px,#ebe7ef 23.5px,#f8d8da 24.5px,#b6c3e2 25.5px,#d56f7f 26.5px,#f29b9e 27.5px,#9aa1cb 28.5px,#6983c2 29.5px,#b1adcd 30.5px,#f7c1c3 31.5px,#f0898d 32.5px,#f8c5c7 33.5px,#dcd8e6 34.5px,#b2c0e0 35.5px,#cbc2d7 36.5px,#dce0ef 37.5px,#abb9dc 38.5px,#f8c9cb 39.5px,#e2d3de 40.5px,#ced7eb 41.5px,#c1cce6 42.5px,#c2cde6 43.5px,#c5c9e1 44.5px,#f6bbbe 45.5px,#b9a6c3 46.5px,#ccbcd1 47.5px,#8ca0d0 48.5px,#5c71b5 49.5px,#c2b6cf 50.5px,#e4c8d3 51.5px,#e2e7f3 52.5px,#e8b6bf 53.5px,#6782c1 54.5px,#a299bf 55.5px,#eb9197 56.5px,#bec9e5 57.5px,#9fa8d0 58.5px,#a3a4ca 59.5px,#a0b1d9 60.5px,#dfe5f2 61.5px,#d9c5d5 62.5px,#a5a3c8 63.5px,#a3b3da 64.5px,#d3dbed 65.5px,#da9ba9 66.5px,#cbbdd2 67.5px,#cdc6da 68.5px,#e5dae4 69.5px,#c3c6df 70.5px,#dda8b5 71.5px,#dc9ba9 72.5px,#b4c1e0 73.5px,#c19db6 74.5px,#5a77bc 75.5px,#e2dbe7 76.5px,#f7d3d5 77.5px,#a8b8dc 78.5px,#dbb8c6 79.5px,#c7bfd7 80.5px,#d8c6d5 81.5px,#e8bac2 82.5px,#a2b3da 83.5px,#c4cee6 84.5px,#f7c4c6 85.5px,#cdbed2 86.5px,#dfb7c3 87.5px,#f2989c 88.5px,#c095ae 89.5px,#c7b6cd 90.5px,#d0b3c7 91.5px,#f8c9cc 92.5px,#dacedd 93.5px,#f39ea1 94.5px,#e5dee9 95.5px,#f9d3d5 96.5px,#aab3d6 97.5px,#b1bfdf 98.5px,#9c8eb7 99.5px,#ef7e82 100.5px,#c48ea5 101.5px,#dcb1bf 102.5px,#e5c1cc 103.5px,#e0aeba 104.5px,#b2c0e0 105.5px,#c5cfe7 106.5px,#bfc9e4 107.5px,#daa5b3 108.5px,#d0d8ec 109.5px,#db919f 110.5px,#d0aec1 111.5px,#ef8388 112.5px,#b9b7d4 113.5px,#d8dfef 114.5px,#bfa3bd 115.5px,#e2c0cb 116.5px,#f39ea1 117.5px,#f7c4c6 118.5px,#ecc1c8 119.5px,#dda3af 120.5px,#bbc7e3 121.5px,#c589a0 122.5px,#cbaabf 123.5px,#dce2f1 124.5px,#d4cddf 125.5px,#c493ab 126.5px,#e5a4ae 127.5px,#e9d0d9 128.5px,#f7cdd0 129.5px,#dec8d6 130.5px,#bcb4cf 131.5px,#d4cedf 132.5px,#ecdde5 133.5px,#f39fa3 134.5px,#f19195 135.5px,#f7c0c3 136.5px,#f6b5b8 137.5px,#a7b6db 138.5px,#bcc2de 139.5px,#f2969a 140.5px,#ebb2b9 141.5px,#d6b2c2 142.5px,#d1c2d5 143.5px,#cbbfd5 144.5px,#a2b2d9 145.5px,#dcc8d7 146.5px,#e1cbd7 147.5px,#c7b8cf 148.5px,#e8c7cf 149.5px,#eb8b91 150.5px,#f6b6b8 151.5px,#f7c1c3 152.5px,#f5aeb1 153.5px,#f6b6b8 154.5px,#eec4ca 155.5px,#bfaac4 156.5px,#f6b8bb 157.5px,#f18f93 158.5px,#f5b1b4 159.5px,#f5b3b6 160.5px,#eadfe7 161.5px,#dcdeed 162.5px,#c7afc6 163.5px,#ddc9d7 164.5px,#eacdd5 165.5px,#f9d4d5 166.5px,#f6b7b9 167.5px,#ee7d81 168.5px,#f7bec0 169.5px,#f4a8ab 170.5px)"></div>
<div style="left:4.5px;top:287.41px;width:170.6px;height:9.81px;background:linear-gradient(90deg,#c1cce6 0.5px,#e67981 1.5px,#f19498 2.5px,#ee7c81 3.5px,#f6babc 4.5px,#e5bfc9 5.5px,#d58c9c 6.5px,#f6b5b7 7.5px,#f7bfc2 8.5px,#cec2d6 9.5px,#db92a0 10.5px,#e8494f 11.5px,#f2bec3 12.5px,#eec6cc 13.5px,#f3a1a4 14.5px,#f08f93 15.5px,#e6b5bf 16.5px,#f29b9f 17.5px,#f9cdcf 18.5px,#f29b9e 19.5px,#f2979b 20.5px,#ed7277 21.5px,#c589a0 22.5px,#bbadc9 23.5px,#e6d0da 24.5px,#d8b5c4 25.5px,#e6a2ab 26.5px,#eb6267 27.5px,#e0cad7 28.5px,#f2989c 29.5px,#e3737c 30.5px,#e1dfec 31.5px,#f19397 32.5px,#e1cbd7 33.5px,#cd94a8 34.5px,#edc7cd 35.5px,#f5b4b7 36.5px,#e4a1ab 37.5px,#e29ea9 38.5px,#ee7a7f 39.5px,#f4aaad 40.5px,#f8c9cb 41.5px,#ed969c 42.5px,#efd5db 43.5px,#ea585e 44.5px,#f0888c 45.5px,#f7bdbf 46.5px,#d2bacc 47.5px,#c3cee7 48.5px,#e8838b 49.5px,#e5c8d3 50.5px,#f4c9cd 51.5px,#ef8085 52.5px,#c099b2 53.5px,#ed7b80 54.5px,#ede3ea 55.5px,#f5b2b5 56.5px,#f8c4c7 57.5px,#c7c7df 58.5px,#c45f76 59.5px,#f4abae 60.5px,#f3a3a7 61.5px,#ed7176 62.5px,#d9becd 63.5px,#f7c4c6 64.5px,#f0a8ad 65.5px,#eec7cd 66.5px,#f39da1 67.5px,#9676a1 68.5px,#f5b8bb 69.5px,#f3a0a4 70.5px,#e9d0d8 71.5px,#eda9af 72.5px,#e4c5d0 73.5px,#c6bbd3 74.5px,#dfc3d0 75.5px,#ef898e 76.5px,#f29da0 77.5px,#f6bbbd 78.5px,#ee7d81 79.5px,#f19598 80.5px,#f4a7aa 81.5px,#eedbe2 82.5px,#f3acaf 83.5px,#ddd4e2 84.5px,#c4b6ce 85.5px,#b1aece 86.5px,#aab9dd 87.5px,#d5bdce 88.5px,#b8adca 89.5px,#dccddb 90.5px,#8da1d1 91.5px,#d8b4c3 92.5px,#d6b5c5 93.5px,#f5b4b7 94.5px,#9da2cb 95.5px,#e8cad3 96.5px,#cebcd0 97.5px,#baa6c3 98.5px,#90a4d2 99.5px,#e3ccd7 100.5px,#d6c5d5 101.5px,#9b9fc8 102.5px,#d2afc1 103.5px,#7f83b9 104.5px,#c7c7de 105.5px,#b0bedf 106.5px,#95a7d3 107.5px,#f7c4c6 108.5px,#f4b9bc 109.5px,#c2cde6 110.5px,#d2bed0 111.5px,#91a5d3 112.5px,#e7848c 113.5px,#f8cccd 114.5px,#e2aab5 115.5px,#e4cfda 116.5px,#b2c0e0 117.5px,#dcd3e2 118.5px,#cea8bc 119.5px,#e5bdc7 120.5px,#95a8d4 121.5px,#768fc8 122.5px,#deb6c3 123.5px,#f7bdbf 124.5px,#e9c6ce 125.5px,#eec2c8 126.5px,#bcbeda 127.5px,#cbbfd5 128.5px,#8da1d1 129.5px,#b9c5e2 130.5px,#fad9da 131.5px,#f7c1c4 132.5px,#a97093 133.5px,#beacc6 134.5px,#d592a2 135.5px,#97a9d5 136.5px,#a0b1d9 137.5px,#ccaec3 138.5px,#a393b9 139.5px,#caacc1 140.5px,#fad4d6 141.5px,#ded7e5 142.5px,#d9b7c6 143.5px,#d0b2c5 144.5px,#dbdfee 145.5px,#bec7e2 146.5px,#f1d0d5 147.5px,#c8d2e9 148.5px,#b3c0e0 149.5px,#e4abb5 150.5px,#f5b3b6 151.5px,#e2e3ef 152.5px,#9aacd6 153.5px,#b0bedf 154.5px,#bec8e3 155.5px,#d3d0e2 156.5px,#a5abd1 157.5px,#ccbdd2 158.5px,#7a92c9 159.5px,#4e6eb8 160.5px,#afbddf 161.5px,#6d87c4 162.5px,#b8c4e2 163.5px,#9daed7 164.5px,#d4c4d6 165.5px,#798bc3 166.5px,#6b85c3 167.5px,#7c94ca 168.5px,#bfcae5 169.5px,#d8dfef 170.5px)"></div>
<div style="left:4.5px;top:297.22px;width:170.6px;height:9.81px;background:linear-gradient(90deg,#e1ceda 0.5px,#e4d2dd 1.5px,#ead5dd 2.5px,#ccd5eb 3.5px,#b3c0e0 4.5px,#a6b6db 5.5px,#becae5 6.5px,#dfc2cf 7.5px,#ded6e3 8.5px,#8da1d1 9.5px,#e3c0cb 10.5px,#95a7d4 11.5px,#afbddf 12.5px,#91a5d3 13.5px,#6580c1 14.5px,#869acd 15.5px,#fbe2e3 16.5px,#fbe1e2 17.5px,#9e93bb 18.5px,#a7b7db 19.5px,#b8c5e2 20.5px,#9bacd6 21.5px,#bbc7e3 22.5px,#d5c6d7 23.5px,#e6d9e3 24.5px,#ced7eb 25.5px,#a8b8dc 26.5px,#e6d6e0 27.5px,#d0d4e8 28.5px,#728bc6 29.5px,#ead9e1 30.5px,#d6ddee 31.5px,#bdbad5 32.5px,#f1d6db 33.5px,#dad4e3 34.5px,#abb6d9 35.5px,#7d94cb 36.5px,#c1a1ba 37.5px,#f5aeb1 38.5px,#f5b0b3 39.5px,#e4e2ed 40.5px,#c9d2e9 41.5px,#dccad8 42.5px,#bbc7e3 43.5px,#e86a71 44.5px,#cccbe1 45.5px,#f8cacc 46.5px,#cccfe4 47.5px,#a3b3da 48.5px,#bdc8e4 49.5px,#dfe5f2 50.5px,#d1d9ec 51.5px,#d2c9db 52.5px,#cfc8dc 53.5px,#c1cce6 54.5px,#e0ddea 55.5px,#abb5d8 56.5px,#bfcae5 57.5px,#a5aed4 58.5px,#d7d2e3 59.5px,#d8d1e2 60.5px,#8096cb 61.5px,#6d87c4 62.5px,#92a3d0 63.5px,#f8c4c6 64.5px,#f4abae 65.5px,#f4a6a9 66.5px,#ea9299 67.5px,#efccd2 68.5px,#b3a6c5 69.5px,#aebcde 70.5px,#e8e1ea 71.5px,#c0c6e0 72.5px,#adbcde 73.5px,#f1cdd3 74.5px,#f5b2b4 75.5px,#aca0c2 76.5px,#ec8b91 77.5px,#b6c3e1 78.5px,#7f96cb 79.5px,#5774bb 80.5px,#cdd6eb 81.5px,#ccd5ea 82.5px,#f6d6d9 83.5px,#f09ea3 84.5px,#96a9d5 85.5px,#d6ddee 86.5px,#dde3f1 87.5px,#e86d74 88.5px,#f7c0c3 89.5px,#b8bdda 90.5px,#e6adb6 91.5px,#d094a6 92.5px,#d06273 93.5px,#e5c1cb 94.5px,#e8bdc6 95.5px,#bcc7e4 96.5px,#ebb3bb 97.5px,#f0888c 98.5px,#a6b1d7 99.5px,#e8d3dc 100.5px,#ee7b80 101.5px,#e2c9d5 102.5px,#d2b2c4 103.5px,#e9d2da 104.5px,#f29699 105.5px,#e3acb6 106.5px,#b4c2e1 107.5px,#bda6c1 108.5px,#ea8b92 109.5px,#ccd5ea 110.5px,#d1d3e6 111.5px,#dfd5e2 112.5px,#d2b9cb 113.5px,#ef8589 114.5px,#f5b1b4 115.5px,#e1c0cb 116.5px,#debbc8 117.5px,#d0c8dc 118.5px,#cea4b8 119.5px,#d0d9ec 120.5px,#acbbdd 121.5px,#f6d0d3 122.5px,#bab0cd 123.5px,#e84c52 124.5px,#d0b1c3 125.5px,#f7c0c2 126.5px,#cecfe4 127.5px,#d5c7d8 128.5px,#f8c4c6 129.5px,#f4b0b3 130.5px,#bfcbe5 131.5px,#edd0d6 132.5px,#d2a4b6 133.5px,#e8b4bc 134.5px,#c094ad 135.5px,#df939e 136.5px,#eddae1 137.5px,#e3d2dd 138.5px,#f5b3b5 139.5px,#ed7479 140.5px,#8875a6 141.5px,#bfcbe5 142.5px,#e6dae4 143.5px,#e9dfe8 144.5px,#efd8de 145.5px,#e5a9b2 146.5px,#b9c5e3 147.5px,#f1c4c9 148.5px,#cd91a4 149.5px,#c1bad4 150.5px,#f5b3b5 151.5px,#c4a5bd 152.5px,#f29a9e 153.5px,#fad7d9 154.5px,#f7c2c5 155.5px,#f7c0c2 156.5px,#ecacb3 157.5px,#bdc8e4 158.5px,#e77981 159.5px,#ee777c 160.5px,#c49bb2 161.5px,#ca9bb1 162.5px,#becae5 163.5px,#dab3c1 164.5px,#e7ccd6 165.5px,#ec6d72 166.5px,#f19195 167.5px,#f3a2a5 168.5px,#f7c5c7 169.5px,#e6eaf5 170.5px)"></div>
<div style="left:4.5px;top:307.03px;width:170.6px;height:9.81px;background:linear-gradient(90deg,#bac6e3 0.5px,#a8b8dc 1.5px,#c0cbe6 2.5px,#a9afd3 3.5px,#f6b9bc 4.5px,#c6c8e0 5.5px,#627dbf 6.5px,#7478b2 7.5px,#ddd0de 8.5px,#899ecf 9.5px,#b2b9d9 10.5px,#ebd7de 11.5px,#a68fb3 12.5px,#f29ca0 13.5px,#9fafd7 14.5px,#e5e9f4 15.5px,#f1dde2 16.5px,#9fb0d8 17.5px,#c0cbe5 18.5px,#c8d1e9 19.5px,#e4d6e1 20.5px,#d4d9eb 21.5px,#d67887 22.5px,#b7c3e1 23.5px,#e8dce5 24.5px,#fad4d5 25.5px,#939bc8 26.5px,#d1b8ca 27.5px,#e3e1ec 28.5px,#9daed7 29.5px,#7d94ca 30.5px,#c9d0e7 31.5px,#f8cbcd 32.5px,#8791c3 33.5px,#cfd7ec 34.5px,#b8c5e2 35.5px,#9bacd6 36.5px,#8ca0d1 37.5px,#b290af 38.5px,#e5c8d2 39.5px,#a9a2c6 40.5px,#a180a6 41.5px,#6971b0 42.5px,#c2b5ce 43.5px,#ddaab7 44.5px,#b6c3e1 45.5px,#d4d1e3 46.5px,#babbd8 47.5px,#f9d0d1 48.5px,#d5d2e3 49.5px,#e29da8 50.5px,#dbd1e0 51.5px,#ddbbc8 52.5px,#daafbe 53.5px,#9daad3 54.5px,#f3a1a5 55.5px,#f3a2a5 56.5px,#bd95af 57.5px,#8c93c3 58.5px,#f6babd 59.5px,#e9dbe4 60.5px,#c0bbd5 61.5px,#aab9dd 62.5px,#efdce2 63.5px,#e5d5df 64.5px,#f1ccd1 65.5px,#f7c4c6 66.5px,#ccb5ca 67.5px,#b096b7 68.5px,#e7c0ca 69.5px,#eb6167 70.5px,#d9a6b5 71.5px,#8399cd 72.5px,#c8d1e9 73.5px,#cdd6eb 74.5px,#aab9dd 75.5px,#e3e8f4 76.5px,#edb7be 77.5px,#f9d0d2 78.5px,#cccbe0 79.5px,#9fb0d8 80.5px,#a1b2d9 81.5px,#b5c2e1 82.5px,#f2dadf 83.5px,#ebaeb5 84.5px,#ccc8dd 85.5px,#e4e0eb 86.5px,#ebb7be 87.5px,#be9ab4 88.5px,#ec6d72 89.5px,#f0b7bc 90.5px,#f1d2d7 91.5px,#e7bdc6 92.5px,#c5aac2 93.5px,#d8cddd 94.5px,#9289b6 95.5px,#ebb0b7 96.5px,#f3b2b6 97.5px,#b7afcd 98.5px,#f4c6c9 99.5px,#c7bcd3 100.5px,#bbc7e3 101.5px,#dcabb8 102.5px,#b7c4e2 103.5px,#f1d4d9 104.5px,#e5d6e0 105.5px,#ea6f75 106.5px,#c29bb3 107.5px,#ee7b7f 108.5px,#f4a9ac 109.5px,#cea8bb 110.5px,#b7b7d5 111.5px,#e0c6d3 112.5px,#e16b75 113.5px,#ebb2b9 114.5px,#cd99ac 115.5px,#e3545c 116.5px,#c3b3cc 117.5px,#f6babc 118.5px,#a47398 119.5px,#dacad9 120.5px,#eac8d1 121.5px,#c0cbe5 122.5px,#dabbca 123.5px,#d4cfe0 124.5px,#dcc8d5 125.5px,#e0cdd9 126.5px,#f4a7aa 127.5px,#f4abae 128.5px,#cfcde1 129.5px,#eae5ee 130.5px,#e2abb6 131.5px,#e5949e 132.5px,#f8c5c7 133.5px,#e3c6d2 134.5px,#dfb2bf 135.5px,#ec888e 136.5px,#f4abae 137.5px,#e4bbc5 138.5px,#db94a1 139.5px,#c0b9d3 140.5px,#f4a9ac 141.5px,#e0b5c1 142.5px,#e0e1ed 143.5px,#d2d2e4 144.5px,#d9dfef 145.5px,#e4bfc9 146.5px,#e6dce7 147.5px,#ced1e5 148.5px,#e0ceda 149.5px,#aab9dd 150.5px,#dac3d2 151.5px,#b0aece 152.5px,#f4adb0 153.5px,#e4e1ec 154.5px,#bac0dd 155.5px,#cbd4ea 156.5px,#eecad0 157.5px,#cdd6eb 158.5px,#ced7eb 159.5px,#d57f8f 160.5px,#e0b3bf 161.5px,#b69ab8 162.5px,#d6a3b3 163.5px,#f4acaf 164.5px,#eb656a 165.5px,#db7f8c 166.5px,#d4b7c8 167.5px,#f5b1b4 168.5px,#f6b5b8 169.5px,#f7c4c6 170.5px)"></div>
<div style="left:4.5px;top:316.83px;width:170.6px;height:9.81px;background:linear-gradient(90deg,#c3cee7 0.5px,#dca7b5 1.5px,#f8c9cb 2.5px,#d9cada 3.5px,#e3d3de 4.5px,#e8dde7 5.5px,#ebd8e0 6.5px,#e0b1bd 7.5px,#e7d6e0 8.5px,#e39da7 9.5px,#adabcd 10.5px,#f3a5a8 11.5px,#c7cce3 12.5px,#dbb3c1 13.5px,#b1badb 14.5px,#d3a4b5 15.5px,#f5b4b6 16.5px,#e7cfd9 17.5px,#debfcc 18.5px,#f1dbe1 19.5px,#f7bec1 20.5px,#f08b8f 21.5px,#d8bdcc 22.5px,#e8cad3 23.5px,#ef7f83 24.5px,#f7bfc1 25.5px,#f5b3b5 26.5px,#ec6d72 27.5px,#e1d7e3 28.5px,#e7c9d2 29.5px,#ebdce3 30.5px,#e0d1de 31.5px,#f4a9ac 32.5px,#ed7176 33.5px,#f19296 34.5px,#ddc3d1 35.5px,#e7c0c9 36.5px,#c8c8df 37.5px,#cbc6db 38.5px,#eb5f64 39.5px,#ed8186 40.5px,#f0e2e8 41.5px,#f4ccd0 42.5px,#f1dbe0 43.5px,#ecc0c7 44.5px,#ebd6de 45.5px,#f19599 46.5px,#b1b0d0 47.5px,#cbd5ea 48.5px,#e3dfeb 49.5px,#decad7 50.5px,#eb9097 51.5px,#f7c2c4 52.5px,#b0bbdd 53.5px,#cfa6b9 54.5px,#f19599 55.5px,#f8c4c6 56.5px,#e1ccd8 57.5px,#b4b8d7 58.5px,#f6bbbe 59.5px,#f4aaad 60.5px,#f19296 61.5px,#f29ca0 62.5px,#f3bbbf 63.5px,#b0bedf 64.5px,#e1adb8 65.5px,#f19599 66.5px,#ec6b71 67.5px,#ab9bbd 68.5px,#e2a0aa 69.5px,#ecd2d9 70.5px,#fad8da 71.5px,#ed7378 72.5px,#cf9caf 73.5px,#e7b9c2 74.5px,#e79ca5 75.5px,#ef8388 76.5px,#f29a9e 77.5px,#ee7e82 78.5px,#ef8185 79.5px,#f5b3b5 80.5px,#f6b7b9 81.5px,#f6b8ba 82.5px,#b4aecd 83.5px,#f09296 84.5px,#bdc9e4 85.5px,#6a82c0 86.5px,#ede3eb 87.5px,#f1c0c5 88.5px,#c4a4bc 89.5px,#bcbfdb 90.5px,#cdcadf 91.5px,#c5b8cf 92.5px,#a1b2d9 93.5px,#7d94ca 94.5px,#b4c2e1 95.5px,#97a9d5 96.5px,#8da1d1 97.5px,#aba8ca 98.5px,#dbe0ef 99.5px,#c0c8e2 100.5px,#ebc3cb 101.5px,#a4b4da 102.5px,#ecd2da 103.5px,#cacbe1 104.5px,#d8dfef 105.5px,#f3dee3 106.5px,#c6cfe7 107.5px,#e3d5e1 108.5px,#bfc4de 109.5px,#d8bccc 110.5px,#acb7d9 111.5px,#bfc1db 112.5px,#e2c2cd 113.5px,#e8ccd5 114.5px,#b2bfdf 115.5px,#5170b9 116.5px,#baaeca 117.5px,#c5bdd5 118.5px,#f8cacc 119.5px,#8191c5 120.5px,#b6c3e1 121.5px,#f2a9ad 122.5px,#b9a9c6 123.5px,#eee1e8 124.5px,#a4add3 125.5px,#f5aeb1 126.5px,#ada8ca 127.5px,#c3c2db 128.5px,#f1c3c7 129.5px,#c8bfd6 130.5px,#cfb8cb 131.5px,#cebccf 132.5px,#ad9fc1 133.5px,#7d8bc1 134.5px,#e5d2dd 135.5px,#a6b6db 136.5px,#b1bfe0 137.5px,#889dcf 138.5px,#e3d9e4 139.5px,#8b9fd0 140.5px,#627dbf 141.5px,#6984c2 142.5px,#c9c0d6 143.5px,#94a7d4 144.5px,#9eafd8 145.5px,#d0b2c5 146.5px,#8298cd 147.5px,#cab9cf 148.5px,#bfabc5 149.5px,#dad6e6 150.5px,#afbddf 151.5px,#778fc8 152.5px,#c7b8cf 153.5px,#a1b2d9 154.5px,#9daed7 155.5px,#aebcde 156.5px,#b1bfdf 157.5px,#d9c6d5 158.5px,#a2aed5 159.5px,#b3c0e0 160.5px,#94a7d4 161.5px,#b0bedf 162.5px,#8298cc 163.5px,#9fb0d8 164.5px,#bfcae5 165.5px,#c5cfe8 166.5px,#d0c1d4 167.5px,#cacae0 168.5px,#b8bcda 169.5px,#fce4e5 170.5px)"></div>
<div style="left:4.5px;top:326.64px;width:170.6px;height:9.81px;background:linear-gradient(90deg,#f7c2c5 0.5px,#f9d1d3 1.5px,#d6b0c0 2.5px,#d8abbb 3.5px,#cbabc0 4.5px,#e1ddea 5.5px,#e8d9e2 6.5px,#ea595f 7.5px,#f29da0 8.5px,#ed7479 9.5px,#eb656b 10.5px,#f2999d 11.5px,#e0b6c3 12.5px,#ed6f74 13.5px,#ea5d62 14.5px,#f29ca0 15.5px,#d3a1b2 16.5px,#d0d8ec 17.5px,#dcabb9 18.5px,#f08c90 19.5px,#f3a1a4 20.5px,#e84950 21.5px,#f5b4b7 22.5px,#e63d44 23.5px,#e46a73 24.5px,#b1bfdf 25.5px,#efadb2 26.5px,#d3c5d6 27.5px,#efbcc2 28.5px,#f7bdbf 29.5px,#f0868a 30.5px,#e4b1bb 31.5px,#e69ca5 32.5px,#e98d94 33.5px,#f29699 34.5px,#f6b6b8 35.5px,#f6bbbd 36.5px,#ef8589 37.5px,#f08b8f 38.5px,#e5b1bb 39.5px,#b8bdda 40.5px,#ed7075 41.5px,#eeb0b6 42.5px,#99abd6 43.5px,#dca7b4 44.5px,#dee4f2 45.5px,#f3a5a8 46.5px,#ea5b60 47.5px,#ee7c81 48.5px,#edbbc1 49.5px,#ded0dd 50.5px,#d48f9f 51.5px,#c6b3ca 52.5px,#ec6c71 53.5px,#f7bec0 54.5px,#f7c1c3 55.5px,#f7c1c3 56.5px,#ee787c 57.5px,#f3c8cc 58.5px,#eaaab2 59.5px,#ebb9c0 60.5px,#a4b0d7 61.5px,#e84950 62.5px,#f4a7aa 63.5px,#f4acaf 64.5px,#f2989b 65.5px,#ee7e82 66.5px,#f7bfc1 67.5px,#f5b3b6 68.5px,#f4a9ac 69.5px,#ead5de 70.5px,#eb6369 71.5px,#ee7b7f 72.5px,#ee797e 73.5px,#f8c6c8 74.5px,#dbc3d2 75.5px,#ccd5ea 76.5px,#e1adb9 77.5px,#c5bad1 78.5px,#f7bec1 79.5px,#f3a0a3 80.5px,#f2969a 81.5px,#f19296 82.5px,#d17a8b 83.5px,#d3aabc 84.5px,#e3d8e3 85.5px,#deb0bd 86.5px,#acbbdd 87.5px,#c9a2b8 88.5px,#ab8caf 89.5px,#b299b8 90.5px,#bf9fb9 91.5px,#f3dee2 92.5px,#e2e5f1 93.5px,#eadae3 94.5px,#efbec4 95.5px,#aba6c9 96.5px,#655d9d 97.5px,#836092 98.5px,#c5cfe7 99.5px,#aab9dc 100.5px,#bb92ad 101.5px,#e6a6af 102.5px,#c1b7d1 103.5px,#e7cbd4 104.5px,#e2b2be 105.5px,#9487b4 106.5px,#ef8388 107.5px,#f29a9d 108.5px,#848dc1 109.5px,#9fb0d8 110.5px,#cbd4ea 111.5px,#d9d1e1 112.5px,#94a4d1 113.5px,#99abd6 114.5px,#99abd6 115.5px,#bd809a 116.5px,#8ca0d0 117.5px,#c8d1e9 118.5px,#c6b7cf 119.5px,#f8cacc 120.5px,#bcb3ce 121.5px,#98aad5 122.5px,#a9b8dc 123.5px,#ccd5ea 124.5px,#c4cee7 125.5px,#cdb9cd 126.5px,#f6bcbe 127.5px,#fadadc 128.5px,#ecd2da 129.5px,#beaac4 130.5px,#91a5d3 131.5px,#c3cde7 132.5px,#b6c3e1 133.5px,#c0cbe6 134.5px,#bac6e3 135.5px,#99abd6 136.5px,#e7dde7 137.5px,#a7b6db 138.5px,#afbddf 139.5px,#cbcbe0 140.5px,#c2c8e2 141.5px,#e2ccd8 142.5px,#d8d8e8 143.5px,#c2cce6 144.5px,#babdda 145.5px,#9ea6cf 146.5px,#96a9d5 147.5px,#d2cadc 148.5px,#b27c9b 149.5px,#dacedd 150.5px,#dca2af 151.5px,#596eb4 152.5px,#c7d1e8 153.5px,#ced6eb 154.5px,#7a92c9 155.5px,#a1b1d9 156.5px,#da98a6 157.5px,#d8dfef 158.5px,#c2bbd4 159.5px,#d5c3d4 160.5px,#b3c0e0 161.5px,#d4c4d6 162.5px,#bdb8d3 163.5px,#849acd 164.5px,#b4c2e1 165.5px,#869cce 166.5px,#cad4ea 167.5px,#a1b1d9 168.5px,#aebcde 169.5px,#98aad5 170.5px)"></div>
<div style="left:4.5px;top:336.45px;width:170.6px;height:9.81px;background:linear-gradient(90deg,#f6b5b7 0.5px,#eb6368 1.5px,#ee767b 2.5px,#f6babc 3.5px,#f3a4a8 4.5px,#f19397 5.5px,#f6b8ba 6.5px,#ebb3ba 7.5px,#edc1c8 8.5px,#f19094 9.5px,#f3a0a4 10.5px,#e2d8e4 11.5px,#d7deef 12.5px,#c5cfe7 13.5px,#e9e5ee 14.5px,#f5b1b4 15.5px,#f8ccce 16.5px,#f3bdc1 17.5px,#ced6eb 18.5px,#dae1f0 19.5px,#dc8e9b 20.5px,#ed7479 21.5px,#f5afb2 22.5px,#e9565c 23.5px,#ec6d72 24.5px,#ee7a7f 25.5px,#c9b8ce 26.5px,#b8c4e2 27.5px,#e9b5bd 28.5px,#ecdde4 29.5px,#f7c0c3 30.5px,#dbcedd 31.5px,#f5adb0 32.5px,#f29699 33.5px,#f8c6c8 34.5px,#ec686d 35.5px,#da9dab 36.5px,#ece8f0 37.5px,#f5b2b5 38.5px,#f8cacc 39.5px,#ee7c80 40.5px,#e6bec7 41.5px,#f2c8cc 42.5px,#f08d91 43.5px,#b5a8c6 44.5px,#f6bcbe 45.5px,#f08d91 46.5px,#f39da1 47.5px,#cb9bb0 48.5px,#d6deef 49.5px,#edd2da 50.5px,#ccbcd1 51.5px,#f8cbcd 52.5px,#ccacc1 53.5px,#cda8bc 54.5px,#d6b8c8 55.5px,#e7cdd6 56.5px,#ed7378 57.5px,#e2c4cf 58.5px,#dfd0dd 59.5px,#dbb0be 60.5px,#c8d1e8 61.5px,#f8cccd 62.5px,#ebe4ec 63.5px,#dde3f1 64.5px,#eeacb2 65.5px,#ccc3d8 66.5px,#eeb2b7 67.5px,#f08c90 68.5px,#ef8387 69.5px,#f19194 70.5px,#f5b1b4 71.5px,#ebd7df 72.5px,#fadbdc 73.5px,#acb2d5 74.5px,#c3c4dd 75.5px,#c3a7c0 76.5px,#c4aec6 77.5px,#a6b6db 78.5px,#eed9e0 79.5px,#d9c0cf 80.5px,#efc7cc 81.5px,#f6b9bc 82.5px,#f7bdc0 83.5px,#f3a0a3 84.5px,#f4a7aa 85.5px,#cec7db 86.5px,#7b92ca 87.5px,#718ac5 88.5px,#c3b6cf 89.5px,#a6b1d7 90.5px,#a2b2d9 91.5px,#8da1d1 92.5px,#8093c8 93.5px,#f7bdc0 94.5px,#ccc6da 95.5px,#e9d9e2 96.5px,#bec5e0 97.5px,#9badd6 98.5px,#5e7abe 99.5px,#d4bbcc 100.5px,#9daed7 101.5px,#c8cae1 102.5px,#c1aec7 103.5px,#e8c5cd 104.5px,#c9a0b6 105.5px,#bcc7e4 106.5px,#7890c9 107.5px,#a2a1c8 108.5px,#e6dfe9 109.5px,#d2a8b9 110.5px,#c2b9d2 111.5px,#e7d7e1 112.5px,#a1aed5 113.5px,#9badd7 114.5px,#9eafd8 115.5px,#d1d9ed 116.5px,#768fc8 117.5px,#869bce 118.5px,#8ea2d1 119.5px,#dacedd 120.5px,#f4acaf 121.5px,#95a5d1 122.5px,#b4c1e0 123.5px,#e0beca 124.5px,#f6cccf 125.5px,#cad4ea 126.5px,#a6b6db 127.5px,#ded3e0 128.5px,#f5b4b6 129.5px,#d6d3e4 130.5px,#dbd2e1 131.5px,#f3a0a3 132.5px,#c38ea5 133.5px,#8f9ac8 134.5px,#f8c9cb 135.5px,#f5b2b5 136.5px,#d3b6c7 137.5px,#d1bccf 138.5px,#d2acbe 139.5px,#c5cfe7 140.5px,#a2a6cd 141.5px,#f6b7b9 142.5px,#dac5d4 143.5px,#8ba0d0 144.5px,#e1c2cd 145.5px,#cdd6eb 146.5px,#c7d1e8 147.5px,#ceb7cb 148.5px,#9682ad 149.5px,#efb6bb 150.5px,#ede4eb 151.5px,#c8b8ce 152.5px,#b0a1c1 153.5px,#95a8d4 154.5px,#9fb0d8 155.5px,#c3b1c9 156.5px,#7381bb 157.5px,#95a8d4 158.5px,#acbbdd 159.5px,#bac6e3 160.5px,#5f7bbe 161.5px,#bbc3df 162.5px,#d6b8c9 163.5px,#607cbf 164.5px,#5a77bc 165.5px,#cbd4ea 166.5px,#6e87c4 167.5px,#8ca0d0 168.5px,#8298cc 169.5px,#aab9dd 170.5px)"></div>
<div style="left:4.5px;top:346.26px;width:170.6px;height:9.81px;background:linear-gradient(90deg,#f9ced0 0.5px,#f4d6da 1.5px,#bbc7e3 2.5px,#eaa6ad 3.5px,#f3a0a4 4.5px,#f4adb0 5.5px,#d4bccd 6.5px,#d5bfd0 7.5px,#f2a8ac 8.5px,#b5c2e1 9.5px,#c9d3e9 10.5px,#e9c9d2 11.5px,#eedfe5 12.5px,#f5adb0 13.5px,#efbec3 14.5px,#eca8ae 15.5px,#f18e92 16.5px,#dfbac7 17.5px,#efd7dd 18.5px,#bfcae5 19.5px,#dec7d4 20.5px,#efbbc1 21.5px,#f2e1e6 22.5px,#f39da1 23.5px,#eadde5 24.5px,#e9b7bf 25.5px,#edc0c7 26.5px,#eddbe1 27.5px,#f3e2e7 28.5px,#ecd4db 29.5px,#ed767b 30.5px,#f7c2c4 31.5px,#c389a0 32.5px,#d8c2d1 33.5px,#bdc8e4 34.5px,#d9daea 35.5px,#d2cfe2 36.5px,#d5c1d2 37.5px,#d3afc0 38.5px,#f08d91 39.5px,#ef9b9f 40.5px,#d9e0f0 41.5px,#f1c2c7 42.5px,#c4b5cd 43.5px,#a6a1c6 44.5px,#f6b9bb 45.5px,#c2a4bc 46.5px,#f3b8bc 47.5px,#dfe5f2 48.5px,#f0ccd1 49.5px,#e7ecf5 50.5px,#e1b3be 51.5px,#dcc7d5 52.5px,#f6b9bc 53.5px,#f5b3b5 54.5px,#f3a2a5 55.5px,#eb99a0 56.5px,#d3dbed 57.5px,#f5c9cd 58.5px,#ee7a7f 59.5px,#f6b8ba 60.5px,#f8ccce 61.5px,#f4aaad 62.5px,#f7bdc0 63.5px,#dbc6d5 64.5px,#e8a0a8 65.5px,#f8cacc 66.5px,#cdbfd4 67.5px,#d9c5d5 68.5px,#c0a8c2 69.5px,#f8cccd 70.5px,#f7c1c3 71.5px,#e5969f 72.5px,#93a6d3 73.5px,#ddabb8 74.5px,#ebd9e1 75.5px,#f3a1a5 76.5px,#ccb2c6 77.5px,#a1b1d9 78.5px,#d5c4d5 79.5px,#f1e9ee 80.5px,#de8f9b 81.5px,#8da1d1 82.5px,#bbb6d2 83.5px,#aaa6c9 84.5px,#c1c0da 85.5px,#adb3d5 86.5px,#9caed7 87.5px,#d7c6d6 88.5px,#d3c1d3 89.5px,#c3cae2 90.5px,#b8c5e2 91.5px,#b2a1c0 92.5px,#b86f8b 93.5px,#c8c5dc 94.5px,#a2b3da 95.5px,#d6ddee 96.5px,#c0b9d3 97.5px,#ddc5d3 98.5px,#b9c5e3 99.5px,#e7c5ce 100.5px,#8b9fd0 101.5px,#e2b4c0 102.5px,#ede2ea 103.5px,#ec898f 104.5px,#b696b3 105.5px,#a3a9d0 106.5px,#f7c4c7 107.5px,#dcd6e4 108.5px,#c9c4da 109.5px,#c5b1c9 110.5px,#e7d5df 111.5px,#e1d2de 112.5px,#dbe1f0 113.5px,#edc9d0 114.5px,#c5b2ca 115.5px,#a195bb 116.5px,#f6bcbf 117.5px,#f7c0c2 118.5px,#f7c0c3 119.5px,#f5afb1 120.5px,#e9dae3 121.5px,#f3abaf 122.5px,#9b8fb8 123.5px,#b8b8d6 124.5px,#c0cbe5 125.5px,#dce2f1 126.5px,#efaeb3 127.5px,#f5b4b7 128.5px,#786fa7 129.5px,#c7afc6 130.5px,#778fc8 131.5px,#d4dbed 132.5px,#d9b2c1 133.5px,#cac1d7 134.5px,#ceb3c7 135.5px,#bcafca 136.5px,#bdafca 137.5px,#f3a8ac 138.5px,#eea0a6 139.5px,#95a8d4 140.5px,#a4b4da 141.5px,#b591af 142.5px,#cc9cb0 143.5px,#91a5d3 144.5px,#f6c9cc 145.5px,#b3abcb 146.5px,#bfcae5 147.5px,#bdc2dd 148.5px,#a99cc0 149.5px,#cbc9de 150.5px,#a79fc3 151.5px,#b3a5c4 152.5px,#e0c3cf 153.5px,#f8c4c6 154.5px,#f5b1b3 155.5px,#e9cbd4 156.5px,#c0c3dd 157.5px,#c3b9d2 158.5px,#abb9dd 159.5px,#bac6e3 160.5px,#9fb0d8 161.5px,#e1c9d5 162.5px,#5674bb 163.5px,#98aad5 164.5px,#dde3f1 165.5px,#dbe1f0 166.5px,#de9eab 167.5px,#edd4db 168.5px,#ecdce3 169.5px,#dfe4f2 170.5px)"></div>
<div style="left:4.5px;top:356.07px;width:170.6px;height:9.81px;background:linear-gradient(90deg,#d1d9ec 0.5px,#c4cfe7 1.5px,#d2b7ca 2.5px,#8b91c1 3.5px,#a9b8dc 4.5px,#d5c6d7 5.5px,#becae5 6.5px,#ede3eb 7.5px,#f6ccce 8.5px,#c4cfe7 9.5px,#bbc7e4 10.5px,#b1a0c0 11.5px,#adb2d5 12.5px,#bbc7e4 13.5px,#d894a3 14.5px,#bec7e2 15.5px,#f7c0c2 16.5px,#c6c5dc 17.5px,#dfc6d3 18.5px,#efc5cb 19.5px,#c9afc5 20.5px,#99abd6 21.5px,#decedb 22.5px,#f29a9e 23.5px,#f4cfd3 24.5px,#c8d2e9 25.5px,#cfd7ec 26.5px,#91a4d2 27.5px,#c0cbe6 28.5px,#ebc8cf 29.5px,#e9d9e2 30.5px,#f9ced0 31.5px,#e1d1dd 32.5px,#ccd5eb 33.5px,#cfd7eb 34.5px,#e0d6e3 35.5px,#d4bbcd 36.5px,#c0c8e2 37.5px,#cea5b8 38.5px,#f3a2a6 39.5px,#bcb4d0 40.5px,#b5c2e1 41.5px,#c1c2dc 42.5px,#cfc1d5 43.5px,#cfd0e3 44.5px,#e0dbe8 45.5px,#bcc0dc 46.5px,#d2d2e5 47.5px,#f3e8ec 48.5px,#d9e0f0 49.5px,#a9b8dc 50.5px,#d7d0e1 51.5px,#c89bb1 52.5px,#e4e5f1 53.5px,#b3c1e0 54.5px,#bbc7e3 55.5px,#859ace 56.5px,#c2a7bf 57.5px,#b3b5d5 58.5px,#ecced5 59.5px,#d2d0e3 60.5px,#dad9e9 61.5px,#d3c3d5 62.5px,#c4bed7 63.5px,#718ac6 64.5px,#c8c9e0 65.5px,#ccc1d6 66.5px,#c69fb6 67.5px,#93a6d3 68.5px,#ccd5ea 69.5px,#b6bfde 70.5px,#c7b7ce 71.5px,#a8b7dc 72.5px,#94a7d4 73.5px,#c8d2e9 74.5px,#e3e8f4 75.5px,#debac7 76.5px,#e0c5d2 77.5px,#d0d8ec 78.5px,#a6aed3 79.5px,#af9ebf 80.5px,#ddc6d4 81.5px,#eac9d1 82.5px,#98a6d1 83.5px,#bdc8e4 84.5px,#f9cdce 85.5px,#f7d8db 86.5px,#dae0f0 87.5px,#e2cad5 88.5px,#c6d0e8 89.5px,#f5c1c4 90.5px,#debac7 91.5px,#c3a4bc 92.5px,#f6b8bb 93.5px,#dcb7c5 94.5px,#9eafd8 95.5px,#e6d2dc 96.5px,#f6babc 97.5px,#d1bccf 98.5px,#d0cbde 99.5px,#96a9d5 100.5px,#d0d9ec 101.5px,#efb4ba 102.5px,#f5b0b2 103.5px,#a4a1c6 104.5px,#c3c2db 105.5px,#e3bec9 106.5px,#eadbe3 107.5px,#f1cfd4 108.5px,#b5c2e1 109.5px,#aab9dd 110.5px,#b1bfdf 111.5px,#dec8d5 112.5px,#9375a1 113.5px,#e0a8b4 114.5px,#e6dde7 115.5px,#c7d1e8 116.5px,#c3cde7 117.5px,#e1b0bb 118.5px,#e0e5f2 119.5px,#d3adbe 120.5px,#d18c9e 121.5px,#f4b7ba 122.5px,#c0aec8 123.5px,#b1bfdf 124.5px,#e5c6d0 125.5px,#f5b2b5 126.5px,#cdc3d8 127.5px,#e4dce7 128.5px,#c0aac3 129.5px,#b16786 130.5px,#d7c2d2 131.5px,#ccbdd2 132.5px,#e4d2dd 133.5px,#d3c6d8 134.5px,#ed7579 135.5px,#c0bed8 136.5px,#b0bedf 137.5px,#f0969a 138.5px,#efb0b5 139.5px,#cac4d9 140.5px,#dddcea 141.5px,#e6dce6 142.5px,#f5aeb1 143.5px,#f5b0b3 144.5px,#f4a6aa 145.5px,#fadadb 146.5px,#f7c2c4 147.5px,#f7c2c4 148.5px,#ee7e82 149.5px,#f7bec0 150.5px,#f6babc 151.5px,#f4a6a9 152.5px,#e2d9e5 153.5px,#b685a3 154.5px,#f2999d 155.5px,#f3a0a3 156.5px,#e76a72 157.5px,#e49099 158.5px,#ea5b60 159.5px,#f39ea1 160.5px,#f39fa3 161.5px,#f18f93 162.5px,#f0878b 163.5px,#ef8185 164.5px,#e5d3dd 165.5px,#efa6ab 166.5px,#f8c4c6 167.5px,#f3dbdf 168.5px,#edbac1 169.5px,#d2daed 170.5px)"></div>
<div style="left:4.5px;top:365.88px;width:170.6px;height:9.81px;background:linear-gradient(90deg,#e1ceda 0.5px,#cccbe1 1.5px,#e2a8b3 2.5px,#959fcb 3.5px,#dbc8d6 4.5px,#7890c9 5.5px,#9fb0d8 6.5px,#c6b8cf 7.5px,#b7adcb 8.5px,#e4e9f4 9.5px,#abbadd 10.5px,#d0d8ec 11.5px,#c0cbe5 12.5px,#e4cdd8 13.5px,#e9c8d1 14.5px,#d0b3c6 15.5px,#bfbed8 16.5px,#8c8dbd 17.5px,#ef8186 18.5px,#f3a4a8 19.5px,#ddd5e3 20.5px,#ddcddb 21.5px,#dbd3e2 22.5px,#e7dee8 23.5px,#b4b6d5 24.5px,#e0dae7 25.5px,#a2b2d9 26.5px,#c1cce6 27.5px,#bac6e3 28.5px,#7b92c9 29.5px,#f0999e 30.5px,#f5cacd 31.5px,#b6c3e2 32.5px,#daa0ae 33.5px,#e2d2de 34.5px,#919ecc 35.5px,#d1a6b8 36.5px,#f0d3d8 37.5px,#95a7d4 38.5px,#fbe3e4 39.5px,#eabec6 40.5px,#8399cd 41.5px,#c6d0e8 42.5px,#c5cfe7 43.5px,#a6b6db 44.5px,#b7c4e2 45.5px,#98aad5 46.5px,#e0d2df 47.5px,#aab9dd 48.5px,#d38e9f 49.5px,#99abd6 50.5px,#dccfde 51.5px,#f7c1c3 52.5px,#f6b7ba 53.5px,#bfbcd6 54.5px,#bbc7e4 55.5px,#dedbe9 56.5px,#d7bdcd 57.5px,#e4dee9 58.5px,#a7a2c6 59.5px,#dae0f0 60.5px,#c4cee7 61.5px,#899ecf 62.5px,#718ac6 63.5px,#bbc7e4 64.5px,#d6b7c7 65.5px,#9aacd6 66.5px,#e4c6d1 67.5px,#e9ccd5 68.5px,#9fb0d8 69.5px,#d9afbe 70.5px,#c8b8cf 71.5px,#a6a0c5 72.5px,#e7abb4 73.5px,#e78c94 74.5px,#dae0f0 75.5px,#f7c7ca 76.5px,#e0cad7 77.5px,#c9d3e9 78.5px,#cbd1e6 79.5px,#f7bdbf 80.5px,#eac8d0 81.5px,#c0cbe5 82.5px,#bac6e3 83.5px,#9eaed7 84.5px,#f8c5c7 85.5px,#ebdde6 86.5px,#fad6d8 87.5px,#f8cbcc 88.5px,#f4acaf 89.5px,#d39aab 90.5px,#cab1c6 91.5px,#e17883 92.5px,#ecc7cf 93.5px,#c2cde6 94.5px,#de8f9b 95.5px,#b197b7 96.5px,#e9cdd5 97.5px,#f4acaf 98.5px,#bfaec8 99.5px,#f3bdc1 100.5px,#c8c8df 101.5px,#f5b3b6 102.5px,#f6b7ba 103.5px,#f2999d 104.5px,#f7c4c6 105.5px,#e4adb6 106.5px,#e5cdd7 107.5px,#acbbde 108.5px,#c5d0e8 109.5px,#e2d7e3 110.5px,#f7bec0 111.5px,#e5d9e4 112.5px,#e5c8d2 113.5px,#e5d2dc 114.5px,#f3a2a6 115.5px,#9da5ce 116.5px,#a089b0 117.5px,#f4aaad 118.5px,#f5aeb1 119.5px,#f5aeb1 120.5px,#d9c2d1 121.5px,#eb767c 122.5px,#eb656a 123.5px,#f7bfc1 124.5px,#f2999d 125.5px,#f6bbbe 126.5px,#debac7 127.5px,#ed7479 128.5px,#ef7e83 129.5px,#cfbdd0 130.5px,#f6babc 131.5px,#f9d0d1 132.5px,#f18f93 133.5px,#f19599 134.5px,#f29699 135.5px,#e6d1db 136.5px,#f9cdcf 137.5px,#e6aab3 138.5px,#c6cde5 139.5px,#f8c7c9 140.5px,#e9e1ea 141.5px,#f0d8de 142.5px,#f9d4d5 143.5px,#f5b3b6 144.5px,#f5b0b3 145.5px,#f2a1a5 146.5px,#e5d9e4 147.5px,#f29ca0 148.5px,#ef8388 149.5px,#f5b2b5 150.5px,#e2d5e0 151.5px,#afbdde 152.5px,#e1808a 153.5px,#c293ab 154.5px,#e4767f 155.5px,#c1c1da 156.5px,#ee797e 157.5px,#ec6d72 158.5px,#ef858a 159.5px,#ee7b80 160.5px,#cac6dc 161.5px,#d5cee0 162.5px,#ef8084 163.5px,#dfbecb 164.5px,#d4a3b4 165.5px,#b6a3c1 166.5px,#f29b9e 167.5px,#e84d54 168.5px,#e8484f 169.5px,#f6b9bb 170.5px)"></div>
<div style="left:4.5px;top:375.68px;width:170.6px;height:9.81px;background:linear-gradient(90deg,#d8c5d5 0.5px,#e0c8d5 1.5px,#d6baca 2.5px,#d3dbed 3.5px,#e7b4bd 4.5px,#dad5e4 5.5px,#c8d2e9 6.5px,#6681c1 7.5px,#e4d3de 8.5px,#c0cbe5 9.5px,#dedce9 10.5px,#efd3d9 11.5px,#e5eaf5 12.5px,#bbc7e3 13.5px,#91a4d2 14.5px,#c9d2e9 15.5px,#bab7d4 16.5px,#babdd9 17.5px,#e0c7d3 18.5px,#ef8489 19.5px,#9ba1ca 20.5px,#c8c8df 21.5px,#f9d0d2 22.5px,#869bce 23.5px,#a9b8dc 24.5px,#a4b4da 25.5px,#8399cd 26.5px,#94a7d4 27.5px,#a5b5db 28.5px,#bbc7e4 29.5px,#dac5d4 30.5px,#f09da1 31.5px,#b5c2e1 32.5px,#8a9fd0 33.5px,#90a4d2 34.5px,#ecd0d7 35.5px,#bcbeda 36.5px,#bab1ce 37.5px,#948ebb 38.5px,#f9d3d5 39.5px,#c9bfd5 40.5px,#fadcdd 41.5px,#d0d3e7 42.5px,#aebcde 43.5px,#8ba0d0 44.5px,#d0a8bb 45.5px,#9cadd6 46.5px,#d0b5c8 47.5px,#f4adb0 48.5px,#f9ccce 49.5px,#969eca 50.5px,#cdb7cc 51.5px,#bbc7e4 52.5px,#f7cdd0 53.5px,#ebe0e8 54.5px,#f2979b 55.5px,#c6b7ce 56.5px,#cd8fa2 57.5px,#efb0b6 58.5px,#c6d0e8 59.5px,#f1b0b4 60.5px,#d0abbe 61.5px,#d7baca 62.5px,#e0afbb 63.5px,#f5aeb1 64.5px,#f6babc 65.5px,#d9d2e1 66.5px,#bdc9e4 67.5px,#eac7cf 68.5px,#fadadc 69.5px,#f9d2d4 70.5px,#f19195 71.5px,#f6babd 72.5px,#bea6c1 73.5px,#8298cc 74.5px,#dac2d0 75.5px,#a4b3d8 76.5px,#dabac8 77.5px,#e3e8f4 78.5px,#cccde2 79.5px,#f8cbcd 80.5px,#dcddec 81.5px,#9caed7 82.5px,#db98a6 83.5px,#c7d1e8 84.5px,#b8c5e2 85.5px,#b9bfdc 86.5px,#bfabc5 87.5px,#cd94a7 88.5px,#93a6d3 89.5px,#9aa2cc 90.5px,#ee787c 91.5px,#f29a9e 92.5px,#f9cfd1 93.5px,#f5adb0 94.5px,#f7c0c2 95.5px,#f0888c 96.5px,#ed7277 97.5px,#f3a1a4 98.5px,#f08a8e 99.5px,#c6b4cb 100.5px,#dcbbc9 101.5px,#f6b5b7 102.5px,#f4a6a9 103.5px,#f0d0d5 104.5px,#a6b5db 105.5px,#e5aab3 106.5px,#f1dee3 107.5px,#e2ccd7 108.5px,#f6d6d9 109.5px,#d9e0f0 110.5px,#e1dfec 111.5px,#f8c5c7 112.5px,#8091c6 113.5px,#e7dde7 114.5px,#f19498 115.5px,#decbd9 116.5px,#d8cfdf 117.5px,#d5c9da 118.5px,#ef8488 119.5px,#ef8488 120.5px,#dcbbc9 121.5px,#94a7d4 122.5px,#e1b4bf 123.5px,#eb656a 124.5px,#efaeb4 125.5px,#e1c4d0 126.5px,#d0cde1 127.5px,#bec9e5 128.5px,#cfaec2 129.5px,#deb2bf 130.5px,#f39ea2 131.5px,#f8c7c9 132.5px,#f5b5b7 133.5px,#e36e78 134.5px,#d7deef 135.5px,#f3b1b4 136.5px,#ccb2c6 137.5px,#f6bcbf 138.5px,#f6b8bb 139.5px,#fbddde 140.5px,#e3d3de 141.5px,#d7adbd 142.5px,#eeb1b7 143.5px,#cab8ce 144.5px,#f0a4a9 145.5px,#ec696e 146.5px,#f5b1b4 147.5px,#efb7bc 148.5px,#d7adbc 149.5px,#e899a1 150.5px,#afbddf 151.5px,#ccc9de 152.5px,#fad8d9 153.5px,#ee7a7e 154.5px,#f6bcbe 155.5px,#f19498 156.5px,#f6d6d9 157.5px,#f0d6db 158.5px,#eb6268 159.5px,#e74248 160.5px,#f4a6aa 161.5px,#f6b5b7 162.5px,#f9d0d2 163.5px,#e0c8d4 164.5px,#ef7f84 165.5px,#e2deea 166.5px,#eabbc3 167.5px,#f0898d 168.5px,#f7c1c3 169.5px,#fce7e8 170.5px)"></div>
<div style="left:4.5px;top:385.49px;width:170.6px;height:9.81px;background:linear-gradient(90deg,#c0abc5 0.5px,#f5adb0 1.5px,#f18e92 2.5px,#f6b8bb 3.5px,#d4cee0 4.5px,#d78c9b 5.5px,#d79cac 6.5px,#e3909a 7.5px,#eed9df 8.5px,#f9cfd1 9.5px,#e8a1a8 10.5px,#b2c0e0 11.5px,#e6bfc8 12.5px,#e6b1ba 13.5px,#d9daea 14.5px,#e8939b 15.5px,#dce2f1 16.5px,#eecdd4 17.5px,#f7bdbf 18.5px,#f5b2b5 19.5px,#dc9ba8 20.5px,#f3babe 21.5px,#d4bacb 22.5px,#f08e92 23.5px,#d7baca 24.5px,#ec6d73 25.5px,#d1afc1 26.5px,#ebbfc6 27.5px,#f5c4c8 28.5px,#f3a1a5 29.5px,#eed6dc 30.5px,#e7a1a9 31.5px,#ecdde5 32.5px,#ecdee6 33.5px,#e6ced8 34.5px,#f2c1c5 35.5px,#f5b2b4 36.5px,#ef8084 37.5px,#f2999d 38.5px,#f9d1d3 39.5px,#e2d1dd 40.5px,#f3a2a5 41.5px,#c1c9e2 42.5px,#e8b4bc 43.5px,#d1a9bc 44.5px,#ef7e83 45.5px,#eecad1 46.5px,#e1dfeb 47.5px,#f3a1a4 48.5px,#ecd2d9 49.5px,#ccacc1 50.5px,#c8b6cc 51.5px,#f8c9cb 52.5px,#fbdedf 53.5px,#e0dae7 54.5px,#f7c2c4 55.5px,#f6b6b9 56.5px,#f6bcbf 57.5px,#efcfd5 58.5px,#becae5 59.5px,#e97279 60.5px,#f09094 61.5px,#e8b2bb 62.5px,#e85c63 63.5px,#eabfc7 64.5px,#b5adcb 65.5px,#fadadb 66.5px,#f4a7aa 67.5px,#f7c2c4 68.5px,#f6b8ba 69.5px,#e66f77 70.5px,#bec9e5 71.5px,#f4cbcf 72.5px,#aca1c3 73.5px,#c8bed5 74.5px,#f5b0b3 75.5px,#99a9d3 76.5px,#f1cbd0 77.5px,#f2dfe4 78.5px,#91a5d3 79.5px,#c6d0e8 80.5px,#e6a0a8 81.5px,#e8d4dd 82.5px,#d6cedf 83.5px,#f29a9e 84.5px,#ecdfe7 85.5px,#e3b6c1 86.5px,#bfcae5 87.5px,#c4c2da 88.5px,#dfc6d3 89.5px,#ef9fa4 90.5px,#c4a2b9 91.5px,#f1999d 92.5px,#d9c5d4 93.5px,#ccb2c7 94.5px,#e2d7e3 95.5px,#e2d8e3 96.5px,#e3dde9 97.5px,#f7c1c4 98.5px,#e3cad5 99.5px,#e1d5e2 100.5px,#9bacd6 101.5px,#e1cfdb 102.5px,#b19fbf 103.5px,#dc8996 104.5px,#eb656b 105.5px,#7979b1 106.5px,#fad8d9 107.5px,#f4a8ab 108.5px,#ebc1c8 109.5px,#95a8d4 110.5px,#efdfe5 111.5px,#f9cdcf 112.5px,#f8cacc 113.5px,#c1a4bd 114.5px,#d0c0d3 115.5px,#f7c1c3 116.5px,#cc8498 117.5px,#8298cc 118.5px,#e0b9c5 119.5px,#b4b7d6 120.5px,#d5bccd 121.5px,#fbe3e4 122.5px,#dddae8 123.5px,#af7c9c 124.5px,#c9a2b8 125.5px,#b497b5 126.5px,#a1b1d9 127.5px,#7e95cb 128.5px,#a1a3cb 129.5px,#e3d7e2 130.5px,#fad6d7 131.5px,#a9afd2 132.5px,#a2b2d9 133.5px,#da8e9c 134.5px,#e4d0db 135.5px,#9694bf 136.5px,#c8b4ca 137.5px,#7e95cb 138.5px,#c78499 139.5px,#ddb8c6 140.5px,#d4b3c4 141.5px,#ad8aab 142.5px,#f7bfc2 143.5px,#f4a9ac 144.5px,#9faed6 145.5px,#c69eb4 146.5px,#b7acca 147.5px,#e9b1b9 148.5px,#c6bcd3 149.5px,#f1c0c5 150.5px,#bcc8e4 151.5px,#8694c6 152.5px,#cdcce1 153.5px,#92a5d3 154.5px,#b3b4d4 155.5px,#d797a7 156.5px,#d8c0d0 157.5px,#c0a2bc 158.5px,#c8cae1 159.5px,#a9b8dc 160.5px,#849acd 161.5px,#c5cde5 162.5px,#f0dee4 163.5px,#bcc8e4 164.5px,#dbccdb 165.5px,#acb5d8 166.5px,#a4b4da 167.5px,#a6b6db 168.5px,#a9b8dc 169.5px,#4f6eb8 170.5px)"></div>
<div style="left:226.7px;top:277.60px;width:170.0px;height:9.81px;background:linear-gradient(90deg,#d398a9 0.5px,#92a5d3 1.5px,#9fb0d8 2.5px,#dea4b1 3.5px,#f9d1d3 4.5px,#e1afba 5.5px,#8ca0d0 6.5px,#e1e7f3 7.5px,#b4c0df 8.5px,#f8c5c7 9.5px,#c3bad3 10.5px,#e1e6f3 11.5px,#f7dbde 12.5px,#f9cfd0 13.5px,#d9aab9 14.5px,#acbadc 15.5px,#dec7d4 16.5px,#b2c0e0 17.5px,#dae0f0 18.5px,#c8cce2 19.5px,#f6bcbe 20.5px,#6377b8 21.5px,#b4a6c5 22.5px,#bda9c5 23.5px,#e8646c 24.5px,#c2cde6 25.5px,#d0d8ec 26.5px,#d9e0f0 27.5px,#b7bedc 28.5px,#949eca 29.5px,#eadfe8 30.5px,#eabcc3 31.5px,#e9e2ea 32.5px,#b7bddb 33.5px,#ebd8e0 34.5px,#f1c5ca 35.5px,#e8b5bd 36.5px,#deacb8 37.5px,#5e7bbe 38.5px,#a9b9dc 39.5px,#dae1f0 40.5px,#bec9e5 41.5px,#e0ccd8 42.5px,#7990c9 43.5px,#c3bdd6 44.5px,#bfb3cd 45.5px,#f8d3d5 46.5px,#e2dbe7 47.5px,#d2cbdd 48.5px,#d0cade 49.5px,#e1b9c4 50.5px,#aea7c9 51.5px,#ad97b8 52.5px,#e5a8b1 53.5px,#f0d8de 54.5px,#ede2e9 55.5px,#eac2ca 56.5px,#bbc7e3 57.5px,#b9c6e3 58.5px,#a1b1d9 59.5px,#8ea2d1 60.5px,#edd1d8 61.5px,#e9d2db 62.5px,#6984c2 63.5px,#d4b6c8 64.5px,#cabdd3 65.5px,#d1c8db 66.5px,#c18ba4 67.5px,#91a4d2 68.5px,#d4cfe1 69.5px,#e5dfe9 70.5px,#a1b2d9 71.5px,#c88196 72.5px,#cbd5ea 73.5px,#d4a2b3 74.5px,#d0c8dc 75.5px,#f6bbbe 76.5px,#f9dbdd 77.5px,#bec9e5 78.5px,#d6ccdd 79.5px,#bca6c1 80.5px,#f1c2c6 81.5px,#98aad5 82.5px,#ecc4cb 83.5px,#bab5d2 84.5px,#cfd8ec 85.5px,#efd1d7 86.5px,#b8c5e2 87.5px,#b3c1e0 88.5px,#c895aa 89.5px,#c9788d 90.5px,#9aacd6 91.5px,#ef9195 92.5px,#ee7c81 93.5px,#f2969a 94.5px,#f5b4b7 95.5px,#f2969a 96.5px,#b6b0ce 97.5px,#b8b1ce 98.5px,#eda7ad 99.5px,#f9d3d5 100.5px,#ceb6c9 101.5px,#c6d0e8 102.5px,#e6d6e0 103.5px,#fadbdd 104.5px,#f8c8ca 105.5px,#acb6d9 106.5px,#d79bab 107.5px,#d8d5e5 108.5px,#f4b8bb 109.5px,#e6a1aa 110.5px,#cbb2c7 111.5px,#a4b4da 112.5px,#e0adb9 113.5px,#edc4ca 114.5px,#f0888d 115.5px,#ef8a8f 116.5px,#dfe5f2 117.5px,#dfaebb 118.5px,#acbbdd 119.5px,#a9b8dc 120.5px,#d9a1b0 121.5px,#cccde3 122.5px,#eab6bd 123.5px,#bcb7d3 124.5px,#c8c2d8 125.5px,#ecd5dc 126.5px,#efaeb3 127.5px,#f8c8ca 128.5px,#f29699 129.5px,#f39fa3 130.5px,#f3a0a3 131.5px,#dac2d1 132.5px,#f8c9cb 133.5px,#f4a7ab 134.5px,#f08d91 135.5px,#eeb4ba 136.5px,#dce2f1 137.5px,#dfb9c6 138.5px,#d6dced 139.5px,#f9cdce 140.5px,#edb2b8 141.5px,#d1b4c6 142.5px,#a4a8ce 143.5px,#e4b4be 144.5px,#edd7de 145.5px,#ea5e64 146.5px,#fbe2e3 147.5px,#a6a9ce 148.5px,#f2999c 149.5px,#f5b3b6 150.5px,#ed7277 151.5px,#f5b0b2 152.5px,#f7c0c2 153.5px,#d7bccc 154.5px,#ee797d 155.5px,#ef7f84 156.5px,#e7d0da 157.5px,#ef8387 158.5px,#c5b5cd 159.5px,#dec1ce 160.5px,#bec6e1 161.5px,#becae5 162.5px,#decfdc 163.5px,#f2979b 164.5px,#f19598 165.5px,#ddb2c0 166.5px,#bfbdd7 167.5px,#cab9ce 168.5px,#f18f93 169.5px)"></div>
<div style="left:226.7px;top:287.41px;width:170.0px;height:9.81px;background:linear-gradient(90deg,#f8c9cb 0.5px,#f08d91 1.5px,#f29599 2.5px,#f19397 3.5px,#f39da1 4.5px,#a49abf 5.5px,#f4aaad 6.5px,#b5bfde 7.5px,#bac3e0 8.5px,#f5aeb1 9.5px,#f18e92 10.5px,#d9bdcc 11.5px,#d9cad9 12.5px,#ee7e82 13.5px,#ef8085 14.5px,#f39fa2 15.5px,#f4acaf 16.5px,#f1bbbf 17.5px,#c6d0e8 18.5px,#ecafb6 19.5px,#eb6166 20.5px,#ce98ab 21.5px,#a1b2d9 22.5px,#c2cce6 23.5px,#ecaab1 24.5px,#f39ea2 25.5px,#d3c2d4 26.5px,#f7c1c3 27.5px,#e7444b 28.5px,#f2979b 29.5px,#f08b90 30.5px,#f7c0c2 31.5px,#d8c4d4 32.5px,#db707d 33.5px,#e1c1cc 34.5px,#f3d7db 35.5px,#f9ced0 36.5px,#f4acaf 37.5px,#c091aa 38.5px,#f18e92 39.5px,#f19397 40.5px,#eadde5 41.5px,#ec9ca3 42.5px,#d48393 43.5px,#ea8188 44.5px,#ef7f83 45.5px,#f08d91 46.5px,#f08a8e 47.5px,#f19296 48.5px,#f3a3a6 49.5px,#f0e3e9 50.5px,#ed888e 51.5px,#f3a1a4 52.5px,#d8b5c4 53.5px,#ec6b70 54.5px,#d8b4c3 55.5px,#d799a8 56.5px,#cca7bc 57.5px,#e6949d 58.5px,#d5dcee 59.5px,#c4cee7 60.5px,#c0cce6 61.5px,#a1b1d9 62.5px,#db9dab 63.5px,#f2979b 64.5px,#f5b1b4 65.5px,#d299aa 66.5px,#f2cbd0 67.5px,#d7d0e0 68.5px,#c9d2e9 69.5px,#e2c5d0 70.5px,#e5cad4 71.5px,#f5b4b6 72.5px,#eadae3 73.5px,#f4cdd0 74.5px,#f4a8ab 75.5px,#fbdcdd 76.5px,#ef7f84 77.5px,#fbddde 78.5px,#f5b1b4 79.5px,#d7d2e2 80.5px,#d7d9ea 81.5px,#fad6d7 82.5px,#ecd5dd 83.5px,#e7c8d2 84.5px,#dca8b6 85.5px,#d56a79 86.5px,#d49bac 87.5px,#ec686d 88.5px,#ee7d82 89.5px,#ccc9de 90.5px,#eab9c0 91.5px,#d9becd 92.5px,#ceb9cd 93.5px,#adbcde 94.5px,#cbd0e6 95.5px,#d8d1e1 96.5px,#9aa4cf 97.5px,#b9b7d4 98.5px,#cdbed2 99.5px,#f19b9f 100.5px,#bcc8e4 101.5px,#d8d9e9 102.5px,#f5aeb0 103.5px,#cbc5db 104.5px,#adbcde 105.5px,#c9c2d8 106.5px,#9c97c0 107.5px,#6782c2 108.5px,#adb7da 109.5px,#e0c9d5 110.5px,#a2b2d9 111.5px,#d4dcee 112.5px,#edd4db 113.5px,#b1bfdf 114.5px,#e5cbd5 115.5px,#bdabc6 116.5px,#e1e6f3 117.5px,#c2cde6 118.5px,#9288b5 119.5px,#b3b7d7 120.5px,#8499cd 121.5px,#7e95cb 122.5px,#a6b6db 123.5px,#eedbe2 124.5px,#e0e5f2 125.5px,#efdae0 126.5px,#ebdfe7 127.5px,#c6bfd7 128.5px,#dbcad9 129.5px,#c4cfe7 130.5px,#6882c2 131.5px,#e3d0db 132.5px,#afbddf 133.5px,#cfb7ca 134.5px,#a2b3da 135.5px,#c7d1e9 136.5px,#debdca 137.5px,#b7a6c4 138.5px,#f4a8ab 139.5px,#fbe2e3 140.5px,#bcc1dc 141.5px,#cec5d9 142.5px,#fad7d8 143.5px,#dac0ce 144.5px,#d5c0d1 145.5px,#d1bbce 146.5px,#f8c9cb 147.5px,#b6b4d2 148.5px,#a0b1d9 149.5px,#d5d2e4 150.5px,#f7c3c5 151.5px,#afb8d9 152.5px,#a77194 153.5px,#f0bcc1 154.5px,#f3dfe4 155.5px,#cdd6eb 156.5px,#becae5 157.5px,#c7a1b8 158.5px,#9299c6 159.5px,#758ec7 160.5px,#ced7eb 161.5px,#8c9ece 162.5px,#dfbac6 163.5px,#e6c5cf 164.5px,#a5b5db 165.5px,#8f9bca 166.5px,#8b8fbf 167.5px,#dfb2bf 168.5px,#b5c2e1 169.5px)"></div>
<div style="left:226.7px;top:297.22px;width:170.0px;height:9.81px;background:linear-gradient(90deg,#c3b8d1 0.5px,#888abb 1.5px,#a7a5ca 2.5px,#d6c5d6 3.5px,#d5d3e4 4.5px,#9badd7 5.5px,#c5d0e8 6.5px,#c4cee7 7.5px,#c2cde6 8.5px,#e2ccd7 9.5px,#b1afd0 10.5px,#96a9d5 11.5px,#c6b9d1 12.5px,#98abd5 13.5px,#d7deef 14.5px,#9badd6 15.5px,#b2b2d2 16.5px,#eed1d7 17.5px,#ba94b0 18.5px,#b0abcc 19.5px,#d2daed 20.5px,#dae1f0 21.5px,#a2b3d9 22.5px,#c3cde7 23.5px,#889dcf 24.5px,#849acd 25.5px,#b8c4e2 26.5px,#b4c1e0 27.5px,#ebdfe6 28.5px,#dde3f1 29.5px,#93a6d3 30.5px,#b6b0ce 31.5px,#97a9d5 32.5px,#c2cde6 33.5px,#c7d1e8 34.5px,#cad4ea 35.5px,#8ca0d0 36.5px,#90a4d2 37.5px,#627ebf 38.5px,#ced7eb 39.5px,#c1cce6 40.5px,#8da1d1 41.5px,#c0cce6 42.5px,#778fc8 43.5px,#94a7d4 44.5px,#8fa3d2 45.5px,#607cbf 46.5px,#d5bbcc 47.5px,#cf7385 48.5px,#d7c0d0 49.5px,#9daed7 50.5px,#bdc9e4 51.5px,#dbd1e0 52.5px,#ead7e0 53.5px,#a3b3da 54.5px,#b5c2e1 55.5px,#b1bfdf 56.5px,#ccd5eb 57.5px,#d1d9ec 58.5px,#ded5e2 59.5px,#ddaab7 60.5px,#dac6d5 61.5px,#acbbdd 62.5px,#7e95cb 63.5px,#a9b8dc 64.5px,#768ec7 65.5px,#d9a4b3 66.5px,#a2a7ce 67.5px,#d1cadd 68.5px,#c1b5ce 69.5px,#be9cb7 70.5px,#718ac5 71.5px,#b6c0de 72.5px,#d7d3e4 73.5px,#d0c2d5 74.5px,#c8a7be 75.5px,#e5dae5 76.5px,#c8c1d8 77.5px,#a3b4da 78.5px,#a5b5db 79.5px,#b4c1e1 80.5px,#969dc9 81.5px,#f8cbcd 82.5px,#a7b4d8 83.5px,#c4cee7 84.5px,#e8cfd8 85.5px,#c5cbe3 86.5px,#d3bbcd 87.5px,#cbc8de 88.5px,#b8a2bf 89.5px,#a9b8dc 90.5px,#d88291 91.5px,#f6bcbf 92.5px,#e4cfda 93.5px,#e8c7d0 94.5px,#ee9399 95.5px,#edcdd4 96.5px,#f18e92 97.5px,#f9ccce 98.5px,#b9aac7 99.5px,#f4aaad 100.5px,#eee5ec 101.5px,#beb8d3 102.5px,#f4acaf 103.5px,#d8becd 104.5px,#f2979a 105.5px,#f4aaad 106.5px,#e95056 107.5px,#d69cac 108.5px,#d1d8eb 109.5px,#e7dfe8 110.5px,#efcad0 111.5px,#f5b5b7 112.5px,#e2acb7 113.5px,#d8baca 114.5px,#decfdd 115.5px,#ee7c81 116.5px,#f3a4a7 117.5px,#f8c6c8 118.5px,#eb6267 119.5px,#f19599 120.5px,#f3a2a6 121.5px,#f6b5b7 122.5px,#f6b8ba 123.5px,#f1d9de 124.5px,#c1cce6 125.5px,#efdde3 126.5px,#f6b8ba 127.5px,#f5b0b3 128.5px,#efd0d6 129.5px,#e49ea7 130.5px,#ea575d 131.5px,#f6bcbe 132.5px,#f0e5eb 133.5px,#ddd8e6 134.5px,#dabdcc 135.5px,#f2cfd4 136.5px,#f4a7aa 137.5px,#f9cdcf 138.5px,#f1a6aa 139.5px,#9dafd7 140.5px,#c7cae2 141.5px,#e4cdd8 142.5px,#e097a2 143.5px,#e1cfdb 144.5px,#e2b8c4 145.5px,#becae5 146.5px,#d59eae 147.5px,#ea8e94 148.5px,#d3c3d5 149.5px,#df929e 150.5px,#bc7993 151.5px,#d8becd 152.5px,#ddc8d6 153.5px,#e6d3dd 154.5px,#a9b6da 155.5px,#f7bec0 156.5px,#f4abae 157.5px,#ed7378 158.5px,#f08c90 159.5px,#ed7479 160.5px,#f8cacc 161.5px,#e9d2db 162.5px,#f4a7aa 163.5px,#f9d2d4 164.5px,#f4a7aa 165.5px,#f18e92 166.5px,#f19397 167.5px,#e6a7b0 168.5px,#e9dee7 169.5px)"></div>
<div style="left:226.7px;top:307.03px;width:170.0px;height:9.81px;background:linear-gradient(90deg,#e7dee7 0.5px,#e8bfc8 1.5px,#e1a4af 2.5px,#8ca0d1 3.5px,#efd4db 4.5px,#fbdddf 5.5px,#ebe4ec 6.5px,#b6c3e1 7.5px,#c7d1e8 8.5px,#cbd4ea 9.5px,#ddd5e3 10.5px,#bcb1cc 11.5px,#d08698 12.5px,#758ec7 13.5px,#d6b9ca 14.5px,#bcc8e4 15.5px,#cfd8ec 16.5px,#637fc0 17.5px,#a0b1d9 18.5px,#ea989f 19.5px,#f5b2b5 20.5px,#8493c6 21.5px,#c2cde6 22.5px,#ecadb3 23.5px,#e4e9f4 24.5px,#e6e1eb 25.5px,#a1add4 26.5px,#c3cee7 27.5px,#e2d5e1 28.5px,#d4becf 29.5px,#a2a6cd 30.5px,#a7abcf 31.5px,#9786b1 32.5px,#e38b94 33.5px,#acbbdd 34.5px,#cd788b 35.5px,#8ca1d1 36.5px,#aebcde 37.5px,#788fc7 38.5px,#f6bcbe 39.5px,#ccc8dd 40.5px,#dfcad7 41.5px,#f8ccce 42.5px,#f18e92 43.5px,#dfbac6 44.5px,#f4aaad 45.5px,#d1ccdf 46.5px,#c5c2da 47.5px,#fad6d8 48.5px,#e7d4de 49.5px,#c199b2 50.5px,#e0c7d3 51.5px,#e5d4df 52.5px,#f6b6b9 53.5px,#f8c7c9 54.5px,#f5aeb0 55.5px,#f5aeb1 56.5px,#ccbacf 57.5px,#e49aa4 58.5px,#f7bdbf 59.5px,#ccd0e5 60.5px,#e9dce4 61.5px,#d8d4e5 62.5px,#f8c7c9 63.5px,#f6babd 64.5px,#969ac5 65.5px,#bbc7e4 66.5px,#f2b8bc 67.5px,#f8c5c8 68.5px,#d18092 69.5px,#d9becd 70.5px,#a9b8dc 71.5px,#b3c0e0 72.5px,#859ace 73.5px,#b6c3e1 74.5px,#cfd8ec 75.5px,#d19aac 76.5px,#d2a5b6 77.5px,#bec9e5 78.5px,#b7c3e2 79.5px,#efdce2 80.5px,#a3abd2 81.5px,#f1e5eb 82.5px,#f6b9bb 83.5px,#c6c8df 84.5px,#f6b6b9 85.5px,#ddcad8 86.5px,#c4c0d9 87.5px,#fbe0e1 88.5px,#d1c4d7 89.5px,#d2c0d2 90.5px,#f5b2b5 91.5px,#adbadc 92.5px,#94a7d4 93.5px,#e1e7f3 94.5px,#e5dfe9 95.5px,#e4c0cb 96.5px,#b0accc 97.5px,#ea5a60 98.5px,#f5adb0 99.5px,#f19ea2 100.5px,#c8b8ce 101.5px,#f6c9cc 102.5px,#eac2ca 103.5px,#e3c0cb 104.5px,#c6bad2 105.5px,#8698ca 106.5px,#c9d2e9 107.5px,#b8c5e2 108.5px,#d7a1b1 109.5px,#f0888c 110.5px,#f19397 111.5px,#ca8a9e 112.5px,#d9a9b8 113.5px,#ccd5ea 114.5px,#f8d0d2 115.5px,#e8ccd5 116.5px,#ea9fa6 117.5px,#f5d5d9 118.5px,#e4dde8 119.5px,#dae1f0 120.5px,#eabcc4 121.5px,#e7bdc6 122.5px,#e5bec8 123.5px,#fce5e6 124.5px,#f6b5b8 125.5px,#f6bcbf 126.5px,#d3c9db 127.5px,#e6c7d1 128.5px,#decad7 129.5px,#c9b6cc 130.5px,#f1d9de 131.5px,#ced1e6 132.5px,#f5aeb1 133.5px,#c7c4db 134.5px,#d5a6b7 135.5px,#d7d1e1 136.5px,#e4bec9 137.5px,#ee7d81 138.5px,#f6b7b9 139.5px,#de98a4 140.5px,#e7a0a8 141.5px,#f1e0e5 142.5px,#f4c4c7 143.5px,#f8c5c7 144.5px,#cdd2e7 145.5px,#b6c3e2 146.5px,#c4cee7 147.5px,#d1d3e6 148.5px,#f8cacc 149.5px,#fbe3e4 150.5px,#dcd3e1 151.5px,#dea5b1 152.5px,#d98b99 153.5px,#f39fa3 154.5px,#ec696e 155.5px,#deb7c4 156.5px,#cfcfe3 157.5px,#f6bbbe 158.5px,#afa7c8 159.5px,#c2b3cc 160.5px,#e4d0db 161.5px,#e1b1bd 162.5px,#c795ac 163.5px,#f19397 164.5px,#eb646a 165.5px,#f2c1c5 166.5px,#b9c5e3 167.5px,#efbcc1 168.5px,#f19599 169.5px)"></div>
<div style="left:226.7px;top:316.83px;width:170.0px;height:9.81px;background:linear-gradient(90deg,#cca2b6 0.5px,#f2999d 1.5px,#f39fa3 2.5px,#f5b3b6 3.5px,#d3a5b6 4.5px,#f2cdd1 5.5px,#f29da0 6.5px,#f5aeb1 7.5px,#ec6d72 8.5px,#f8c5c7 9.5px,#f29c9f 10.5px,#f6b7ba 11.5px,#f6b8bb 12.5px,#e5bfc9 13.5px,#e999a1 14.5px,#f3dbe0 15.5px,#ed6f74 16.5px,#ec9299 17.5px,#cbd4ea 18.5px,#d7d2e2 19.5px,#f4a6a9 20.5px,#e6c7d1 21.5px,#f39ea1 22.5px,#f8c6c8 23.5px,#adadcf 24.5px,#f7c3c5 25.5px,#c6bed5 26.5px,#c59db4 27.5px,#e1d1dd 28.5px,#d8d0e0 29.5px,#f2adb1 30.5px,#ef8a8f 31.5px,#e6abb4 32.5px,#a788ac 33.5px,#f5b3b5 34.5px,#ceb9cd 35.5px,#d2afc1 36.5px,#f1b0b5 37.5px,#f2999c 38.5px,#c999ae 39.5px,#bcc1dd 40.5px,#c6afc6 41.5px,#de8a96 42.5px,#f18e92 43.5px,#f08d91 44.5px,#e4afb9 45.5px,#ef8387 46.5px,#d0a9bb 47.5px,#eb5f65 48.5px,#f8c5c7 49.5px,#f6babc 50.5px,#d495a5 51.5px,#bf9db7 52.5px,#fbdedf 53.5px,#a5a8cd 54.5px,#f3a3a6 55.5px,#f3a0a3 56.5px,#e5c2cd 57.5px,#ebbdc5 58.5px,#ebc8cf 59.5px,#f5b2b4 60.5px,#ef8488 61.5px,#b4c1e1 62.5px,#d59cac 63.5px,#c8d2e9 64.5px,#e8adb5 65.5px,#c7acc2 66.5px,#efc7cd 67.5px,#ea5b61 68.5px,#e8b8c1 69.5px,#f19397 70.5px,#cfcade 71.5px,#e4d4df 72.5px,#f7bfc1 73.5px,#e7d5df 74.5px,#f29ca0 75.5px,#cb7488 76.5px,#899ecf 77.5px,#e2d5e1 78.5px,#e08893 79.5px,#8ba0d0 80.5px,#e7cad3 81.5px,#e9c2ca 82.5px,#f29ca0 83.5px,#e2b0bb 84.5px,#fad5d7 85.5px,#f9d3d4 86.5px,#e7c4ce 87.5px,#eb989e 88.5px,#f6b9bb 89.5px,#e6cdd7 90.5px,#d9bdcc 91.5px,#e8d0d9 92.5px,#e4b6c1 93.5px,#dbc2d0 94.5px,#eac4cc 95.5px,#afbdde 96.5px,#e6b6c0 97.5px,#d6ddee 98.5px,#cca1b5 99.5px,#8399cd 100.5px,#dde3f1 101.5px,#deb6c3 102.5px,#859bce 103.5px,#8495c9 104.5px,#f19195 105.5px,#f5b4b7 106.5px,#cdacbf 107.5px,#af94b5 108.5px,#dbc1cf 109.5px,#e5dce6 110.5px,#f2d4d8 111.5px,#e4dbe6 112.5px,#b0bbdc 113.5px,#bcc8e4 114.5px,#b7c4e2 115.5px,#99abd6 116.5px,#879cce 117.5px,#d9c6d5 118.5px,#becae5 119.5px,#bac6e3 120.5px,#dea7b3 121.5px,#9ea8d0 122.5px,#bec9e5 123.5px,#7b92ca 124.5px,#b8c4e2 125.5px,#5472ba 126.5px,#e1bfcb 127.5px,#f9d3d4 128.5px,#9eacd4 129.5px,#8ca0d0 130.5px,#c7b4cb 131.5px,#b5c0df 132.5px,#f8cacc 133.5px,#e8d5de 134.5px,#f8c5c7 135.5px,#a6afd5 136.5px,#8298cc 137.5px,#9bacd6 138.5px,#af5b7b 139.5px,#f3e4e9 140.5px,#c5d0e8 141.5px,#e4d3de 142.5px,#bec3de 143.5px,#c7a6bc 144.5px,#c8c3da 145.5px,#dad6e5 146.5px,#7890c8 147.5px,#b69cb9 148.5px,#a8b7dc 149.5px,#b5bad8 150.5px,#e4d2dd 151.5px,#879cce 152.5px,#d8a7b7 153.5px,#e5cfda 154.5px,#dec9d6 155.5px,#c098b1 156.5px,#d7cddd 157.5px,#b8c4e2 158.5px,#6983c2 159.5px,#8ca0d0 160.5px,#a2b2d9 161.5px,#7e95cb 162.5px,#bbc7e4 163.5px,#99abd6 164.5px,#a6b6db 165.5px,#9fb0d8 166.5px,#9badd7 167.5px,#9eafd8 168.5px,#c0cbe6 169.5px)"></div>
<div style="left:226.7px;top:326.64px;width:170.0px;height:9.81px;background:linear-gradient(90deg,#f4a9ad 0.5px,#f7c2c4 1.5px,#b17b9a 2.5px,#cec8dc 3.5px,#ccbbd0 4.5px,#f6b8bb 5.5px,#ed6f74 6.5px,#f39fa3 7.5px,#ddafbc 8.5px,#f18f93 9.5px,#de737f 10.5px,#b77895 11.5px,#ea868d 12.5px,#f1e3e8 13.5px,#d3d9ec 14.5px,#e195a0 15.5px,#d0d9ec 16.5px,#eaadb5 17.5px,#f0868a 18.5px,#f4a7ab 19.5px,#f39fa3 20.5px,#ec6c71 21.5px,#ee7a7e 22.5px,#f8c4c7 23.5px,#c1b7d0 24.5px,#f4a8ab 25.5px,#f5b4b7 26.5px,#f29ca0 27.5px,#f1dfe4 28.5px,#e1939e 29.5px,#f08a8e 30.5px,#f4b1b4 31.5px,#e9bdc5 32.5px,#eab9c1 33.5px,#c4a0b8 34.5px,#f5b3b6 35.5px,#ee797e 36.5px,#ebb9c0 37.5px,#dde3f1 38.5px,#e3cbd6 39.5px,#ee7c81 40.5px,#d5aebf 41.5px,#e7dde7 42.5px,#e6cfd8 43.5px,#fbdddf 44.5px,#f8ccce 45.5px,#cad3e9 46.5px,#d9a4b3 47.5px,#f2989c 48.5px,#ee7b80 49.5px,#dac5d3 50.5px,#e8c9d2 51.5px,#ebcfd7 52.5px,#e3b4be 53.5px,#f4abae 54.5px,#ddadba 55.5px,#e7b4bd 56.5px,#f08c90 57.5px,#e9cfd8 58.5px,#f4a8ab 59.5px,#ef8388 60.5px,#f5b3b6 61.5px,#e84c52 62.5px,#ee9196 63.5px,#e0afbb 64.5px,#f6b8bb 65.5px,#f7bec1 66.5px,#a496bc 67.5px,#d0b3c5 68.5px,#f9dcde 69.5px,#f4b7ba 70.5px,#eae1e9 71.5px,#f5aeb0 72.5px,#dfcdda 73.5px,#c2c4dd 74.5px,#f5b3b6 75.5px,#ead9e1 76.5px,#d4d8ea 77.5px,#c78ea5 78.5px,#afbedf 79.5px,#bdc9e4 80.5px,#f5d5d9 81.5px,#fce6e7 82.5px,#bbbad6 83.5px,#f5b1b4 84.5px,#cd9aae 85.5px,#f3a2a5 86.5px,#f4aaad 87.5px,#9587b3 88.5px,#f39fa2 89.5px,#c5adc5 90.5px,#f0898e 91.5px,#e4a5af 92.5px,#ec696e 93.5px,#d4ccde 94.5px,#d7daeb 95.5px,#fbe3e4 96.5px,#8e9fce 97.5px,#d0d9ec 98.5px,#b1bfe0 99.5px,#dae0f0 100.5px,#b1bfe0 101.5px,#8590c3 102.5px,#f6b5b8 103.5px,#f3d2d6 104.5px,#d5dcee 105.5px,#f3bfc3 106.5px,#cabdd3 107.5px,#b7b3d1 108.5px,#999ac5 109.5px,#ccbed3 110.5px,#95a8d4 111.5px,#97a9d5 112.5px,#afbddf 113.5px,#e6d0da 114.5px,#c5cee6 115.5px,#8da1d1 116.5px,#bac6e3 117.5px,#a5b5db 118.5px,#d1daed 119.5px,#ccc7dc 120.5px,#6681c1 121.5px,#d0d8ec 122.5px,#8096cc 123.5px,#afbddf 124.5px,#6d83c0 125.5px,#cec2d6 126.5px,#ddcfdd 127.5px,#d493a3 128.5px,#e0beca 129.5px,#cbd5ea 130.5px,#9da0c9 131.5px,#a9add0 132.5px,#ccb4c9 133.5px,#e5c7d1 134.5px,#b8a4c2 135.5px,#7b81b8 136.5px,#f6bbbd 137.5px,#d8dbec 138.5px,#e2a5b0 139.5px,#fadcdd 140.5px,#a3abd1 141.5px,#96a9d5 142.5px,#abbadd 143.5px,#bbc7e3 144.5px,#f1bbc0 145.5px,#d9bdcc 146.5px,#aeaccd 147.5px,#f0b2b6 148.5px,#b6c3e2 149.5px,#92a6d3 150.5px,#9badd7 151.5px,#e5c4cf 152.5px,#a3b3da 153.5px,#adbbde 154.5px,#c6d0e8 155.5px,#a1b2d9 156.5px,#9aabd6 157.5px,#7f95cb 158.5px,#bec9e5 159.5px,#b2c0e0 160.5px,#b8b2cf 161.5px,#9996c0 162.5px,#e1d7e4 163.5px,#889dcf 164.5px,#d8dfef 165.5px,#ccd5ea 166.5px,#d5c9da 167.5px,#eedde3 168.5px,#8096cb 169.5px)"></div>
<div style="left:226.7px;top:336.45px;width:170.0px;height:9.81px;background:linear-gradient(90deg,#c9c6dc 0.5px,#c76479 1.5px,#f29da0 2.5px,#e26973 3.5px,#dcc0ce 4.5px,#f5b4b7 5.5px,#f4a6a9 6.5px,#dbc6d5 7.5px,#f6bcbf 8.5px,#e2b1bc 9.5px,#eecdd3 10.5px,#f5afb2 11.5px,#f9d3d4 12.5px,#f4adb0 13.5px,#d99dac 14.5px,#d7a5b5 15.5px,#fad4d5 16.5px,#f3d2d6 17.5px,#d9c2d1 18.5px,#f29a9e 19.5px,#d6d2e3 20.5px,#ea888f 21.5px,#f7bfc2 22.5px,#f7bfc1 23.5px,#f7bec0 24.5px,#f7bdbf 25.5px,#e76269 26.5px,#d8dfef 27.5px,#efaeb3 28.5px,#f8c5c7 29.5px,#f6b8ba 30.5px,#eb8187 31.5px,#c8c4da 32.5px,#d6cedf 33.5px,#f7bdbf 34.5px,#f8c9cb 35.5px,#cabbd0 36.5px,#f2c2c6 37.5px,#f5b2b5 38.5px,#e84b51 39.5px,#ef8085 40.5px,#f8cbcd 41.5px,#f6b9bc 42.5px,#f18f93 43.5px,#ddacba 44.5px,#e0a7b3 45.5px,#ebb3ba 46.5px,#dcdfee 47.5px,#f7c3c5 48.5px,#f0d1d7 49.5px,#b6c3e2 50.5px,#eba7ae 51.5px,#dcd9e8 52.5px,#e86167 53.5px,#e85157 54.5px,#e6cfd9 55.5px,#fad6d8 56.5px,#f6b7ba 57.5px,#ed7075 58.5px,#f8c5c7 59.5px,#dbbcca 60.5px,#f19195 61.5px,#f7c2c5 62.5px,#f1c9ce 63.5px,#acbadd 64.5px,#e9c2ca 65.5px,#f2989c 66.5px,#f3a2a5 67.5px,#f29a9d 68.5px,#ef858a 69.5px,#d6bfd0 70.5px,#f4aaad 71.5px,#eec1c8 72.5px,#d7cdde 73.5px,#f19195 74.5px,#f5b2b5 75.5px,#f8c7c9 76.5px,#f2b2b6 77.5px,#aca0c3 78.5px,#f8cbcd 79.5px,#cdabbf 80.5px,#bfbad4 81.5px,#ee7c81 82.5px,#d4c8d9 83.5px,#e4dee9 84.5px,#f19599 85.5px,#a29ac1 86.5px,#debbc8 87.5px,#f9d0d2 88.5px,#f5b0b3 89.5px,#f8c5c7 90.5px,#f7bfc2 91.5px,#f4a7aa 92.5px,#f1a3a7 93.5px,#d3dbed 94.5px,#c5cce4 95.5px,#d0c9dc 96.5px,#cba4b8 97.5px,#96a9d5 98.5px,#da97a5 99.5px,#e1c3cf 100.5px,#cad3ea 101.5px,#bbc7e3 102.5px,#adbcde 103.5px,#a9b8dc 104.5px,#cba4b9 105.5px,#8e9ac9 106.5px,#ebe0e8 107.5px,#b6c3e1 108.5px,#dcd8e7 109.5px,#c7899f 110.5px,#ca91a6 111.5px,#91a4d2 112.5px,#c0cbe5 113.5px,#a6b6db 114.5px,#a6b6db 115.5px,#d4dcee 116.5px,#e3e8f4 117.5px,#a5b5db 118.5px,#c9d3e9 119.5px,#eaaab1 120.5px,#c2b3cc 121.5px,#b2bfe0 122.5px,#ebdde5 123.5px,#b5c2e1 124.5px,#b7c4e2 125.5px,#7b92c9 126.5px,#e8c6cf 127.5px,#f6bcbf 128.5px,#ccd2e7 129.5px,#bac7e3 130.5px,#f9d4d6 131.5px,#f9d9db 132.5px,#a7b7db 133.5px,#c395ad 134.5px,#879cce 135.5px,#617dbf 136.5px,#c2cde6 137.5px,#a3a4cb 138.5px,#c8c1d8 139.5px,#f8c8ca 140.5px,#e3d0dc 141.5px,#f5b0b3 142.5px,#d0899b 143.5px,#6782c1 144.5px,#dccedc 145.5px,#b0a4c5 146.5px,#d5c7d8 147.5px,#dfd5e2 148.5px,#b6c3e2 149.5px,#97a6d1 150.5px,#f5b0b2 151.5px,#b9bad6 152.5px,#ebe2ea 153.5px,#c8d1e8 154.5px,#d6cadb 155.5px,#5170b9 156.5px,#778fc8 157.5px,#9fb0d8 158.5px,#7f96cb 159.5px,#6c86c3 160.5px,#95a8d4 161.5px,#8a9ecf 162.5px,#adaacc 163.5px,#6983c2 164.5px,#879cce 165.5px,#a2a5cc 166.5px,#d7bfcf 167.5px,#8da1d1 168.5px,#768fc8 169.5px)"></div>
<div style="left:226.7px;top:346.26px;width:170.0px;height:9.81px;background:linear-gradient(90deg,#e7464c 0.5px,#f39fa2 1.5px,#f4acae 2.5px,#f8c7c9 3.5px,#f5b4b7 4.5px,#efa9ae 5.5px,#f2dde1 6.5px,#e95157 7.5px,#ef7e83 8.5px,#f5b0b3 9.5px,#f6b6b8 10.5px,#f29b9f 11.5px,#ebcfd6 12.5px,#f19194 13.5px,#ddacb9 14.5px,#d27080 15.5px,#d5a3b3 16.5px,#e3bec9 17.5px,#f08d91 18.5px,#f19498 19.5px,#f3a4a7 20.5px,#f6b7ba 21.5px,#f5b4b7 22.5px,#ef858a 23.5px,#f39fa3 24.5px,#ef858a 25.5px,#f0c2c7 26.5px,#e5dfe9 27.5px,#edd7de 28.5px,#e0abb7 29.5px,#e5d1dc 30.5px,#f6d5d8 31.5px,#c8b3ca 32.5px,#f8c9cb 33.5px,#eac9d1 34.5px,#f6d8db 35.5px,#f19498 36.5px,#f9d0d2 37.5px,#ebe1e9 38.5px,#f8c8ca 39.5px,#d6c4d5 40.5px,#f19094 41.5px,#f29c9f 42.5px,#cc99ad 43.5px,#e5a1aa 44.5px,#dfe5f2 45.5px,#d58090 46.5px,#d891a0 47.5px,#9eafd8 48.5px,#9d9ac2 49.5px,#f2999d 50.5px,#dcdceb 51.5px,#d9c3d3 52.5px,#879acc 53.5px,#e6ebf5 54.5px,#dbaebc 55.5px,#df8d98 56.5px,#a5799e 57.5px,#ea5d62 58.5px,#ccc8dd 59.5px,#c9bdd4 60.5px,#f8cacc 61.5px,#d2cadd 62.5px,#bcb7d3 63.5px,#f6b8bb 64.5px,#8f96c5 65.5px,#dde3f1 66.5px,#f2bbbf 67.5px,#f39ea1 68.5px,#b984a0 69.5px,#e3b0bb 70.5px,#b7c4e2 71.5px,#929bc8 72.5px,#e0c1ce 73.5px,#d5b8c9 74.5px,#c197b0 75.5px,#f5b3b5 76.5px,#bdb7d3 77.5px,#f2999d 78.5px,#f3c1c6 79.5px,#b9c5e3 80.5px,#93a6d3 81.5px,#e3cad5 82.5px,#ddc5d2 83.5px,#9aabd6 84.5px,#e0cdda 85.5px,#f4aaad 86.5px,#eadde5 87.5px,#c1cce6 88.5px,#e5a2ab 89.5px,#f3a2a5 90.5px,#bcb2cd 91.5px,#a8b7dc 92.5px,#dfd3e0 93.5px,#bac6e3 94.5px,#8da1d1 95.5px,#dbd1e0 96.5px,#d7daea 97.5px,#dacedd 98.5px,#8195ca 99.5px,#dfb2be 100.5px,#a5b5db 101.5px,#9caed7 102.5px,#8499cd 103.5px,#6d87c4 104.5px,#5573ba 105.5px,#c9c7dd 106.5px,#cbc4d9 107.5px,#b3c0e0 108.5px,#ecdae1 109.5px,#b8c4e2 110.5px,#c3cee7 111.5px,#e7e0ea 112.5px,#8a9ccd 113.5px,#d1b3c5 114.5px,#a8b5d9 115.5px,#91a1cf 116.5px,#e4c2cc 117.5px,#c5cfe7 118.5px,#c3cee7 119.5px,#eab0b7 120.5px,#d8b2c2 121.5px,#97aad5 122.5px,#cbd4ea 123.5px,#a3b3da 124.5px,#ced3e8 125.5px,#f9d1d2 126.5px,#c3c5de 127.5px,#e0c5d1 128.5px,#dbcfdd 129.5px,#c7bfd6 130.5px,#f6c0c3 131.5px,#7871a9 132.5px,#bcc8e4 133.5px,#e1bcc8 134.5px,#c6d0e8 135.5px,#ead3dc 136.5px,#cbd4ea 137.5px,#d6c1d1 138.5px,#c2c9e3 139.5px,#e8b1b9 140.5px,#bbbfdc 141.5px,#ecced5 142.5px,#8a9fd0 143.5px,#e6eaf5 144.5px,#bbbbd8 145.5px,#e8dee7 146.5px,#ebd9e1 147.5px,#f2d6db 148.5px,#b6c3e1 149.5px,#c5cfe7 150.5px,#d0d8ec 151.5px,#adb5d7 152.5px,#d3d1e3 153.5px,#c5a0b8 154.5px,#ceb8cb 155.5px,#d1b8ca 156.5px,#c8d2e9 157.5px,#879cce 158.5px,#e8c7d0 159.5px,#f5b4b6 160.5px,#c2cbe4 161.5px,#dfe5f2 162.5px,#f0eaf0 163.5px,#f4cace 164.5px,#c2cde6 165.5px,#e9ced7 166.5px,#aab9dd 167.5px,#ecbac0 168.5px,#e4e1ec 169.5px)"></div>
<div style="left:226.7px;top:356.07px;width:170.0px;height:9.81px;background:linear-gradient(90deg,#adbcde 0.5px,#ddd3e1 1.5px,#a4b4da 2.5px,#db9fad 3.5px,#a8b7dc 4.5px,#d8c4d4 5.5px,#ded1df 6.5px,#c0cbe5 7.5px,#f2d7dc 8.5px,#e9bac2 9.5px,#b3bddd 10.5px,#fbe2e3 11.5px,#cdd2e7 12.5px,#a6b5db 13.5px,#8499cd 14.5px,#cb8da1 15.5px,#ede5ec 16.5px,#909cca 17.5px,#bbc7e3 18.5px,#cbc8dd 19.5px,#c0adc7 20.5px,#d3abbc 21.5px,#92a5d3 22.5px,#b0afcf 23.5px,#c9c6dc 24.5px,#b0bedf 25.5px,#ced6eb 26.5px,#b8c5e2 27.5px,#8f9dcc 28.5px,#f4a9ac 29.5px,#bda4bf 30.5px,#efafb4 31.5px,#acafd1 32.5px,#eec3c9 33.5px,#8ea2d1 34.5px,#c89fb5 35.5px,#c29db5 36.5px,#b3b3d2 37.5px,#f8d4d6 38.5px,#adbbde 39.5px,#a8b7dc 40.5px,#d1d9ec 41.5px,#d9d1e1 42.5px,#a791b5 43.5px,#e2cfdb 44.5px,#8298cd 45.5px,#f2aeb2 46.5px,#dcc8d6 47.5px,#f9cdcf 48.5px,#fbe1e2 49.5px,#f6b7ba 50.5px,#dab4c3 51.5px,#c189a2 52.5px,#bcb3ce 53.5px,#6681c1 54.5px,#d3dbed 55.5px,#f0dde3 56.5px,#b5c2e1 57.5px,#637fc0 58.5px,#ae98b9 59.5px,#e7d4de 60.5px,#d2c3d5 61.5px,#f4acaf 62.5px,#f7ced1 63.5px,#d9dfef 64.5px,#99abd6 65.5px,#c7d1e8 66.5px,#e6b9c3 67.5px,#eaced6 68.5px,#e8e2eb 69.5px,#9ba4ce 70.5px,#9cadd7 71.5px,#d596a6 72.5px,#e499a3 73.5px,#cfd8ec 74.5px,#849acd 75.5px,#90a3d2 76.5px,#5e7bbe 77.5px,#daa6b5 78.5px,#e8676e 79.5px,#cdd6eb 80.5px,#c2cde6 81.5px,#dbe1f0 82.5px,#a5a1c7 83.5px,#cbbbd0 84.5px,#d1c1d3 85.5px,#f9ced0 86.5px,#bda2bc 87.5px,#647fc0 88.5px,#cb99ad 89.5px,#9ca1ca 90.5px,#b8c5e2 91.5px,#dfdeeb 92.5px,#f2999c 93.5px,#ddcad8 94.5px,#dabdcb 95.5px,#aab9dd 96.5px,#ea969d 97.5px,#e95359 98.5px,#f7bec0 99.5px,#e3d5e0 100.5px,#d3aec0 101.5px,#e3d2dd 102.5px,#d0b4c7 103.5px,#abbadd 104.5px,#c7d1e8 105.5px,#f1a5aa 106.5px,#f8c8ca 107.5px,#d1d9ec 108.5px,#9eacd5 109.5px,#f7c0c3 110.5px,#f4adb0 111.5px,#f19397 112.5px,#f2979b 113.5px,#fadadb 114.5px,#ead3db 115.5px,#f8c7c9 116.5px,#f5aeb1 117.5px,#d9c6d5 118.5px,#e9ccd4 119.5px,#decfdd 120.5px,#cac3d9 121.5px,#f9d2d3 122.5px,#eddde4 123.5px,#e8adb5 124.5px,#98aad5 125.5px,#c19db6 126.5px,#9394c1 127.5px,#a4b4da 128.5px,#b2a7c7 129.5px,#c6aec5 130.5px,#ccd5ea 131.5px,#959dc9 132.5px,#eb646a 133.5px,#ed9096 134.5px,#afbddf 135.5px,#dc5f6b 136.5px,#cb8fa3 137.5px,#ddc5d3 138.5px,#f6c4c6 139.5px,#e0c0cc 140.5px,#f4a9ac 141.5px,#ef8589 142.5px,#ee9da2 143.5px,#d0d8ec 144.5px,#f0b0b5 145.5px,#ed7378 146.5px,#ccd5ea 147.5px,#e2e3ef 148.5px,#f8cacc 149.5px,#e5d1db 150.5px,#a0b1d8 151.5px,#d4d2e3 152.5px,#f7c0c2 153.5px,#d3daec 154.5px,#e9a2aa 155.5px,#f2969a 156.5px,#f5b2b4 157.5px,#e8c4cc 158.5px,#f1b2b6 159.5px,#debecb 160.5px,#f09ca0 161.5px,#f4abae 162.5px,#f4a6a9 163.5px,#f6b7b9 164.5px,#f7bdc0 165.5px,#f5adb0 166.5px,#f3a0a4 167.5px,#f6b8bb 168.5px,#f2969a 169.5px)"></div>
<div style="left:226.7px;top:365.88px;width:170.0px;height:9.81px;background:linear-gradient(90deg,#f19498 0.5px,#d8c1d0 1.5px,#ebc9d1 2.5px,#e5d9e4 3.5px,#7b93ca 4.5px,#acb5d8 5.5px,#dfdce9 6.5px,#506fb8 7.5px,#a9b8dc 8.5px,#a2b3da 9.5px,#d6bccd 10.5px,#bec9e5 11.5px,#d4b4c5 12.5px,#97aad5 13.5px,#b8c5e2 14.5px,#b7c3e1 15.5px,#c8bfd6 16.5px,#5472ba 17.5px,#becae5 18.5px,#cfcfe3 19.5px,#d2c5d7 20.5px,#718ac5 21.5px,#748cc7 22.5px,#e7b3bb 23.5px,#c9cce3 24.5px,#edc2c8 25.5px,#d4dbed 26.5px,#a4b4da 27.5px,#d8d1e1 28.5px,#c1b5cf 29.5px,#e1d1dd 30.5px,#ee8c91 31.5px,#bfcae5 32.5px,#c8cae1 33.5px,#e2c9d5 34.5px,#e6d9e3 35.5px,#dfd1de 36.5px,#cea5b8 37.5px,#7b93ca 38.5px,#bcc8e4 39.5px,#9fb0d8 40.5px,#b5c2e1 41.5px,#b5b9d8 42.5px,#f6bbbe 43.5px,#b6bcda 44.5px,#c7abc2 45.5px,#d5c9da 46.5px,#90a4d2 47.5px,#cecade 48.5px,#8695c8 49.5px,#c2cde7 50.5px,#8a9fd0 51.5px,#a4b4da 52.5px,#93a6d3 53.5px,#e2c1cd 54.5px,#dac4d2 55.5px,#e4b6c0 56.5px,#cbbacf 57.5px,#c9cee5 58.5px,#fad7d8 59.5px,#e1d7e3 60.5px,#f7c0c2 61.5px,#f3dadf 62.5px,#b5c2e1 63.5px,#c7d1e9 64.5px,#a9b2d6 65.5px,#fadbdd 66.5px,#7087c2 67.5px,#e5b8c1 68.5px,#d5daec 69.5px,#9bacd6 70.5px,#bdc9e4 71.5px,#cb6477 72.5px,#cbc8de 73.5px,#c2cae3 74.5px,#b5c2e1 75.5px,#abbadd 76.5px,#9caed7 77.5px,#9badd6 78.5px,#d99fad 79.5px,#d1cfe2 80.5px,#dccedc 81.5px,#879cce 82.5px,#eab0b8 83.5px,#a58cb1 84.5px,#f7bec0 85.5px,#d4c6d8 86.5px,#e2dae6 87.5px,#c2cde6 88.5px,#b8c5e2 89.5px,#bcbeda 90.5px,#ebdfe7 91.5px,#e1ceda 92.5px,#e4d5e0 93.5px,#fad5d6 94.5px,#e9cdd6 95.5px,#bcb7d3 96.5px,#f0878b 97.5px,#f6bbbd 98.5px,#d5dbed 99.5px,#e0cbd7 100.5px,#f29ca0 101.5px,#efaab0 102.5px,#a5b5da 103.5px,#da7a88 104.5px,#e95258 105.5px,#fad7d8 106.5px,#ed7479 107.5px,#e6929b 108.5px,#ebadb4 109.5px,#f29c9f 110.5px,#9e8fb7 111.5px,#dcc6d4 112.5px,#e2909a 113.5px,#eee5eb 114.5px,#f7bdbf 115.5px,#f5b4b7 116.5px,#ece1e9 117.5px,#ebd3db 118.5px,#e2d3df 119.5px,#dcc3d1 120.5px,#bcabc7 121.5px,#cabfd5 122.5px,#bc91ab 123.5px,#fbdedf 124.5px,#cbcadf 125.5px,#f6b9bc 126.5px,#f6b7b9 127.5px,#f6b6b9 128.5px,#b0b8d9 129.5px,#d1c7da 130.5px,#e7cbd5 131.5px,#e5ccd6 132.5px,#e4ced9 133.5px,#a9b2d6 134.5px,#f7c0c3 135.5px,#d0cfe3 136.5px,#c0cbe6 137.5px,#cbcae0 138.5px,#f9d1d2 139.5px,#f8c6c8 140.5px,#f8cacc 141.5px,#ef8287 142.5px,#f9ced0 143.5px,#fad6d7 144.5px,#dd727e 145.5px,#dfa0ac 146.5px,#f4acaf 147.5px,#ee979c 148.5px,#c4cfe7 149.5px,#e7a5ae 150.5px,#f6bcbe 151.5px,#f6b7b9 152.5px,#f2989c 153.5px,#ed7277 154.5px,#e9d4dc 155.5px,#e5adb7 156.5px,#f0898d 157.5px,#edcad1 158.5px,#cec9dd 159.5px,#f7bec1 160.5px,#f6babc 161.5px,#d9b9c8 162.5px,#f4acaf 163.5px,#f0888c 164.5px,#ec686d 165.5px,#f4a8ab 166.5px,#f3a0a3 167.5px,#e9545a 168.5px,#f29a9d 169.5px)"></div>
<div style="left:226.7px;top:375.68px;width:170.0px;height:9.81px;background:linear-gradient(90deg,#a5b5db 0.5px,#b6c0de 1.5px,#f4aaad 2.5px,#b8adca 3.5px,#dfc6d3 4.5px,#f3d6db 5.5px,#eed3da 6.5px,#7d93c9 7.5px,#748cc7 8.5px,#a8b8dc 9.5px,#b9c5e3 10.5px,#eed5db 11.5px,#f9d1d3 12.5px,#e6dfe9 13.5px,#e19ea9 14.5px,#bbc7e4 15.5px,#b8c5e2 16.5px,#bbc4e1 17.5px,#f8c5c7 18.5px,#b7a2c0 19.5px,#f39fa3 20.5px,#b4bbda 21.5px,#9fb0d8 22.5px,#879cce 23.5px,#a0abd3 24.5px,#dfc0cc 25.5px,#e3bfcb 26.5px,#b4c1e1 27.5px,#ecdfe6 28.5px,#eec9d0 29.5px,#c7b2c9 30.5px,#f7cfd1 31.5px,#dbb9c8 32.5px,#f1b6ba 33.5px,#97aad5 34.5px,#b3c1e0 35.5px,#94a7d4 36.5px,#9c96bf 37.5px,#d7c2d3 38.5px,#c398b0 39.5px,#e0bdc9 40.5px,#f6bbbd 41.5px,#f7bec1 42.5px,#baa2be 43.5px,#e1c6d2 44.5px,#b1bfdf 45.5px,#d8d7e7 46.5px,#d7d7e8 47.5px,#c5cfe7 48.5px,#f8e5e8 49.5px,#e5d6e0 50.5px,#f6dfe2 51.5px,#bbb3cf 52.5px,#ecd2da 53.5px,#e8b1b9 54.5px,#96a9d5 55.5px,#c4cee7 56.5px,#a7b7db 57.5px,#acabcd 58.5px,#f4adaf 59.5px,#f4d8dc 60.5px,#ced7eb 61.5px,#e6cbd4 62.5px,#7976ae 63.5px,#ebdbe4 64.5px,#e198a3 65.5px,#a1b1d9 66.5px,#cfd7ec 67.5px,#ddb9c6 68.5px,#f8c9cb 69.5px,#ec8086 70.5px,#dae0f0 71.5px,#dbe2f1 72.5px,#d4c2d3 73.5px,#d7808e 74.5px,#b2c0e0 75.5px,#e19ba6 76.5px,#cacee4 77.5px,#bd627c 78.5px,#d8b8c7 79.5px,#b88aa7 80.5px,#d1bccf 81.5px,#ef8185 82.5px,#c3bfd8 83.5px,#f9ced0 84.5px,#dce2f1 85.5px,#e79ea7 86.5px,#e6b0ba 87.5px,#f0aeb3 88.5px,#dde3f1 89.5px,#eae0e8 90.5px,#c7bad1 91.5px,#edc3ca 92.5px,#d9dfef 93.5px,#d7deef 94.5px,#e0a2ad 95.5px,#d0aec1 96.5px,#f9ccce 97.5px,#b69dbb 98.5px,#eab8c0 99.5px,#f0ced4 100.5px,#c2cde6 101.5px,#e8c8d1 102.5px,#d5dcee 103.5px,#e9bcc4 104.5px,#c2cde6 105.5px,#f0b1b6 106.5px,#e7e1ea 107.5px,#c1aac3 108.5px,#ddc2cf 109.5px,#ddb9c7 110.5px,#adb4d6 111.5px,#f6b9bc 112.5px,#c6c7df 113.5px,#afbddf 114.5px,#c4cfe7 115.5px,#f4dbdf 116.5px,#f6babc 117.5px,#f8dddf 118.5px,#b9c5e3 119.5px,#ced7eb 120.5px,#d7aaba 121.5px,#f2979a 122.5px,#f7bdc0 123.5px,#ee7d81 124.5px,#cec6da 125.5px,#a1b2d9 126.5px,#d8c4d4 127.5px,#d6cdde 128.5px,#b1bcdd 129.5px,#a0b1d8 130.5px,#c1cce6 131.5px,#cdd6eb 132.5px,#b1a3c4 133.5px,#f8c8ca 134.5px,#eb6268 135.5px,#ccb1c6 136.5px,#d0bacd 137.5px,#f6d2d5 138.5px,#b6b0cf 139.5px,#ee797d 140.5px,#f2c0c4 141.5px,#c5cfe7 142.5px,#c3cee7 143.5px,#c9d2e9 144.5px,#b4c1e1 145.5px,#b5c2e1 146.5px,#d8d6e6 147.5px,#f7d0d2 148.5px,#efe4ea 149.5px,#f8c5c7 150.5px,#af9fc1 151.5px,#c4cee7 152.5px,#d0bfd2 153.5px,#f29b9e 154.5px,#b499b7 155.5px,#f4a7aa 156.5px,#ef8387 157.5px,#f6b8bb 158.5px,#f3a4a7 159.5px,#f29da0 160.5px,#e7444a 161.5px,#e9555b 162.5px,#e95359 163.5px,#f5adb0 164.5px,#e63d44 165.5px,#f2989b 166.5px,#ee767b 167.5px,#ed7579 168.5px,#f29da0 169.5px)"></div>
<div style="left:226.7px;top:385.49px;width:170.0px;height:9.81px;background:linear-gradient(90deg,#d8deef 0.5px,#ead2da 1.5px,#ed7176 2.5px,#f8c6c8 3.5px,#f29699 4.5px,#cdc9de 5.5px,#cac1d7 6.5px,#f5afb1 7.5px,#e8d3dc 8.5px,#eab7bf 9.5px,#f4d7db 10.5px,#f9d1d3 11.5px,#f8cccd 12.5px,#ddc3d0 13.5px,#eb7b81 14.5px,#ec676c 15.5px,#f8c8ca 16.5px,#f3ccd0 17.5px,#d5ddee 18.5px,#f1abb0 19.5px,#f0e4ea 20.5px,#b6a9c7 21.5px,#d6b9ca 22.5px,#ea5c62 23.5px,#ba8ba7 24.5px,#e1cbd7 25.5px,#e2727c 26.5px,#ed757a 27.5px,#9e93bb 28.5px,#bab6d3 29.5px,#d7b6c6 30.5px,#dfd0dd 31.5px,#e2a7b2 32.5px,#b9b8d6 33.5px,#f4adb0 34.5px,#e9acb4 35.5px,#e2d2dd 36.5px,#cc768a 37.5px,#cba5b9 38.5px,#f6b6b9 39.5px,#f2989c 40.5px,#d7c2d3 41.5px,#e38993 42.5px,#f0888c 43.5px,#f0888c 44.5px,#f3a4a7 45.5px,#f29da0 46.5px,#f6babd 47.5px,#f5b1b4 48.5px,#dacfde 49.5px,#e8d2db 50.5px,#eea8ae 51.5px,#e78c94 52.5px,#f8c6c8 53.5px,#d1bfd2 54.5px,#a8b7dc 55.5px,#e5b1bb 56.5px,#c98196 57.5px,#e8a8b1 58.5px,#dcbcca 59.5px,#f7bfc1 60.5px,#e7c4cd 61.5px,#eabac2 62.5px,#babcd8 63.5px,#f39fa3 64.5px,#d2ccde 65.5px,#f5b3b6 66.5px,#f19598 67.5px,#f6bcbe 68.5px,#fad8da 69.5px,#f8c9cb 70.5px,#f4a8ab 71.5px,#fadbdc 72.5px,#f7c3c5 73.5px,#e7e2ec 74.5px,#e27680 75.5px,#aaa1c4 76.5px,#f3a4a7 77.5px,#f7bfc1 78.5px,#f2989c 79.5px,#f2969a 80.5px,#e9d6df 81.5px,#f29c9f 82.5px,#df94a0 83.5px,#debbc8 84.5px,#bca3be 85.5px,#7e78ae 86.5px,#a5abd1 87.5px,#e0deea 88.5px,#f8c9cb 89.5px,#e7a9b1 90.5px,#c5cfe7 91.5px,#d3dbed 92.5px,#d4d2e3 93.5px,#e74249 94.5px,#f5b5b7 95.5px,#e5bac4 96.5px,#c5cfe7 97.5px,#93a6d3 98.5px,#f1b7bb 99.5px,#ece4ec 100.5px,#aebdde 101.5px,#a7b1d6 102.5px,#ddc9d7 103.5px,#d5c7d8 104.5px,#9fb0d8 105.5px,#aca3c5 106.5px,#f7bec0 107.5px,#bbc7e3 108.5px,#cacfe4 109.5px,#ebc9d0 110.5px,#b9c5e2 111.5px,#e7d6e0 112.5px,#f8c9cb 113.5px,#fbe0e1 114.5px,#eab4bc 115.5px,#bdc8e4 116.5px,#e8ecf6 117.5px,#c7cde4 118.5px,#cec5d9 119.5px,#a2b2d9 120.5px,#efe3ea 121.5px,#cb8fa3 122.5px,#b8c4e2 123.5px,#fbe0e1 124.5px,#e8e1eb 125.5px,#cfc9dd 126.5px,#e9d3db 127.5px,#efe5eb 128.5px,#a0b1d8 129.5px,#e3d0dc 130.5px,#d3daed 131.5px,#eec2c8 132.5px,#d08b9d 133.5px,#8ca0d0 134.5px,#c7a7bd 135.5px,#fad4d6 136.5px,#b9b3d0 137.5px,#efa9ae 138.5px,#b6b6d4 139.5px,#bcc8e4 140.5px,#c1bbd5 141.5px,#ea5a60 142.5px,#d8aebd 143.5px,#a6b6db 144.5px,#c0adc7 145.5px,#dfc0cc 146.5px,#dcc3d1 147.5px,#e5d0db 148.5px,#e9dee7 149.5px,#bdc9e4 150.5px,#d2c8da 151.5px,#e6d9e3 152.5px,#b3c0e0 153.5px,#8ea2d1 154.5px,#c3cde7 155.5px,#c5cfe7 156.5px,#acbbdd 157.5px,#9daed7 158.5px,#a5b5da 159.5px,#5c79bd 160.5px,#8b76a6 161.5px,#f6babc 162.5px,#bfb3ce 163.5px,#c9c0d7 164.5px,#6984c2 165.5px,#9cadd7 166.5px,#adbcde 167.5px,#9daed7 168.5px,#4566b4 169.5px)"></div>
<div style="left:453.4px;top:277.60px;width:169.6px;height:9.81px;background:linear-gradient(90deg,#acbbdd 0.5px,#cebcd0 1.5px,#9daed7 2.5px,#c5bdd5 3.5px,#d8b3c2 4.5px,#b3adcd 5.5px,#dfcfdc 6.5px,#bca9c5 7.5px,#cacee4 8.5px,#bcb5d1 9.5px,#d7bccc 10.5px,#ead0d9 11.5px,#a7afd4 12.5px,#8a9fd0 13.5px,#dbd6e5 14.5px,#e6dbe5 15.5px,#a4a5cb 16.5px,#d2bfd2 17.5px,#d8d4e4 18.5px,#dacddc 19.5px,#d4c8d9 20.5px,#d7cdde 21.5px,#a6b6db 22.5px,#c4bad3 23.5px,#a0b1d9 24.5px,#c3c7e0 25.5px,#adbbde 26.5px,#e5c0ca 27.5px,#dbbecc 28.5px,#d1bcce 29.5px,#f2d6db 30.5px,#d6c9d9 31.5px,#cecadf 32.5px,#d3cee0 33.5px,#ebc4cb 34.5px,#e1c6d2 35.5px,#abbadd 36.5px,#f1d8de 37.5px,#cbcae0 38.5px,#d0a2b4 39.5px,#cac8de 40.5px,#b49dbb 41.5px,#eaced6 42.5px,#cea8bb 43.5px,#d1c2d4 44.5px,#c8cae1 45.5px,#e9d7df 46.5px,#d4dbee 47.5px,#d8b8c7 48.5px,#d697a6 49.5px,#d3d4e6 50.5px,#c2a3bc 51.5px,#bfcae5 52.5px,#e5bec8 53.5px,#d0bdd0 54.5px,#d6ddee 55.5px,#ead5de 56.5px,#e0d6e3 57.5px,#ecd6dd 58.5px,#e1a4af 59.5px,#e0c1cd 60.5px,#c6c2da 61.5px,#f7c0c2 62.5px,#a894b7 63.5px,#b0bedf 64.5px,#9badd7 65.5px,#d4cddf 66.5px,#cdcee3 67.5px,#d5a3b3 68.5px,#b1bbdc 69.5px,#d7b4c4 70.5px,#c5cde5 71.5px,#d7a7b7 72.5px,#cfc1d4 73.5px,#a4b4da 74.5px,#d1c2d5 75.5px,#bfc2dc 76.5px,#d2b1c3 77.5px,#e3dae6 78.5px,#d8c5d5 79.5px,#99abd6 80.5px,#e0dfec 81.5px,#dad7e7 82.5px,#c2bcd5 83.5px,#d7ccdd 84.5px,#adb9db 85.5px,#deb5c2 86.5px,#b2c0e0 87.5px,#dac4d3 88.5px,#d8cfdf 89.5px,#e6b9c2 90.5px,#e9bcc4 91.5px,#b1bfe0 92.5px,#e9cad3 93.5px,#d4b3c4 94.5px,#f19195 95.5px,#f3d5da 96.5px,#f5adb0 97.5px,#d7cfe0 98.5px,#f0c4c9 99.5px,#f6bbbe 100.5px,#c8c0d7 101.5px,#f1d7dc 102.5px,#f0cbd0 103.5px,#ddb8c6 104.5px,#eabec6 105.5px,#f19094 106.5px,#e7bcc5 107.5px,#e0b1bd 108.5px,#f6bcbf 109.5px,#f6b5b7 110.5px,#dcd2e1 111.5px,#d8cddd 112.5px,#eed0d6 113.5px,#e9c3cb 114.5px,#e5c8d2 115.5px,#ceb2c6 116.5px,#e2aeb9 117.5px,#f9ced0 118.5px,#d5acbd 119.5px,#c4afc7 120.5px,#cad4ea 121.5px,#e6dde7 122.5px,#d8c2d1 123.5px,#e7c7d0 124.5px,#e8bec7 125.5px,#f7c2c4 126.5px,#f2c9ce 127.5px,#d7a7b6 128.5px,#e0cedb 129.5px,#dccbd9 130.5px,#e0dae7 131.5px,#c5a7be 132.5px,#eec6cc 133.5px,#d9a8b6 134.5px,#e5c7d1 135.5px,#f2c8cd 136.5px,#e2a9b3 137.5px,#e1cad6 138.5px,#f3bbbe 139.5px,#ed878c 140.5px,#e6bdc7 141.5px,#cfcce0 142.5px,#f1d1d6 143.5px,#d8b4c3 144.5px,#f1ccd1 145.5px,#f6b9bb 146.5px,#e9bfc7 147.5px,#f6b7b9 148.5px,#d9b4c3 149.5px,#dfb6c2 150.5px,#f5d6d9 151.5px,#d9a2b0 152.5px,#ceb4c8 153.5px,#ecd4db 154.5px,#f4c0c3 155.5px,#abadd0 156.5px,#f19397 157.5px,#f4a9ac 158.5px,#f08c90 159.5px,#daabba 160.5px,#ef8287 161.5px,#f19195 162.5px,#f5b2b4 163.5px,#e7a6af 164.5px,#dfc0cd 165.5px,#e4a1ab 166.5px,#f1a7ac 167.5px,#f6b5b7 168.5px,#cab6cb 169.5px)"></div>
<div style="left:453.4px;top:287.41px;width:169.6px;height:9.81px;background:linear-gradient(90deg,#f3a4a7 0.5px,#efc8ce 1.5px,#ec6a6f 2.5px,#f6bcbe 3.5px,#f5b1b4 4.5px,#f5b2b5 5.5px,#e6c8d1 6.5px,#f4a5a8 7.5px,#f18f93 8.5px,#ecc9d0 9.5px,#f2999d 10.5px,#f5b4b7 11.5px,#e5a5af 12.5px,#e9c2ca 13.5px,#f5aeb1 14.5px,#f0878b 15.5px,#f4a7aa 16.5px,#e8b4bc 17.5px,#f1c7cc 18.5px,#ef8084 19.5px,#edb1b7 20.5px,#dec5d2 21.5px,#d4c2d4 22.5px,#f6b9bb 23.5px,#f7bdbf 24.5px,#e7aab3 25.5px,#f29b9f 26.5px,#f4adb0 27.5px,#f7bec1 28.5px,#f29b9f 29.5px,#edbbc2 30.5px,#f3a2a5 31.5px,#d78998 32.5px,#d092a4 33.5px,#f2d4d9 34.5px,#f3a1a5 35.5px,#d895a3 36.5px,#c9b0c6 37.5px,#f5b0b3 38.5px,#ebb1b8 39.5px,#f5afb2 40.5px,#e9bdc6 41.5px,#f4c5c9 42.5px,#e3c1cc 43.5px,#f5cfd3 44.5px,#dea3b0 45.5px,#de96a2 46.5px,#ecb6bc 47.5px,#f3a3a6 48.5px,#e1aeb9 49.5px,#eacfd7 50.5px,#ebb8bf 51.5px,#f4a6a9 52.5px,#eca5ac 53.5px,#d3d3e5 54.5px,#f5c6c9 55.5px,#ee7b80 56.5px,#dcb1be 57.5px,#cebbcf 58.5px,#e8adb5 59.5px,#eaa8af 60.5px,#f3a0a3 61.5px,#edc5cc 62.5px,#f7bec0 63.5px,#cca3b8 64.5px,#edc8ce 65.5px,#d9808e 66.5px,#d8c2d2 67.5px,#e9d3dc 68.5px,#f3a1a4 69.5px,#e8b0b9 70.5px,#f6bbbe 71.5px,#e9a9b1 72.5px,#ebadb4 73.5px,#ead4dd 74.5px,#ecafb5 75.5px,#e9b5bd 76.5px,#efa3a8 77.5px,#cbbacf 78.5px,#e1b9c5 79.5px,#d8bbca 80.5px,#ebd4dc 81.5px,#e3c9d4 82.5px,#ebc3ca 83.5px,#d4c4d5 84.5px,#f7c3c5 85.5px,#ecc1c8 86.5px,#f7c3c6 87.5px,#f4acaf 88.5px,#d9cddc 89.5px,#c7c0d7 90.5px,#f3a4a7 91.5px,#f39fa3 92.5px,#c6c8e0 93.5px,#cec6da 94.5px,#c99bb0 95.5px,#e4d0da 96.5px,#e0cbd7 97.5px,#cecbdf 98.5px,#d7c7d7 99.5px,#e0deea 100.5px,#cad3ea 101.5px,#d0abbd 102.5px,#dac6d5 103.5px,#cc9eb2 104.5px,#dccbda 105.5px,#dee4f2 106.5px,#e2dfeb 107.5px,#b6b6d5 108.5px,#b0bedf 109.5px,#d9bdcc 110.5px,#ecb2b9 111.5px,#d4bdcf 112.5px,#e4dbe6 113.5px,#d8cfdf 114.5px,#f0c5ca 115.5px,#c7c3da 116.5px,#c6bfd7 117.5px,#d0bbce 118.5px,#d6ddee 119.5px,#d3cbdd 120.5px,#aeb5d6 121.5px,#d0d0e4 122.5px,#c9b8ce 123.5px,#b6b5d3 124.5px,#dbd2e0 125.5px,#e1c7d3 126.5px,#ecd2d9 127.5px,#c1b9d2 128.5px,#c7abc1 129.5px,#ebd1d9 130.5px,#cdb9cd 131.5px,#eac6cd 132.5px,#98a9d4 133.5px,#cccce1 134.5px,#babedb 135.5px,#90a4d2 136.5px,#eadfe7 137.5px,#f6b7ba 138.5px,#d5d2e3 139.5px,#aab9dc 140.5px,#d6ddee 141.5px,#c7c9e0 142.5px,#e5d6e0 143.5px,#c9c4db 144.5px,#a7b7db 145.5px,#d4cee0 146.5px,#dbd7e6 147.5px,#b9b2cf 148.5px,#cec2d7 149.5px,#dce2f1 150.5px,#ceb7cb 151.5px,#8fa3d2 152.5px,#bfcae5 153.5px,#d3dbed 154.5px,#e6d3dd 155.5px,#d2d3e5 156.5px,#90a3d2 157.5px,#6e88c4 158.5px,#8ea2d1 159.5px,#9da7d1 160.5px,#a1b2d9 161.5px,#8697ca 162.5px,#cecadf 163.5px,#c4b8d1 164.5px,#bebcd7 165.5px,#7a92c9 166.5px,#9bacd6 167.5px,#a0afd7 168.5px,#b4adcc 169.5px)"></div>
<div style="left:453.4px;top:297.22px;width:169.6px;height:9.81px;background:linear-gradient(90deg,#b3b3d2 0.5px,#7f95cb 1.5px,#cfc8db 2.5px,#d3cddf 3.5px,#cfd7eb 4.5px,#8499cd 5.5px,#c1b9d3 6.5px,#ded6e4 7.5px,#efd0d6 8.5px,#d9d0df 9.5px,#a5b5db 10.5px,#d8daea 11.5px,#b9c4e1 12.5px,#bcc8e4 13.5px,#d6becf 14.5px,#adb4d7 15.5px,#c3bad3 16.5px,#b9c6e3 17.5px,#9cadd7 18.5px,#d2daed 19.5px,#e5e9f4 20.5px,#8096cc 21.5px,#c5bbd3 22.5px,#d6c4d5 23.5px,#d4cddf 24.5px,#dbd4e3 25.5px,#c0cbe6 26.5px,#96a9d5 27.5px,#e9cad3 28.5px,#d5c8d9 29.5px,#9eafd8 30.5px,#c4cfe7 31.5px,#b2b7d7 32.5px,#d4d8ea 33.5px,#c3cde7 34.5px,#e3d6e1 35.5px,#92a5d3 36.5px,#d9c3d2 37.5px,#d2d0e3 38.5px,#dac3d2 39.5px,#bcc8e4 40.5px,#cabacf 41.5px,#c2c9e2 42.5px,#d8b8c7 43.5px,#c9adc3 44.5px,#acbadd 45.5px,#b6b0ce 46.5px,#cdc2d7 47.5px,#dec9d6 48.5px,#c4cee7 49.5px,#b3b7d7 50.5px,#d7d3e3 51.5px,#c2c6e0 52.5px,#d1d3e6 53.5px,#b9c5e3 54.5px,#afb3d4 55.5px,#a1b2d9 56.5px,#dac8d7 57.5px,#c6c8e0 58.5px,#f2d5da 59.5px,#b5a7c5 60.5px,#d4c7d9 61.5px,#9191bf 62.5px,#ecc6cd 63.5px,#d4dcee 64.5px,#a7b7db 65.5px,#eadee7 66.5px,#cdd5eb 67.5px,#ead7e0 68.5px,#c1b7d0 69.5px,#f1a9ad 70.5px,#abbadd 71.5px,#d4c9da 72.5px,#b6c3e1 73.5px,#cbb5c9 74.5px,#d9d0e0 75.5px,#d4b7c8 76.5px,#c5bdd5 77.5px,#e3b9c4 78.5px,#d9c4d3 79.5px,#e9d6df 80.5px,#ced7eb 81.5px,#d0d8ec 82.5px,#e2cfdb 83.5px,#c2cae4 84.5px,#c6bfd6 85.5px,#f1aeb2 86.5px,#c3cee7 87.5px,#c4cee7 88.5px,#d0c9dd 89.5px,#f0dae0 90.5px,#efd0d6 91.5px,#ced7eb 92.5px,#ebc8d0 93.5px,#f1b1b5 94.5px,#e49ea8 95.5px,#f4adb0 96.5px,#d9cfde 97.5px,#ddd2e0 98.5px,#c9d2e9 99.5px,#eeccd2 100.5px,#aea9ca 101.5px,#ea9097 102.5px,#f39ea1 103.5px,#ecbcc3 104.5px,#d5c1d2 105.5px,#ecc3ca 106.5px,#eae6ef 107.5px,#edaeb5 108.5px,#e6afb8 109.5px,#f2d5da 110.5px,#e6bec8 111.5px,#f9ced0 112.5px,#ead4dc 113.5px,#e2a4af 114.5px,#dd9aa7 115.5px,#ddb1be 116.5px,#f4c2c6 117.5px,#f3a4a7 118.5px,#efbec4 119.5px,#e8b6bf 120.5px,#ecb8bf 121.5px,#c4b4cd 122.5px,#deb8c5 123.5px,#e7c9d2 124.5px,#f6b9bb 125.5px,#ebaab1 126.5px,#e9c6ce 127.5px,#e9c7d0 128.5px,#f5b4b6 129.5px,#f9d0d1 130.5px,#e5dbe6 131.5px,#e6bdc7 132.5px,#c7c5dd 133.5px,#f3dbdf 134.5px,#f2b5b9 135.5px,#eabfc7 136.5px,#e2dbe7 137.5px,#d3d5e8 138.5px,#ef9da2 139.5px,#e0d3e0 140.5px,#cbabc0 141.5px,#f19397 142.5px,#dcc8d6 143.5px,#f0bdc3 144.5px,#ccb3c8 145.5px,#edd7de 146.5px,#f7c0c2 147.5px,#e69ba4 148.5px,#c5b9d1 149.5px,#eca6ac 150.5px,#e5ced8 151.5px,#e6b7c1 152.5px,#ec7a80 153.5px,#c9cce2 154.5px,#d895a4 155.5px,#f3a0a3 156.5px,#f8c4c6 157.5px,#ebc0c7 158.5px,#f4acaf 159.5px,#f3a5a8 160.5px,#b88aa6 161.5px,#f8ccce 162.5px,#d293a4 163.5px,#e99fa7 164.5px,#f1c8cd 165.5px,#e2aab5 166.5px,#eabcc4 167.5px,#f0979b 168.5px,#eac0c8 169.5px)"></div>
<div style="left:453.4px;top:307.03px;width:169.6px;height:9.81px;background:linear-gradient(90deg,#d5d9ea 0.5px,#eac7cf 1.5px,#d6a9b9 2.5px,#bfb8d2 3.5px,#d1d3e6 4.5px,#c7bcd3 5.5px,#b6b7d5 6.5px,#edbec4 7.5px,#cbd2e7 8.5px,#aeacce 9.5px,#e1d7e3 10.5px,#efd4da 11.5px,#a6afd5 12.5px,#ebe4ec 13.5px,#c7c9e0 14.5px,#a0b0d8 15.5px,#d5d3e4 16.5px,#ddadbb 17.5px,#9daed7 18.5px,#e6d7e1 19.5px,#c6c4db 20.5px,#bb9eb9 21.5px,#e6c7d0 22.5px,#e3aeb9 23.5px,#8298cc 24.5px,#aebdde 25.5px,#bfcae5 26.5px,#b0bedf 27.5px,#d1b8cb 28.5px,#afbdde 29.5px,#ddc0cd 30.5px,#afbddf 31.5px,#b4c1e1 32.5px,#f6cccf 33.5px,#a5b2d8 34.5px,#b7a3c0 35.5px,#e5dae4 36.5px,#dbdeed 37.5px,#dddae8 38.5px,#e3d9e4 39.5px,#bda9c4 40.5px,#b3aaca 41.5px,#b8c5e2 42.5px,#debac7 43.5px,#c2c0d9 44.5px,#c4b7d0 45.5px,#ddb4c1 46.5px,#e3b6c0 47.5px,#d9c1d0 48.5px,#e9dae3 49.5px,#acbbde 50.5px,#a296bc 51.5px,#c7afc6 52.5px,#c2bfd8 53.5px,#cbbed4 54.5px,#c998ae 55.5px,#c4cce5 56.5px,#ebbac1 57.5px,#cac8de 58.5px,#d9e0f0 59.5px,#cacce2 60.5px,#d7bbcb 61.5px,#f3dbdf 62.5px,#f19397 63.5px,#ebbbc3 64.5px,#d5d4e5 65.5px,#cab7cc 66.5px,#b7bad8 67.5px,#bdc9e4 68.5px,#baadc9 69.5px,#b3bddd 70.5px,#d9cad9 71.5px,#e1bfcb 72.5px,#edd7de 73.5px,#b6c3e2 74.5px,#efb9be 75.5px,#c0c5e0 76.5px,#e5bdc7 77.5px,#cdbdd1 78.5px,#e0b4c0 79.5px,#d49aab 80.5px,#b7bbd9 81.5px,#d1d9ec 82.5px,#d3dbed 83.5px,#f0c3c9 84.5px,#e3c1cc 85.5px,#c6d0e8 86.5px,#d0aabc 87.5px,#bdc9e4 88.5px,#dcbfcd 89.5px,#f8c9cb 90.5px,#dfa8b4 91.5px,#e3d7e2 92.5px,#ee9ba1 93.5px,#c9c3d9 94.5px,#e7a8b1 95.5px,#e5d6e1 96.5px,#b3b3d2 97.5px,#e3cdd8 98.5px,#d6a5b5 99.5px,#bfb8d3 100.5px,#f8cacc 101.5px,#edb9bf 102.5px,#ecd9e1 103.5px,#f6b5b8 104.5px,#baafcc 105.5px,#ebc7ce 106.5px,#eea2a8 107.5px,#edc8cf 108.5px,#f2b8bc 109.5px,#f2cdd2 110.5px,#e6b5bf 111.5px,#e7b7c0 112.5px,#e5c1cb 113.5px,#d2b3c5 114.5px,#ddcad8 115.5px,#c2aec7 116.5px,#f1d0d5 117.5px,#f5b0b2 118.5px,#eae3eb 119.5px,#fbdcdd 120.5px,#f0b6bb 121.5px,#d29aac 122.5px,#c79ab1 123.5px,#f3a4a7 124.5px,#d5afc0 125.5px,#f3b3b6 126.5px,#e9c2ca 127.5px,#efc1c6 128.5px,#ebb9c0 129.5px,#f5b3b5 130.5px,#d7c3d3 131.5px,#e1aab5 132.5px,#e6b2bb 133.5px,#dab0bf 134.5px,#edb7bd 135.5px,#dc96a3 136.5px,#efc0c6 137.5px,#cfd3e7 138.5px,#c4829a 139.5px,#d999a7 140.5px,#e8c8d1 141.5px,#f6b8bb 142.5px,#e99da5 143.5px,#e8cbd4 144.5px,#f0d8de 145.5px,#dbd7e6 146.5px,#d9abba 147.5px,#f2c4c8 148.5px,#d7cfe0 149.5px,#e0c0cc 150.5px,#ccb5ca 151.5px,#a9b8dc 152.5px,#efaeb3 153.5px,#e0bfcc 154.5px,#cac4da 155.5px,#eed1d7 156.5px,#cbcae0 157.5px,#f5adb0 158.5px,#ef7f83 159.5px,#f3a1a4 160.5px,#d1bfd2 161.5px,#e9d2da 162.5px,#f0868b 163.5px,#f29b9e 164.5px,#ebd7df 165.5px,#e8d4dd 166.5px,#e8ced7 167.5px,#f4adb0 168.5px,#f5b0b2 169.5px)"></div>
<div style="left:453.4px;top:316.83px;width:169.6px;height:9.81px;background:linear-gradient(90deg,#e7c3cc 0.5px,#f5b4b7 1.5px,#f4c5c8 2.5px,#e7d4dd 3.5px,#e4c3ce 4.5px,#f8c4c6 5.5px,#dca0ad 6.5px,#c3a5bd 7.5px,#d2c6d9 8.5px,#f7c2c4 9.5px,#f5d4d7 10.5px,#f2b3b7 11.5px,#f4a5a9 12.5px,#cdbfd4 13.5px,#f5b4b7 14.5px,#efa0a5 15.5px,#c6bed5 16.5px,#e3a5b0 17.5px,#e5b6c0 18.5px,#dfa2ae 19.5px,#ebdde5 20.5px,#e2a7b2 21.5px,#f08b90 22.5px,#f19094 23.5px,#bdbbd6 24.5px,#f29da1 25.5px,#f2969a 26.5px,#f7bec0 27.5px,#d08d9f 28.5px,#d6c9d9 29.5px,#deb8c5 30.5px,#d5c6d7 31.5px,#ebd2da 32.5px,#f5b1b4 33.5px,#f8c7c9 34.5px,#f1a8ad 35.5px,#e5cfd9 36.5px,#eec0c6 37.5px,#edccd3 38.5px,#ecbac1 39.5px,#e8b8c0 40.5px,#d7c8d9 41.5px,#f2afb3 42.5px,#e6bac4 43.5px,#c5acc3 44.5px,#f3a2a6 45.5px,#efbbc1 46.5px,#f3a0a3 47.5px,#f1c8cd 48.5px,#f4adaf 49.5px,#f6bbbe 50.5px,#ef8489 51.5px,#f4a8ac 52.5px,#f4aaad 53.5px,#e5bfc9 54.5px,#f3a4a8 55.5px,#edbac0 56.5px,#dfd4e1 57.5px,#ccbbd0 58.5px,#ed8f95 59.5px,#d9c9d8 60.5px,#d0b4c7 61.5px,#f1b1b5 62.5px,#d9d2e2 63.5px,#efccd2 64.5px,#e1c1cd 65.5px,#e5abb4 66.5px,#f3a4a7 67.5px,#e3bfca 68.5px,#d5cadb 69.5px,#c4bdd6 70.5px,#f39ea1 71.5px,#ebb6bd 72.5px,#bf9fb9 73.5px,#ebabb2 74.5px,#eaafb7 75.5px,#f3a3a6 76.5px,#f19598 77.5px,#f4dce0 78.5px,#d18d9f 79.5px,#d9c8d8 80.5px,#edcfd6 81.5px,#f4aaad 82.5px,#f19094 83.5px,#e9bbc4 84.5px,#e5abb5 85.5px,#daabba 86.5px,#dd7e8a 87.5px,#e4cad4 88.5px,#dac9d7 89.5px,#cbc7dc 90.5px,#edc9d0 91.5px,#bdbed9 92.5px,#aeafd1 93.5px,#f2bfc4 94.5px,#d4d1e2 95.5px,#c0c0da 96.5px,#c1c1db 97.5px,#c1bfd9 98.5px,#baabc8 99.5px,#e5dce7 100.5px,#d2c9db 101.5px,#b2a6c5 102.5px,#d5aebf 103.5px,#b0bdde 104.5px,#c2bcd5 105.5px,#e2b9c4 106.5px,#ab9dbf 107.5px,#acb1d4 108.5px,#95a7d4 109.5px,#aebcde 110.5px,#d3b2c4 111.5px,#b0bdde 112.5px,#cac1d7 113.5px,#bfb5d0 114.5px,#d9cddd 115.5px,#b1b1d1 116.5px,#cdb6ca 117.5px,#cdb4c9 118.5px,#718ac5 119.5px,#9eb0d8 120.5px,#bac2df 121.5px,#c7c4db 122.5px,#ccb8cd 123.5px,#99abd6 124.5px,#aaaacd 125.5px,#a1b1d9 126.5px,#c6bbd2 127.5px,#ddddec 128.5px,#bec1dc 129.5px,#d9cddc 130.5px,#b5c0df 131.5px,#b4c2e1 132.5px,#c9d3e9 133.5px,#dae1f0 134.5px,#aab5d8 135.5px,#bbc1dd 136.5px,#b3c0e0 137.5px,#aab9dd 138.5px,#d1c4d6 139.5px,#b9c5e3 140.5px,#b2bfe0 141.5px,#b5b3d2 142.5px,#adaed0 143.5px,#bdc8e4 144.5px,#d8d6e7 145.5px,#c5d0e8 146.5px,#b0abcc 147.5px,#7e94cb 148.5px,#e8c8d1 149.5px,#e7d4dd 150.5px,#b5c2e1 151.5px,#bcb8d4 152.5px,#a99abe 153.5px,#8fa2d1 154.5px,#aab9dd 155.5px,#e9d8e0 156.5px,#cac8de 157.5px,#bac6e3 158.5px,#b4c1e0 159.5px,#baa8c5 160.5px,#bfcae5 161.5px,#8ea2d1 162.5px,#a39ac0 163.5px,#9ca3cc 164.5px,#b5c2e1 165.5px,#99abd6 166.5px,#d7c8d9 167.5px,#c4c4dc 168.5px,#92a5d3 169.5px)"></div>
<div style="left:453.4px;top:326.64px;width:169.6px;height:9.81px;background:linear-gradient(90deg,#f3a4a7 0.5px,#e8c4cd 1.5px,#f8cacc 2.5px,#f6bbbe 3.5px,#d08496 4.5px,#eec4ca 5.5px,#d0d6ea 6.5px,#f6b7b9 7.5px,#ecd2d9 8.5px,#f4d1d5 9.5px,#f19295 10.5px,#f29b9f 11.5px,#f5b4b7 12.5px,#f6b5b7 13.5px,#e9abb2 14.5px,#e7a7af 15.5px,#ddb2c0 16.5px,#e4b7c1 17.5px,#e7c2cb 18.5px,#f08b8f 19.5px,#f4abae 20.5px,#f9d2d4 21.5px,#f6b5b7 22.5px,#e2bdc8 23.5px,#dad9e9 24.5px,#d6a5b5 25.5px,#e5c2cc 26.5px,#f19195 27.5px,#f2999d 28.5px,#d7a3b3 29.5px,#f7bfc1 30.5px,#d995a3 31.5px,#f6b5b8 32.5px,#f4aaad 33.5px,#e1bac6 34.5px,#e7b9c2 35.5px,#f0ced4 36.5px,#f3c2c7 37.5px,#ecadb3 38.5px,#efb6bc 39.5px,#ef8084 40.5px,#efb3b9 41.5px,#ef8c90 42.5px,#f4d9dd 43.5px,#fad5d7 44.5px,#f39da1 45.5px,#cba3b8 46.5px,#efcad0 47.5px,#c8cfe6 48.5px,#ccb3c8 49.5px,#eabbc3 50.5px,#f4acaf 51.5px,#ddc1cf 52.5px,#e9c5ce 53.5px,#f3b3b7 54.5px,#de8793 55.5px,#eeb5bb 56.5px,#d3bdce 57.5px,#dcc0cd 58.5px,#f7c0c2 59.5px,#cabdd3 60.5px,#e5b9c4 61.5px,#e6c9d2 62.5px,#f4bdc1 63.5px,#dfd4e1 64.5px,#f7c2c4 65.5px,#dfcbd8 66.5px,#e8cfd8 67.5px,#d0aabd 68.5px,#f3b3b6 69.5px,#f5aeb1 70.5px,#dfcedb 71.5px,#edb0b7 72.5px,#f19094 73.5px,#eba9b0 74.5px,#f5b1b4 75.5px,#cab4ca 76.5px,#ded5e2 77.5px,#deb5c2 78.5px,#f5ced2 79.5px,#edd4db 80.5px,#cbbed3 81.5px,#ecbec5 82.5px,#b8c5e2 83.5px,#a196bd 84.5px,#cda4b7 85.5px,#c596ad 86.5px,#dabcca 87.5px,#cdc8dc 88.5px,#a5afd4 89.5px,#9daed7 90.5px,#dbd4e3 91.5px,#c4acc4 92.5px,#b199b9 93.5px,#d6a4b4 94.5px,#cdcce0 95.5px,#d8b5c4 96.5px,#c0a2bb 97.5px,#dcd6e4 98.5px,#dccfdd 99.5px,#f4ced2 100.5px,#bac6e3 101.5px,#d6d1e2 102.5px,#bcc8e4 103.5px,#b3c0e0 104.5px,#bfb7d1 105.5px,#b5b5d4 106.5px,#e2d0dc 107.5px,#c6b8cf 108.5px,#bbc7e3 109.5px,#e2d3df 110.5px,#bcc8e4 111.5px,#cdc7db 112.5px,#bfcbe5 113.5px,#91a4d2 114.5px,#d4cfe0 115.5px,#c2b8d1 116.5px,#d4b8c9 117.5px,#d4d9eb 118.5px,#cfcade 119.5px,#c6c5dd 120.5px,#fad6d8 121.5px,#bcc4e0 122.5px,#b5c2e1 123.5px,#c6c7de 124.5px,#d1a7b9 125.5px,#f4c8cb 126.5px,#a4b2d8 127.5px,#f2dce1 128.5px,#f0c0c5 129.5px,#e8c6cf 130.5px,#d6b3c3 131.5px,#d3c6d8 132.5px,#d8d1e1 133.5px,#b9c5e3 134.5px,#ccd5ea 135.5px,#dac4d3 136.5px,#ebced6 137.5px,#d5c7d8 138.5px,#bfb5d0 139.5px,#b7c4e2 140.5px,#95a8d4 141.5px,#b9bcd9 142.5px,#cdc8dc 143.5px,#dcccda 144.5px,#bdc3df 145.5px,#e3dae6 146.5px,#d4c0d1 147.5px,#debdca 148.5px,#c4b2ca 149.5px,#bcabc6 150.5px,#d4d5e7 151.5px,#bda1bc 152.5px,#bcbdd9 153.5px,#b1a5c5 154.5px,#b3bada 155.5px,#e0c1cd 156.5px,#a6afd4 157.5px,#d7deef 158.5px,#acbbdd 159.5px,#97a9d5 160.5px,#a199c0 161.5px,#768ec7 162.5px,#859ace 163.5px,#9fb0d8 164.5px,#a0b1d9 165.5px,#d1d9ed 166.5px,#afadce 167.5px,#a0b1d9 168.5px,#a7b7dc 169.5px)"></div>
<div style="left:453.4px;top:336.45px;width:169.6px;height:9.81px;background:linear-gradient(90deg,#ee7c81 0.5px,#f0bcc1 1.5px,#e1bac6 2.5px,#f2cdd1 3.5px,#eec5cb 4.5px,#b8adca 5.5px,#dab1bf 6.5px,#d5c8d9 7.5px,#f6bbbd 8.5px,#f19599 9.5px,#f2989c 10.5px,#eeccd3 11.5px,#e4c8d3 12.5px,#f6babd 13.5px,#e0c6d2 14.5px,#c7cce3 15.5px,#d1ccdf 16.5px,#eeb2b8 17.5px,#f39da1 18.5px,#c8c3da 19.5px,#e4cad5 20.5px,#baa1bd 21.5px,#d9d0e0 22.5px,#d8aab9 23.5px,#f5b2b5 24.5px,#f19397 25.5px,#eac3cb 26.5px,#ebe4ec 27.5px,#d4d3e5 28.5px,#c2b2cb 29.5px,#f3c6ca 30.5px,#f6bbbe 31.5px,#ebb2b9 32.5px,#f08d91 33.5px,#f8c9cb 34.5px,#e7d3dd 35.5px,#dec8d5 36.5px,#f7bec0 37.5px,#eda5ab 38.5px,#e0ceda 39.5px,#f4b9bd 40.5px,#d6dbec 41.5px,#e8cfd7 42.5px,#f6d2d5 43.5px,#d3d0e3 44.5px,#e4a1ab 45.5px,#e199a4 46.5px,#de9daa 47.5px,#deb4c1 48.5px,#f4acae 49.5px,#f1cacf 50.5px,#f39ea1 51.5px,#eb9197 52.5px,#e5b8c1 53.5px,#d7cddd 54.5px,#f5bec1 55.5px,#ec9fa6 56.5px,#bfbdd7 57.5px,#ceb8cc 58.5px,#cbcadf 59.5px,#d0c0d3 60.5px,#d6acbc 61.5px,#f1dadf 62.5px,#e6aab3 63.5px,#eaa7ae 64.5px,#ead3db 65.5px,#f39fa2 66.5px,#ebbdc4 67.5px,#f0c8cd 68.5px,#e4c4cf 69.5px,#d3afc0 70.5px,#e6bec7 71.5px,#f2c7cc 72.5px,#e7bdc6 73.5px,#ba9cb8 74.5px,#f3a3a6 75.5px,#f29ca0 76.5px,#f4bec2 77.5px,#c4b5cd 78.5px,#e7d1db 79.5px,#ef8489 80.5px,#dfafbc 81.5px,#ecd7df 82.5px,#d4aabb 83.5px,#f0d1d7 84.5px,#f4b8bb 85.5px,#d6ddee 86.5px,#e9ccd5 87.5px,#e2b4bf 88.5px,#b9a3c0 89.5px,#d9d8e8 90.5px,#bbb3cf 91.5px,#dbd9e7 92.5px,#b3c0e0 93.5px,#e5d0da 94.5px,#b8c4e2 95.5px,#d8d7e7 96.5px,#f7dbde 97.5px,#b28eae 98.5px,#e8b8c0 99.5px,#e0ccd8 100.5px,#c1a8c1 101.5px,#e2c0cc 102.5px,#c9c1d7 103.5px,#cec4d8 104.5px,#cab4ca 105.5px,#f4d3d6 106.5px,#ccd2e7 107.5px,#c5b8d0 108.5px,#b4c1e1 109.5px,#ccb6cb 110.5px,#98abd6 111.5px,#bcc8e4 112.5px,#b4c1e1 113.5px,#dbdae9 114.5px,#e4c9d3 115.5px,#efd1d7 116.5px,#ba9db9 117.5px,#b2c0e0 118.5px,#849acd 119.5px,#e6c7d1 120.5px,#d8c5d4 121.5px,#aca2c5 122.5px,#c7b5cc 123.5px,#93a6d3 124.5px,#d2bcce 125.5px,#c3bdd6 126.5px,#c5c8e1 127.5px,#aea9cb 128.5px,#b3c0e0 129.5px,#c8cae1 130.5px,#bdbdd9 131.5px,#cfb9cd 132.5px,#d4d1e3 133.5px,#c0b9d3 134.5px,#e3bec9 135.5px,#bdbfda 136.5px,#e9dbe4 137.5px,#cdb0c4 138.5px,#a0b1d9 139.5px,#d4cddf 140.5px,#c9d3e9 141.5px,#b3b7d6 142.5px,#dcb4c2 143.5px,#cbaec3 144.5px,#c2b6d0 145.5px,#c5cfe8 146.5px,#ccabc0 147.5px,#879cce 148.5px,#bdb8d3 149.5px,#c7cce3 150.5px,#9da8d1 151.5px,#a1afd6 152.5px,#bd9cb7 153.5px,#b0bedf 154.5px,#aebcde 155.5px,#98a3ce 156.5px,#bebcd7 157.5px,#c0c8e2 158.5px,#9caed7 159.5px,#8ba0d0 160.5px,#cfd5e9 161.5px,#b1abcc 162.5px,#a3b3da 163.5px,#99a4ce 164.5px,#b3c0e0 165.5px,#8ea2d1 166.5px,#92a5d3 167.5px,#869bce 168.5px,#5977bc 169.5px)"></div>
<div style="left:453.4px;top:346.26px;width:169.6px;height:9.81px;background:linear-gradient(90deg,#efd3d9 0.5px,#f5adb0 1.5px,#f5afb2 2.5px,#df919d 3.5px,#f0adb2 4.5px,#ecb9bf 5.5px,#e0cfdc 6.5px,#dd8f9c 7.5px,#dfd1de 8.5px,#decad7 9.5px,#e6aab3 10.5px,#e7e2eb 11.5px,#f3b0b3 12.5px,#f3a4a7 13.5px,#eaaab1 14.5px,#ecbdc4 15.5px,#f6bcbe 16.5px,#f2c5ca 17.5px,#ddb2bf 18.5px,#f3a2a6 19.5px,#e8a7af 20.5px,#f5afb2 21.5px,#e4bdc7 22.5px,#e3cad5 23.5px,#cfbccf 24.5px,#d5b9ca 25.5px,#e5a5af 26.5px,#e5d0db 27.5px,#ecc5cc 28.5px,#ecbec5 29.5px,#f6b5b8 30.5px,#efc3c9 31.5px,#e6aeb7 32.5px,#cfc6da 33.5px,#ddc4d2 34.5px,#c8aac0 35.5px,#e7c4cd 36.5px,#e3c0cb 37.5px,#e7c8d2 38.5px,#ead9e2 39.5px,#cb98ad 40.5px,#f1d4d9 41.5px,#da9aa8 42.5px,#e8bdc5 43.5px,#d2a1b2 44.5px,#e6b8c2 45.5px,#b7bddb 46.5px,#ccb5c9 47.5px,#dca5b2 48.5px,#da8f9c 49.5px,#eab8bf 50.5px,#e1a1ac 51.5px,#d19aac 52.5px,#d6c7d8 53.5px,#edbcc3 54.5px,#c7d1e8 55.5px,#eeb7bd 56.5px,#ddd2e0 57.5px,#d1cadd 58.5px,#f0c0c5 59.5px,#d7aaba 60.5px,#e8abb4 61.5px,#bec2dd 62.5px,#cdcce1 63.5px,#dcb3c0 64.5px,#e5a8b2 65.5px,#e1d1dd 66.5px,#e8c4cd 67.5px,#cbaabf 68.5px,#f4a9ac 69.5px,#eebcc2 70.5px,#eec8ce 71.5px,#c790a7 72.5px,#e4d4df 73.5px,#ccbcd1 74.5px,#d6bccd 75.5px,#c2b0c9 76.5px,#dfd2df 77.5px,#eadbe3 78.5px,#c8b8ce 79.5px,#c2b8d1 80.5px,#cba6bb 81.5px,#d4c2d3 82.5px,#d3aec0 83.5px,#c4bad2 84.5px,#c7bbd2 85.5px,#a0b1d9 86.5px,#c4cee7 87.5px,#debdca 88.5px,#c0c2dd 89.5px,#ac87a9 90.5px,#f0aaae 91.5px,#d3b0c2 92.5px,#7d94ca 93.5px,#b7c4e2 94.5px,#ddb6c3 95.5px,#e7cad3 96.5px,#e5bbc4 97.5px,#c9c5db 98.5px,#dfceda 99.5px,#e6aab3 100.5px,#b5afce 101.5px,#efbac0 102.5px,#beb2cc 103.5px,#afbadc 104.5px,#b9acc9 105.5px,#b8c5e2 106.5px,#cbc7dc 107.5px,#d5c1d2 108.5px,#c5bbd3 109.5px,#cec0d4 110.5px,#e6bdc7 111.5px,#c3c4de 112.5px,#c8bcd3 113.5px,#a7b2d7 114.5px,#ded2df 115.5px,#d7cddd 116.5px,#ddddeb 117.5px,#e1c4d0 118.5px,#dcd7e5 119.5px,#ccc6db 120.5px,#e0c9d5 121.5px,#e4d9e4 122.5px,#bca9c4 123.5px,#beb8d2 124.5px,#e8d8e2 125.5px,#bec7e2 126.5px,#e3d1dd 127.5px,#cdc6db 128.5px,#d4b5c6 129.5px,#e6c5cf 130.5px,#e0b6c2 131.5px,#d2c6d8 132.5px,#e0dbe8 133.5px,#d3cee0 134.5px,#ddcfdd 135.5px,#b9c5e3 136.5px,#d3d0e3 137.5px,#bac6e3 138.5px,#d590a1 139.5px,#e6c2cc 140.5px,#e8bec6 141.5px,#f7c2c4 142.5px,#b7b7d5 143.5px,#bbbeda 144.5px,#d7cfdf 145.5px,#d0c0d3 146.5px,#dcbbc9 147.5px,#eadee6 148.5px,#a0b0d8 149.5px,#ced6eb 150.5px,#d5aaba 151.5px,#ebc5cc 152.5px,#d6dbec 153.5px,#cad3e9 154.5px,#b8b1ce 155.5px,#98aad5 156.5px,#e5d3dd 157.5px,#bfa3bd 158.5px,#c5c8e1 159.5px,#b0aecf 160.5px,#cbcde3 161.5px,#b397b6 162.5px,#dabbca 163.5px,#a0b1d9 164.5px,#bdc8e4 165.5px,#e5d4df 166.5px,#efd8df 167.5px,#b0bddf 168.5px,#a28ab0 169.5px)"></div>
<div style="left:453.4px;top:356.07px;width:169.6px;height:9.81px;background:linear-gradient(90deg,#ecd8df 0.5px,#e6cbd5 1.5px,#f2d0d5 2.5px,#c5c2da 3.5px,#a7b3d8 4.5px,#abadd0 5.5px,#d9c9d8 6.5px,#babdd9 7.5px,#e6d0da 8.5px,#c6c0d7 9.5px,#c9d3e9 10.5px,#e9c5ce 11.5px,#e3bdc8 12.5px,#c5c1d9 13.5px,#c8bbd1 14.5px,#c2cce6 15.5px,#dbd2e1 16.5px,#d4d1e3 17.5px,#f8c5c7 18.5px,#e8c8d1 19.5px,#bbb4d0 20.5px,#c6c0d8 21.5px,#dedbe9 22.5px,#cebace 23.5px,#d0bed1 24.5px,#b6acca 25.5px,#cbcbe1 26.5px,#cfd7ec 27.5px,#d6c8d9 28.5px,#b6b5d3 29.5px,#c9afc5 30.5px,#bbb3cf 31.5px,#becae5 32.5px,#ece0e8 33.5px,#c3a8c1 34.5px,#e8d2db 35.5px,#dfd4e2 36.5px,#ceb5c8 37.5px,#cebdd1 38.5px,#93a6d3 39.5px,#c9abc1 40.5px,#babcd8 41.5px,#eed2d9 42.5px,#cfa9bc 43.5px,#e5cbd5 44.5px,#abbadd 45.5px,#dad2e1 46.5px,#aab9dd 47.5px,#bdc1dd 48.5px,#aab9dd 49.5px,#e0c0cc 50.5px,#ddccd9 51.5px,#bfb7d2 52.5px,#d3b4c5 53.5px,#b1adcd 54.5px,#a0b1d8 55.5px,#c1bdd7 56.5px,#ebdbe3 57.5px,#d7c0d0 58.5px,#c7b2c9 59.5px,#ccd5ea 60.5px,#cfbed1 61.5px,#deddea 62.5px,#e7ccd6 63.5px,#dbc5d4 64.5px,#c9cae0 65.5px,#d7d6e6 66.5px,#dedbe9 67.5px,#ddd8e5 68.5px,#cbc1d7 69.5px,#dfcfdc 70.5px,#cfb2c5 71.5px,#eeb3b9 72.5px,#cbc7dc 73.5px,#dcd8e6 74.5px,#acb7d9 75.5px,#d9d4e4 76.5px,#b0accd 77.5px,#dadae9 78.5px,#b8c4e2 79.5px,#d3cbdd 80.5px,#c2cde6 81.5px,#edb5bb 82.5px,#d9d3e2 83.5px,#aeabcd 84.5px,#dbd8e7 85.5px,#d4c3d4 86.5px,#dfd9e6 87.5px,#d3cfe1 88.5px,#dac4d3 89.5px,#e4d8e3 90.5px,#e9bbc3 91.5px,#e2c4cf 92.5px,#f4bfc2 93.5px,#f1adb2 94.5px,#e5c3cd 95.5px,#e9d3dc 96.5px,#d3c5d7 97.5px,#f5b9bc 98.5px,#ecdbe3 99.5px,#dbdae9 100.5px,#e4c3cd 101.5px,#f0c8ce 102.5px,#d2c0d2 103.5px,#bac3e0 104.5px,#ccc5da 105.5px,#d2cadc 106.5px,#efb7bc 107.5px,#d7d0e1 108.5px,#e7bbc4 109.5px,#dbccda 110.5px,#dfccd9 111.5px,#f5c3c6 112.5px,#c0cbe6 113.5px,#d6a0b0 114.5px,#c89eb4 115.5px,#d48d9e 116.5px,#dac4d2 117.5px,#f4b1b4 118.5px,#e8d5df 119.5px,#e4a9b3 120.5px,#dfc0cd 121.5px,#e0ccd8 122.5px,#f8c5c7 123.5px,#daa6b5 124.5px,#e8d0d9 125.5px,#dfb7c4 126.5px,#ddd6e3 127.5px,#fad5d6 128.5px,#f7bfc2 129.5px,#f8cbcc 130.5px,#f7c0c3 131.5px,#bbb4d0 132.5px,#c1cce6 133.5px,#caacc1 134.5px,#e698a0 135.5px,#cebdd1 136.5px,#e8bac2 137.5px,#e1bcc7 138.5px,#d8b1c0 139.5px,#dbc6d4 140.5px,#cdd1e6 141.5px,#edbfc6 142.5px,#d8ccdc 143.5px,#d9a6b5 144.5px,#f6b7ba 145.5px,#f9cfd1 146.5px,#dcd0de 147.5px,#eabdc4 148.5px,#f4c4c7 149.5px,#d9cada 150.5px,#decfdd 151.5px,#f4bbbe 152.5px,#f3a2a5 153.5px,#d4cadb 154.5px,#f2bec2 155.5px,#d7c8d8 156.5px,#eecfd6 157.5px,#ecd6de 158.5px,#e2b4bf 159.5px,#ed7176 160.5px,#ee8388 161.5px,#e5c7d1 162.5px,#f29b9f 163.5px,#ea8288 164.5px,#f1b2b6 165.5px,#f5afb2 166.5px,#ea5d63 167.5px,#f4aaad 168.5px,#e9cfd7 169.5px)"></div>
<div style="left:453.4px;top:365.88px;width:169.6px;height:9.81px;background:linear-gradient(90deg,#c0aac3 0.5px,#bbc7e4 1.5px,#b0badc 2.5px,#bdc4e0 3.5px,#c9d3e9 4.5px,#cdc6db 5.5px,#d6deef 6.5px,#d6b9c9 7.5px,#dcd1e0 8.5px,#b8c5e2 9.5px,#869bce 10.5px,#c7c3da 11.5px,#e1ceda 12.5px,#d5dbec 13.5px,#d1bfd1 14.5px,#f6b8bb 15.5px,#cac3d9 16.5px,#e7e0ea 17.5px,#d4cbdd 18.5px,#d9d9e9 19.5px,#d4cadc 20.5px,#a9b8dc 21.5px,#bdc3df 22.5px,#d6c1d2 23.5px,#e9c7d0 24.5px,#dccbd9 25.5px,#d7d2e3 26.5px,#ddd1df 27.5px,#b8c2e0 28.5px,#a8a2c6 29.5px,#d5ccdd 30.5px,#d0c9dd 31.5px,#cab8cd 32.5px,#8399cd 33.5px,#eccdd4 34.5px,#c6c9e1 35.5px,#9daed7 36.5px,#a6b6db 37.5px,#95a7d4 38.5px,#8da1d1 39.5px,#edc7ce 40.5px,#d8d0e0 41.5px,#abb7da 42.5px,#e2d1dc 43.5px,#b4abca 44.5px,#b9b8d5 45.5px,#ceb1c5 46.5px,#ebc9d0 47.5px,#dcbfcd 48.5px,#b38aa9 49.5px,#bcb1cd 50.5px,#ece1e8 51.5px,#e3d1dc 52.5px,#e0ddea 53.5px,#e0d3e0 54.5px,#d4b8c9 55.5px,#b7c3e2 56.5px,#ddc4d2 57.5px,#d7b6c7 58.5px,#e5ccd6 59.5px,#95a2ce 60.5px,#dbb6c4 61.5px,#bfbed8 62.5px,#d9c0cf 63.5px,#c8adc3 64.5px,#afb5d7 65.5px,#dac9d7 66.5px,#d0c1d4 67.5px,#b39ebe 68.5px,#b6b7d6 69.5px,#9dacd5 70.5px,#cbc4da 71.5px,#ddd7e5 72.5px,#cdc6db 73.5px,#dec5d2 74.5px,#cbc1d6 75.5px,#b5c0df 76.5px,#e9d0d9 77.5px,#cdd2e6 78.5px,#bfbfd9 79.5px,#aab9dd 80.5px,#e3afb9 81.5px,#d2d6e8 82.5px,#e0e6f3 83.5px,#f1a4a8 84.5px,#e8d1da 85.5px,#d5d8ea 86.5px,#c9cce3 87.5px,#d2b6c8 88.5px,#e5cbd5 89.5px,#f29da0 90.5px,#d297a9 91.5px,#eae2ea 92.5px,#eabfc7 93.5px,#f5b2b5 94.5px,#eac9d1 95.5px,#dc8c98 96.5px,#e3bac4 97.5px,#f19397 98.5px,#f8c4c6 99.5px,#f39ea1 100.5px,#d7d0e0 101.5px,#f0b3b8 102.5px,#ebdce4 103.5px,#e6dfe9 104.5px,#f2d0d5 105.5px,#f4a8ab 106.5px,#d9cedd 107.5px,#dbbfcd 108.5px,#e6afb8 109.5px,#e5dee9 110.5px,#e7d3dd 111.5px,#efc4ca 112.5px,#e3b1bc 113.5px,#dbb8c6 114.5px,#f5b4b6 115.5px,#deb4c1 116.5px,#e0ccd9 117.5px,#ded3e1 118.5px,#ebc8d0 119.5px,#f7c1c3 120.5px,#e2c2ce 121.5px,#f4aaad 122.5px,#f5b0b3 123.5px,#e1cbd7 124.5px,#f6c0c2 125.5px,#deb1be 126.5px,#f1ced3 127.5px,#d9d2e2 128.5px,#d7c7d7 129.5px,#dd9eaa 130.5px,#f08b8f 131.5px,#d1b5c8 132.5px,#dbc0cf 133.5px,#f9cdce 134.5px,#e3cad5 135.5px,#debbc8 136.5px,#e3abb5 137.5px,#e8d1da 138.5px,#f19498 139.5px,#d8cbdb 140.5px,#d9cbdb 141.5px,#e9c3cc 142.5px,#cfa9bc 143.5px,#f1bfc4 144.5px,#dfb5c1 145.5px,#f29ca0 146.5px,#d9ccdc 147.5px,#e69ea7 148.5px,#f5b4b6 149.5px,#f5d9dd 150.5px,#e8bac2 151.5px,#ecc6cd 152.5px,#dbaab7 153.5px,#ddadba 154.5px,#bdc0db 155.5px,#f5b2b5 156.5px,#f0bfc5 157.5px,#ef8489 158.5px,#d7d1e1 159.5px,#f1a8ac 160.5px,#ebb8c0 161.5px,#f2979b 162.5px,#f6b5b8 163.5px,#f4a6a9 164.5px,#e69ba4 165.5px,#ed7479 166.5px,#e697a0 167.5px,#ee7d82 168.5px,#e95259 169.5px)"></div>
<div style="left:453.4px;top:375.68px;width:169.6px;height:9.81px;background:linear-gradient(90deg,#bfcae5 0.5px,#b2b3d3 1.5px,#d1c4d7 2.5px,#e0bbc7 3.5px,#bac0dd 4.5px,#959eca 5.5px,#e3c3cd 6.5px,#c9d3e9 7.5px,#d5b9c9 8.5px,#e0c6d2 9.5px,#debac7 10.5px,#e5d3de 11.5px,#d4ccdd 12.5px,#e7dbe5 13.5px,#e0dbe8 14.5px,#baabc7 15.5px,#f6d4d7 16.5px,#d5d4e5 17.5px,#d1b8ca 18.5px,#ebdae2 19.5px,#ddbdca 20.5px,#b7b3d1 21.5px,#f2b6bb 22.5px,#d4c8da 23.5px,#dab8c7 24.5px,#f5b1b4 25.5px,#cfb7cb 26.5px,#ebcdd5 27.5px,#e6aab3 28.5px,#d7c9d9 29.5px,#d1d9ec 30.5px,#f5dbde 31.5px,#e7d1db 32.5px,#f1a8ad 33.5px,#d7aebe 34.5px,#e9d8e0 35.5px,#d6cfdf 36.5px,#ccd5ea 37.5px,#b2c0e0 38.5px,#d2c1d4 39.5px,#c2bcd5 40.5px,#b5b7d5 41.5px,#c6c2d9 42.5px,#ebdde5 43.5px,#b6aecc 44.5px,#ccc7dc 45.5px,#ecd1d8 46.5px,#aeb4d6 47.5px,#cbbbd0 48.5px,#c2a6bf 49.5px,#b9afcc 50.5px,#deccd9 51.5px,#c4c3dc 52.5px,#decad7 53.5px,#e7d1da 54.5px,#e4c6d0 55.5px,#c7d1e8 56.5px,#afbdde 57.5px,#d8c7d7 58.5px,#e4bcc6 59.5px,#c7cce4 60.5px,#eae4ec 61.5px,#d7adbd 62.5px,#c8c1d7 63.5px,#d7c9d9 64.5px,#d0cde0 65.5px,#d9bdcc 66.5px,#e1b7c3 67.5px,#c4c3db 68.5px,#e6bac3 69.5px,#a1b1d9 70.5px,#beb7d2 71.5px,#bfa6c0 72.5px,#dbcedd 73.5px,#e1d3df 74.5px,#93a6d3 75.5px,#96a8d4 76.5px,#d2c5d7 77.5px,#b9c5e3 78.5px,#dac7d6 79.5px,#e6dde8 80.5px,#d7d2e2 81.5px,#f1c5ca 82.5px,#e8d8e1 83.5px,#dfbbc8 84.5px,#e0bfcb 85.5px,#edc6cd 86.5px,#d5bfd0 87.5px,#f1bec3 88.5px,#e3b9c4 89.5px,#bdaec9 90.5px,#f3b9bd 91.5px,#e2bac5 92.5px,#bcb2cd 93.5px,#d5abbc 94.5px,#f0cad0 95.5px,#dbbbc9 96.5px,#dec1ce 97.5px,#caaec4 98.5px,#ea868c 99.5px,#ddc2d0 100.5px,#e6d3de 101.5px,#afa1c2 102.5px,#e8b4bd 103.5px,#cecde1 104.5px,#d9c0d0 105.5px,#cdb3c7 106.5px,#b9bad7 107.5px,#dfd0dd 108.5px,#d8c5d5 109.5px,#cbd4ea 110.5px,#f3b5b9 111.5px,#f7cfd2 112.5px,#e2dfeb 113.5px,#cac5db 114.5px,#c5cfe8 115.5px,#f4cbce 116.5px,#c6c9e0 117.5px,#dbcedd 118.5px,#e1bdc9 119.5px,#eeb8be 120.5px,#e3c3ce 121.5px,#d6becf 122.5px,#dcc1cf 123.5px,#e5afb9 124.5px,#f1d7dd 125.5px,#dad3e2 126.5px,#e3b3bd 127.5px,#ddcfdc 128.5px,#f7bec0 129.5px,#eacbd3 130.5px,#e7c4cd 131.5px,#f6b5b7 132.5px,#c88ba1 133.5px,#e9b8c0 134.5px,#e1cfdb 135.5px,#f5b4b7 136.5px,#bdb0cb 137.5px,#d7d1e1 138.5px,#edc1c8 139.5px,#cfb0c4 140.5px,#caafc5 141.5px,#f2cbcf 142.5px,#edbdc4 143.5px,#efbcc2 144.5px,#f8cbcc 145.5px,#e3d2dd 146.5px,#f0cbd1 147.5px,#e3c2cd 148.5px,#e3b2bc 149.5px,#f5aeb1 150.5px,#eba5ac 151.5px,#ee999e 152.5px,#f5adb0 153.5px,#e1c8d4 154.5px,#f3a2a5 155.5px,#eab6be 156.5px,#f5b4b7 157.5px,#f9cdcf 158.5px,#ecd7de 159.5px,#e6c6d0 160.5px,#ee8d92 161.5px,#e7b8c1 162.5px,#f9ccce 163.5px,#f5b2b5 164.5px,#ee777c 165.5px,#e8abb3 166.5px,#e6c6d0 167.5px,#f0898d 168.5px,#f7c2c4 169.5px)"></div>
<div style="left:453.4px;top:385.49px;width:169.6px;height:9.81px;background:linear-gradient(90deg,#eb5f65 0.5px,#e3a7b1 1.5px,#dc8a97 2.5px,#efc5ca 3.5px,#f0bbc0 4.5px,#ef989d 5.5px,#f9d0d2 6.5px,#ed757a 7.5px,#ed7277 8.5px,#f3a4a7 9.5px,#edbec5 10.5px,#dfa1ad 11.5px,#daadbc 12.5px,#e5aab4 13.5px,#ddbac8 14.5px,#f3a5a8 15.5px,#e5b4bd 16.5px,#f5aeb1 17.5px,#f9cfd1 18.5px,#daacbb 19.5px,#ec696e 20.5px,#f7c4c6 21.5px,#f29a9e 22.5px,#f1c6cb 23.5px,#eabdc4 24.5px,#cfa6b9 25.5px,#e5bcc5 26.5px,#ebc1c9 27.5px,#f7c1c3 28.5px,#ee7c81 29.5px,#e9c2cb 30.5px,#f8c5c7 31.5px,#f8cacc 32.5px,#efced4 33.5px,#e4d8e2 34.5px,#e5c0c9 35.5px,#cecfe3 36.5px,#e8d8e1 37.5px,#f6babc 38.5px,#f4a6a9 39.5px,#f08b8f 40.5px,#f9ced0 41.5px,#e0bbc7 42.5px,#efc1c7 43.5px,#ddc1cf 44.5px,#f4a7aa 45.5px,#e08e99 46.5px,#eed0d7 47.5px,#f19598 48.5px,#f7bfc1 49.5px,#e9a7af 50.5px,#ef8387 51.5px,#e7bec7 52.5px,#dea0ad 53.5px,#e2d0dc 54.5px,#ccbcd1 55.5px,#f5b2b4 56.5px,#d1b6c9 57.5px,#f5b4b7 58.5px,#e5bec8 59.5px,#e9bdc5 60.5px,#f6babd 61.5px,#e1bbc7 62.5px,#f5b4b7 63.5px,#deafbb 64.5px,#f3a2a6 65.5px,#f29a9e 66.5px,#f2989c 67.5px,#f3a0a3 68.5px,#e7adb6 69.5px,#f3a2a5 70.5px,#deb0bd 71.5px,#d8afbe 72.5px,#d09eb1 73.5px,#f2ced2 74.5px,#e2aeb9 75.5px,#e9c8d1 76.5px,#d0cde0 77.5px,#d1c7d9 78.5px,#d8bfcf 79.5px,#e3ccd7 80.5px,#f4abae 81.5px,#c8b5cb 82.5px,#deb6c3 83.5px,#d3bed0 84.5px,#f8c6c8 85.5px,#e5c6d0 86.5px,#edc4ca 87.5px,#e1b2be 88.5px,#eddce3 89.5px,#dbd9e8 90.5px,#ccd3e9 91.5px,#e8d9e2 92.5px,#e8d4dd 93.5px,#ded4e1 94.5px,#b9c5e2 95.5px,#ccd5eb 96.5px,#dfc0cd 97.5px,#dfcedb 98.5px,#d7abbb 99.5px,#f4d8dc 100.5px,#acb1d4 101.5px,#cfb6c9 102.5px,#d2adbe 103.5px,#ecdfe6 104.5px,#bbc5e1 105.5px,#f4d1d5 106.5px,#d9c4d3 107.5px,#c6d0e8 108.5px,#bebdd8 109.5px,#d2c2d4 110.5px,#afbbdc 111.5px,#d6d2e2 112.5px,#dfc0cd 113.5px,#c8d2e9 114.5px,#e9d8e1 115.5px,#d8b1c0 116.5px,#d1c1d4 117.5px,#eedce3 118.5px,#adbbdd 119.5px,#d2cfe1 120.5px,#d5a7b8 121.5px,#adaed0 122.5px,#a8acd0 123.5px,#e8c7d0 124.5px,#d3a5b6 125.5px,#e1d1dd 126.5px,#9aacd6 127.5px,#cdc8dd 128.5px,#e0cdda 129.5px,#d0c1d4 130.5px,#e2c4d0 131.5px,#abb9dc 132.5px,#d79baa 133.5px,#ddd4e2 134.5px,#e8afb8 135.5px,#d5d1e2 136.5px,#dbcad8 137.5px,#d6b3c3 138.5px,#d8b4c4 139.5px,#eddfe6 140.5px,#e6cfd9 141.5px,#c0bfda 142.5px,#f5aeb1 143.5px,#cbb3c8 144.5px,#e1d0dc 145.5px,#c8d2e9 146.5px,#ccbed3 147.5px,#cfcee2 148.5px,#e4d3df 149.5px,#e2d5e1 150.5px,#cabed4 151.5px,#8ca0d0 152.5px,#acaacc 153.5px,#cbbfd4 154.5px,#c4cee7 155.5px,#bdb6d1 156.5px,#b8a9c6 157.5px,#cecbdf 158.5px,#b8bfdd 159.5px,#a89cc0 160.5px,#c8cae1 161.5px,#9daed7 162.5px,#99abd6 163.5px,#d7cbdc 164.5px,#9baad4 165.5px,#879cce 166.5px,#b6afce 167.5px,#c2cde6 168.5px,#a8b8dc 169.5px)"></div>
</div></body></html>
